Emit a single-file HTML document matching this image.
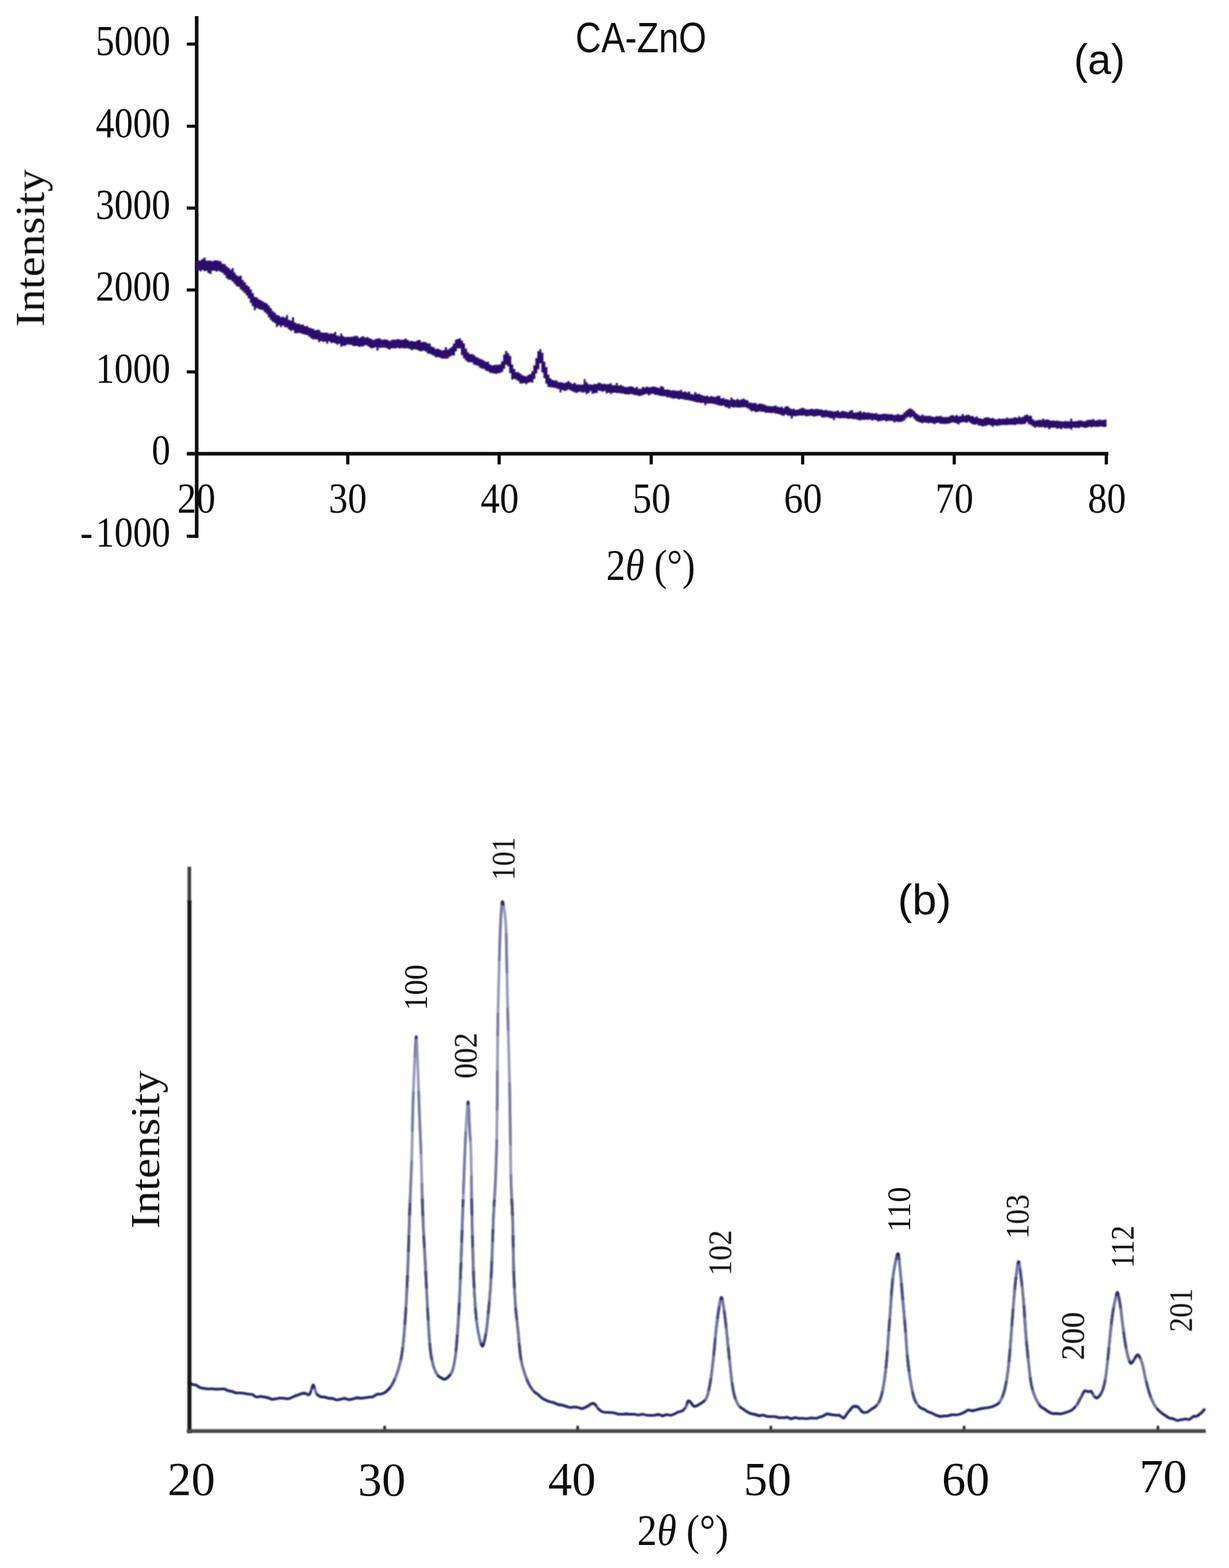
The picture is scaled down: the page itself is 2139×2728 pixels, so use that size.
<!DOCTYPE html>
<html lang="en"><head><meta charset="utf-8"><title>XRD patterns: CA-ZnO</title>
<style>
html,body{margin:0;padding:0;background:#fff;}
body{width:2139px;height:2728px;}
svg{display:block;}
.se{font-family:"Liberation Serif","DejaVu Serif",serif;fill:#0f0f0f;}
.tx{filter:url(#bl5);}
.sa{font-family:"Liberation Sans","DejaVu Sans",sans-serif;fill:#111;}
</style></head><body>
<svg width="2139" height="2728" viewBox="0 0 2139 2728" role="img" aria-label="XRD patterns of CA-ZnO (a) and ZnO (b)">
<rect x="0" y="0" width="2139" height="2728" fill="#ffffff"/>
<defs><filter id="bl2" x="-2%" y="-10%" width="104%" height="120%"><feGaussianBlur stdDeviation="0.8"/></filter><filter id="bl3" filterUnits="userSpaceOnUse" x="300" y="1480" width="1839" height="1040"><feGaussianBlur stdDeviation="0.9"/></filter><filter id="bl4" filterUnits="userSpaceOnUse" x="300" y="0" width="1700" height="960"><feGaussianBlur stdDeviation="0.7"/></filter><filter id="bl5" filterUnits="userSpaceOnUse" x="0" y="0" width="2139" height="2728"><feGaussianBlur stdDeviation="0.65"/></filter><filter id="bl" filterUnits="userSpaceOnUse" x="300" y="1480" width="1839" height="1040"><feGaussianBlur stdDeviation="1.15"/></filter></defs>
<g id="chart-a">
<g stroke="#0a0a0a" stroke-width="6.2" fill="none" stroke-linecap="butt" filter="url(#bl4)">
<line x1="342.3" y1="28" x2="342.3" y2="936"/>
<line x1="325" y1="789.3" x2="1929" y2="789.3"/>
<line x1="325" y1="76.7" x2="343" y2="76.7" stroke-width="5.4"/>
<line x1="325" y1="219.6" x2="343" y2="219.6" stroke-width="5.4"/>
<line x1="325" y1="362" x2="343" y2="362" stroke-width="5.4"/>
<line x1="325" y1="504.5" x2="343" y2="504.5" stroke-width="5.4"/>
<line x1="325" y1="647" x2="343" y2="647" stroke-width="5.4"/>
<line x1="325" y1="933" x2="343" y2="933" stroke-width="5.4"/>
<line x1="605.3" y1="789" x2="605.3" y2="808" stroke-width="5.6"/>
<line x1="868.7" y1="789" x2="868.7" y2="808" stroke-width="5.6"/>
<line x1="1133.4" y1="789" x2="1133.4" y2="808" stroke-width="5.6"/>
<line x1="1397" y1="789" x2="1397" y2="808" stroke-width="5.6"/>
<line x1="1660.8" y1="789" x2="1660.8" y2="808" stroke-width="5.6"/>
<line x1="1925.5" y1="789" x2="1925.5" y2="808" stroke-width="5.6"/>
</g>
<path d="M340.2,454.1V454.1H343.8V453.3H347.2V452.9H350.8V450.4H354.2V448.0H357.8V453.5H361.2V453.2H364.8V453.6H368.2V454.4H371.8V453.1H375.2V453.0H378.8V453.8H382.2V454.8H385.8V459.1H389.2V459.5H392.8V463.2H396.2V466.1H399.8V469.3H403.2V466.5H406.8V474.3H410.2V478.8H413.8V480.7H417.2V479.5H420.8V487.0H424.2V490.9H427.8V495.8H431.2V498.6H434.8V503.5H438.2V509.9H441.8V516.6H445.2V517.5H448.8V520.8H452.2V522.3H455.8V524.2H459.2V526.5H462.8V528.1H466.2V531.8H469.8V536.2H473.2V541.2H476.8V544.0H480.2V547.7H483.8V549.0H487.2V551.7H490.8V551.0H494.2V552.4H497.8V548.1H501.2V556.4H504.8V557.7H508.2V552.1H511.8V560.9H515.2V562.9H518.8V563.3H522.2V564.7H525.8V564.7H529.2V567.7H532.8V566.9H536.2V570.0H539.8V571.0H543.2V571.9H546.8V574.8H550.2V573.8H553.8V573.9H557.2V578.0H560.8V579.0H564.2V578.8H567.8V578.7H571.2V580.4H574.8V579.9H578.2V580.2H581.8V577.2H585.2V583.7H588.8V584.7H592.2V580.2H595.8V584.7H599.2V586.4H602.8V585.9H606.2V586.2H609.8V585.9H613.2V585.4H616.8V583.9H620.2V584.7H623.8V587.9H627.2V586.0H630.8V585.1H634.2V587.5H637.8V586.3H641.2V588.4H644.8V589.7H648.2V591.5H651.8V589.9H655.2V589.1H658.8V588.6H662.2V590.8H665.8V590.8H669.2V590.6H672.8V591.3H676.2V593.3H679.8V591.8H683.2V590.4H686.8V591.1H690.2V590.1H693.8V590.5H697.2V591.3H700.8V590.8H704.2V589.1H707.8V591.2H711.2V593.5H714.8V593.0H718.2V593.9H721.8V594.1H725.2V592.0H728.8V591.3H732.2V595.6H735.8V594.6H739.2V595.5H742.8V597.2H746.2V597.8H749.8V603.0H753.2V604.2H756.8V607.3H760.2V606.4H763.8V607.9H767.2V609.8H770.8V609.0H774.2V604.1H777.8V608.3H781.2V605.9H784.8V603.2H788.2V597.8H791.8V590.9H795.2V589.7H798.8V588.5H802.2V592.5H805.8V597.6H809.2V606.4H812.8V612.8H816.2V616.1H819.8V616.0H823.2V617.6H826.8V620.7H830.2V622.3H833.8V624.3H837.2V625.6H840.8V627.4H844.2V629.4H847.8V629.4H851.2V634.1H854.8V636.1H858.2V635.0H861.8V634.4H865.2V634.8H868.8V633.8H872.2V628.6H875.8V616.8H879.2V610.4H882.8V614.6H886.2V619.3H889.8V633.9H893.2V642.1H896.8V647.5H900.2V647.5H903.8V649.7H907.2V652.6H910.8V654.1H914.2V654.7H917.8V652.3H921.2V650.7H924.8V645.7H928.2V635.4H931.8V623.1H935.2V610.9H938.8V607.5H942.2V613.7H945.8V629.6H949.2V638.7H952.8V651.7H956.2V658.2H959.8V661.1H963.2V661.9H966.8V661.8H970.2V664.7H973.8V665.1H977.2V665.4H980.8V666.8H984.2V665.0H987.8V663.0H991.2V665.4H994.8V667.9H998.2V665.8H1001.8V668.8H1005.2V669.0H1008.8V669.2H1012.2V669.1H1015.8V659.4H1019.2V665.1H1022.8V668.6H1026.2V668.8H1029.8V669.3H1033.2V668.1H1036.8V668.0H1040.2V665.7H1043.8V666.6H1047.2V668.3H1050.8V667.5H1054.2V668.8H1057.8V668.3H1061.2V666.8H1064.8V670.2H1068.2V670.1H1071.8V666.1H1075.2V671.0H1078.8V669.5H1082.2V671.4H1085.8V673.0H1089.2V673.6H1092.8V672.8H1096.2V671.9H1099.8V673.1H1103.2V674.9H1106.8V672.9H1110.2V676.5H1113.8V676.4H1117.2V673.1H1120.8V674.2H1124.2V672.4H1127.8V673.9H1131.2V673.2H1134.8V672.5H1138.2V672.8H1141.8V673.9H1145.2V675.0H1148.8V671.7H1152.2V673.1H1155.8V677.7H1159.2V677.7H1162.8V678.1H1166.2V679.2H1169.8V678.9H1173.2V679.5H1176.8V679.9H1180.2V679.8H1183.8V678.4H1187.2V682.0H1190.8V680.9H1194.2V682.8H1197.8V681.0H1201.2V685.5H1204.8V686.4H1208.2V682.3H1211.8V685.2H1215.2V685.3H1218.8V687.0H1222.2V688.2H1225.8V689.3H1229.2V688.6H1232.8V690.6H1236.2V689.0H1239.8V689.9H1243.2V690.7H1246.8V688.9H1250.2V688.6H1253.8V693.3H1257.2V692.6H1260.8V694.3H1264.2V694.7H1267.8V696.2H1271.2V691.6H1274.8V694.7H1278.2V696.0H1281.8V694.0H1285.2V696.1H1288.8V694.9H1292.2V693.6H1295.8V695.6H1299.2V696.6H1302.8V700.5H1306.2V700.7H1309.8V701.6H1313.2V701.1H1316.8V703.6H1320.2V702.0H1323.8V702.6H1327.2V703.3H1330.8V704.9H1334.2V706.3H1337.8V706.4H1341.2V707.1H1344.8V706.6H1348.2V705.5H1351.8V707.7H1355.2V708.6H1358.8V707.5H1362.2V709.9H1365.8V707.0H1369.2V706.7H1372.8V709.7H1376.2V711.8H1379.8V711.0H1383.2V713.1H1386.8V712.4H1390.2V711.2H1393.8V709.4H1397.2V710.0H1400.8V712.1H1404.2V712.4H1407.8V712.1H1411.2V711.0H1414.8V712.2H1418.2V711.5H1421.8V711.6H1425.2V712.2H1428.8V712.4H1432.2V713.9H1435.8V713.1H1439.2V714.4H1442.8V714.4H1446.2V715.3H1449.8V716.1H1453.2V715.4H1456.8V713.9H1460.2V717.0H1463.8V715.1H1467.2V715.3H1470.8V716.2H1474.2V717.1H1477.8V714.7H1481.2V713.3H1484.8V718.0H1488.2V717.7H1491.8V716.9H1495.2V715.0H1498.8V717.7H1502.2V716.4H1505.8V718.3H1509.2V717.6H1512.8V718.5H1516.2V718.8H1519.8V719.4H1523.2V718.8H1526.8V720.6H1530.2V721.0H1533.8V720.3H1537.2V719.7H1540.8V719.9H1544.2V720.8H1547.8V720.6H1551.2V720.7H1554.8V722.2H1558.2V721.6H1561.8V720.1H1565.2V722.1H1568.8V721.0H1572.2V717.6H1575.8V714.4H1579.2V711.8H1582.8V710.6H1586.2V712.3H1589.8V715.4H1593.2V719.1H1596.8V721.8H1600.2V723.4H1603.8V720.9H1607.2V723.4H1610.8V723.4H1614.2V723.4H1617.8V723.6H1621.2V725.1H1624.8V725.6H1628.2V724.0H1631.8V724.3H1635.2V723.5H1638.8V725.2H1642.2V725.7H1645.8V725.5H1649.2V725.2H1652.8V722.9H1656.2V722.3H1659.8V723.7H1663.2V722.0H1666.8V724.2H1670.2V723.7H1673.8V720.3H1677.2V723.2H1680.8V721.9H1684.2V721.6H1687.8V723.8H1691.2V723.7H1694.8V726.2H1698.2V724.6H1701.8V727.4H1705.2V728.1H1708.8V729.0H1712.2V726.8H1715.8V726.0H1719.2V726.3H1722.8V728.1H1726.2V727.1H1729.8V728.9H1733.2V729.7H1736.8V728.1H1740.2V728.7H1743.8V728.4H1747.2V728.4H1750.8V726.6H1754.2V728.0H1757.8V727.8H1761.2V727.2H1764.8V725.7H1768.2V726.9H1771.8V724.2H1775.2V726.3H1778.8V725.1H1782.2V722.4H1785.8V721.0H1789.2V723.4H1792.8V723.3H1796.2V729.4H1799.8V731.9H1803.2V731.3H1806.8V730.5H1810.2V730.8H1813.8V728.2H1817.2V730.4H1820.8V729.6H1824.2V730.8H1827.8V732.1H1831.2V731.6H1834.8V732.2H1838.2V731.8H1841.8V732.6H1845.2V733.1H1848.8V733.2H1852.2V732.4H1855.8V732.8H1859.2V733.0H1862.8V728.3H1866.2V732.9H1869.8V733.0H1873.2V732.3H1876.8V731.6H1880.2V731.6H1883.8V732.9H1887.2V732.5H1890.8V730.8H1894.2V730.6H1897.8V730.3H1901.2V729.0H1904.8V731.8H1908.2V731.0H1911.8V729.8H1915.2V730.7H1918.8V730.7H1922.2V729.7H1925.8V742.8H1922.2V742.8H1918.8V742.0H1915.2V742.1H1911.8V742.9H1908.2V742.5H1904.8V742.4H1901.2V743.6H1897.8V742.6H1894.2V743.7H1890.8V744.6H1887.2V743.8H1883.8V742.7H1880.2V744.4H1876.8V744.4H1873.2V744.3H1869.8V744.1H1866.2V747.5H1862.8V745.3H1859.2V745.6H1855.8V745.4H1852.2V744.6H1848.8V746.8H1845.2V745.1H1841.8V745.9H1838.2V743.9H1834.8V744.1H1831.2V744.3H1827.8V746.8H1824.2V743.5H1820.8V744.6H1817.2V742.9H1813.8V743.3H1810.2V743.5H1806.8V742.5H1803.2V744.3H1799.8V741.9H1796.2V739.6H1792.8V737.9H1789.2V734.2H1785.8V737.5H1782.2V738.1H1778.8V738.6H1775.2V737.8H1771.8V738.2H1768.2V739.5H1764.8V738.9H1761.2V739.0H1757.8V739.1H1754.2V739.4H1750.8V739.6H1747.2V739.3H1743.8V739.8H1740.2V740.5H1736.8V741.1H1733.2V740.0H1729.8V742.4H1726.2V740.5H1722.8V739.0H1719.2V740.7H1715.8V740.9H1712.2V742.1H1708.8V740.6H1705.2V740.4H1701.8V738.1H1698.2V738.9H1694.8V738.0H1691.2V736.2H1687.8V733.7H1684.2V735.4H1680.8V734.8H1677.2V734.2H1673.8V735.5H1670.2V738.5H1666.8V736.8H1663.2V735.5H1659.8V734.7H1656.2V735.9H1652.8V737.3H1649.2V737.3H1645.8V737.7H1642.2V737.4H1638.8V737.3H1635.2V735.6H1631.8V736.1H1628.2V738.1H1624.8V736.4H1621.2V735.4H1617.8V736.6H1614.2V735.5H1610.8V735.1H1607.2V736.4H1603.8V735.2H1600.2V733.9H1596.8V732.4H1593.2V729.3H1589.8V725.2H1586.2V726.7H1582.8V725.2H1579.2V727.5H1575.8V731.4H1572.2V733.2H1568.8V734.1H1565.2V734.2H1561.8V733.5H1558.2V735.1H1554.8V732.2H1551.2V732.0H1547.8V732.2H1544.2V733.2H1540.8V731.2H1537.2V731.8H1533.8V732.4H1530.2V733.2H1526.8V731.3H1523.2V730.2H1519.8V731.8H1516.2V729.7H1512.8V730.6H1509.2V729.9H1505.8V730.4H1502.2V730.3H1498.8V731.4H1495.2V730.8H1491.8V729.3H1488.2V729.3H1484.8V728.8H1481.2V728.2H1477.8V728.8H1474.2V727.7H1470.8V727.6H1467.2V727.5H1463.8V728.1H1460.2V727.3H1456.8V726.8H1453.2V731.1H1449.8V727.8H1446.2V727.4H1442.8V725.9H1439.2V725.5H1435.8V726.5H1432.2V726.0H1428.8V723.3H1425.2V723.4H1421.8V724.1H1418.2V725.0H1414.8V723.5H1411.2V723.3H1407.8V724.3H1404.2V724.3H1400.8V722.8H1397.2V723.3H1393.8V723.1H1390.2V723.4H1386.8V724.0H1383.2V724.1H1379.8V728.2H1376.2V723.4H1372.8V723.1H1369.2V721.1H1365.8V723.5H1362.2V722.6H1358.8V721.0H1355.2V719.9H1351.8V719.5H1348.2V718.3H1344.8V718.7H1341.2V718.3H1337.8V717.9H1334.2V718.2H1330.8V716.2H1327.2V716.5H1323.8V715.6H1320.2V716.8H1316.8V717.0H1313.2V715.0H1309.8V715.8H1306.2V712.6H1302.8V710.2H1299.2V708.4H1295.8V708.6H1292.2V708.8H1288.8V709.3H1285.2V709.0H1281.8V708.4H1278.2V709.2H1274.8V708.1H1271.2V711.1H1267.8V708.9H1264.2V708.0H1260.8V705.6H1257.2V705.9H1253.8V705.6H1250.2V704.6H1246.8V703.2H1243.2V702.6H1239.8V701.9H1236.2V701.9H1232.8V702.1H1229.2V705.0H1225.8V700.8H1222.2V701.2H1218.8V700.2H1215.2V700.2H1211.8V699.2H1208.2V697.9H1204.8V697.6H1201.2V696.5H1197.8V696.1H1194.2V695.8H1190.8V694.8H1187.2V694.1H1183.8V695.0H1180.2V693.5H1176.8V693.1H1173.2V693.7H1169.8V692.4H1166.2V691.0H1162.8V691.4H1159.2V689.3H1155.8V689.2H1152.2V688.9H1148.8V688.2H1145.2V687.1H1141.8V687.1H1138.2V685.0H1134.8V685.7H1131.2V688.0H1127.8V685.3H1124.2V686.1H1120.8V687.2H1117.2V688.4H1113.8V688.9H1110.2V687.5H1106.8V687.6H1103.2V686.3H1099.8V685.3H1096.2V686.5H1092.8V686.1H1089.2V685.7H1085.8V684.6H1082.2V684.5H1078.8V683.7H1075.2V684.0H1071.8V682.9H1068.2V683.6H1064.8V685.2H1061.2V683.0H1057.8V684.5H1054.2V680.3H1050.8V681.4H1047.2V680.2H1043.8V679.6H1040.2V683.8H1036.8V684.0H1033.2V684.9H1029.8V680.6H1026.2V683.8H1022.8V685.4H1019.2V682.3H1015.8V683.2H1012.2V681.5H1008.8V681.9H1005.2V683.7H1001.8V682.5H998.2V681.0H994.8V679.2H991.2V677.6H987.8V679.6H984.2V680.2H980.8V678.5H977.2V682.7H973.8V677.0H970.2V675.4H966.8V674.5H963.2V674.2H959.8V673.8H956.2V672.9H952.8V667.6H949.2V658.1H945.8V648.0H942.2V632.1H938.8V642.4H935.2V649.8H931.8V659.2H928.2V665.7H924.8V664.7H921.2V666.1H917.8V668.6H914.2V666.5H910.8V667.3H907.2V667.2H903.8V663.0H900.2V660.4H896.8V659.1H893.2V660.4H889.8V649.3H886.2V637.6H882.8V634.6H879.2V641.7H875.8V646.9H872.2V648.8H868.8V649.4H865.2V650.6H861.8V649.8H858.2V649.3H854.8V648.4H851.2V646.1H847.8V644.9H844.2V641.9H840.8V641.2H837.2V639.9H833.8V636.4H830.2V635.6H826.8V634.3H823.2V630.5H819.8V630.3H816.2V629.9H812.8V627.2H809.2V623.3H805.8V617.7H802.2V606.1H798.8V606.1H795.2V611.3H791.8V618.5H788.2V618.5H784.8V620.4H781.2V623.5H777.8V624.2H774.2V623.8H770.8V624.0H767.2V622.0H763.8V621.3H760.2V621.6H756.8V618.8H753.2V617.2H749.8V615.5H746.2V615.0H742.8V611.5H739.2V609.9H735.8V611.0H732.2V611.1H728.8V609.0H725.2V607.8H721.8V608.1H718.2V609.3H714.8V606.9H711.2V605.8H707.8V605.9H704.2V605.9H700.8V605.5H697.2V606.2H693.8V605.1H690.2V606.2H686.8V605.8H683.2V606.0H679.8V608.2H676.2V606.5H672.8V605.0H669.2V604.7H665.8V604.9H662.2V604.9H658.8V610.1H655.2V604.1H651.8V605.4H648.2V606.3H644.8V604.0H641.2V601.4H637.8V600.5H634.2V602.5H630.8V602.7H627.2V603.6H623.8V602.1H620.2V602.1H616.8V601.9H613.2V600.1H609.8V599.6H606.2V599.3H602.8V601.5H599.2V601.5H595.8V603.2H592.2V598.0H588.8V599.4H585.2V597.2H581.8V596.2H578.2V596.8H574.8V593.9H571.2V597.9H567.8V594.3H564.2V595.1H560.8V593.3H557.2V595.2H553.8V590.7H550.2V590.3H546.8V590.5H543.2V588.4H539.8V585.4H536.2V582.9H532.8V582.2H529.2V581.2H525.8V580.1H522.2V578.9H518.8V579.7H515.2V579.8H511.8V574.3H508.2V575.9H504.8V573.2H501.2V569.8H497.8V569.2H494.2V566.3H490.8V569.2H487.2V565.7H483.8V568.7H480.2V561.9H476.8V559.9H473.2V556.8H469.8V552.2H466.2V546.6H462.8V543.3H459.2V539.4H455.8V538.8H452.2V537.8H448.8V535.8H445.2V539.8H441.8V532.8H438.2V526.9H434.8V519.2H431.2V514.0H427.8V509.9H424.2V506.6H420.8V503.4H417.2V499.1H413.8V498.1H410.2V493.9H406.8V490.2H403.2V487.1H399.8V486.5H396.2V484.0H392.8V478.4H389.2V475.1H385.8V473.1H382.2V471.2H378.8V472.4H375.2V471.0H371.8V471.1H368.2V476.8H364.8V475.1H361.2V471.2H357.8V471.8H354.2V469.8H350.8V472.2H347.2V470.1H343.8V471.6H340.2Z" fill="#2c0d6c" filter="url(#bl2)"/>
<g class="tx">
<text class="se" x="296.5" y="95.5" font-size="74" text-anchor="end" textLength="130.0" lengthAdjust="spacingAndGlyphs">5000</text>
<text class="se" x="296.5" y="239.0" font-size="74" text-anchor="end" textLength="130.0" lengthAdjust="spacingAndGlyphs">4000</text>
<text class="se" x="296.5" y="380.5" font-size="74" text-anchor="end" textLength="130.0" lengthAdjust="spacingAndGlyphs">3000</text>
<text class="se" x="296.5" y="523.0" font-size="74" text-anchor="end" textLength="130.0" lengthAdjust="spacingAndGlyphs">2000</text>
<text class="se" x="296.5" y="665.5" font-size="74" text-anchor="end" textLength="130.0" lengthAdjust="spacingAndGlyphs">1000</text>
<text class="se" x="296.5" y="808.0" font-size="74" text-anchor="end" textLength="32.5" lengthAdjust="spacingAndGlyphs">0</text>
<text class="se" y="950.5" font-size="74"><tspan x="139.5" textLength="22" lengthAdjust="spacingAndGlyphs">-</tspan><tspan x="166.5" textLength="130" lengthAdjust="spacingAndGlyphs">1000</tspan></text>
<text class="se" x="341.7" y="892" font-size="74" text-anchor="middle" textLength="66.5" lengthAdjust="spacingAndGlyphs">20</text>
<text class="se" x="605.3" y="892" font-size="74" text-anchor="middle" textLength="66.5" lengthAdjust="spacingAndGlyphs">30</text>
<text class="se" x="869.7" y="892" font-size="74" text-anchor="middle" textLength="66.5" lengthAdjust="spacingAndGlyphs">40</text>
<text class="se" x="1134" y="892" font-size="74" text-anchor="middle" textLength="66.5" lengthAdjust="spacingAndGlyphs">50</text>
<text class="se" x="1397.5" y="892" font-size="74" text-anchor="middle" textLength="66.5" lengthAdjust="spacingAndGlyphs">60</text>
<text class="se" x="1661" y="892" font-size="74" text-anchor="middle" textLength="66.5" lengthAdjust="spacingAndGlyphs">70</text>
<text class="se" x="1926.5" y="892" font-size="74" text-anchor="middle" textLength="66.5" lengthAdjust="spacingAndGlyphs">80</text>
<text class="se" transform="translate(76.5,568.5) rotate(-90)" font-size="71.5" textLength="274" lengthAdjust="spacingAndGlyphs">Intensity</text>
<text class="se" x="1055" y="1008.5" font-size="76" textLength="155" lengthAdjust="spacingAndGlyphs">2<tspan font-style="italic">θ</tspan> (°)</text>
<text class="sa" x="1001.5" y="91" font-size="75" textLength="228" lengthAdjust="spacingAndGlyphs">CA-ZnO</text>
<text class="sa" x="1869" y="129" font-size="75" textLength="89" lengthAdjust="spacingAndGlyphs">(a)</text>
</g>
</g>
<g id="chart-b">
<g filter="url(#bl)" fill="none" stroke-linejoin="round">
<polyline points="329.0,2405.9 330.8,2406.8 332.6,2407.7 334.4,2408.5 336.3,2408.9 338.1,2409.2 339.9,2409.4 341.8,2410.1 343.6,2411.4 345.5,2412.6 347.4,2413.8 349.3,2414.5 351.2,2414.9 353.1,2415.3 355.0,2415.5 356.9,2415.8 358.9,2416.0 360.8,2416.3 362.8,2416.4 364.8,2416.3 366.8,2416.2 368.8,2416.1 370.8,2416.3 372.8,2416.6 374.9,2416.9 376.9,2417.0 378.9,2416.9 380.9,2416.8 382.9,2416.8 385.0,2416.6 387.0,2416.4 389.0,2416.3 390.9,2416.6 392.9,2417.6 394.9,2418.5 396.9,2419.6 398.8,2419.9 400.8,2420.3 402.7,2420.7 404.7,2421.2 406.7,2421.9 408.6,2422.6 410.6,2423.4 412.5,2423.4 414.5,2423.4 416.4,2423.3 418.4,2423.3 420.4,2423.6 422.3,2423.8 424.3,2424.1 426.2,2424.4 428.2,2424.8 430.2,2425.2 432.1,2425.5 434.1,2425.7 436.0,2425.8 438.0,2425.9 439.9,2426.6 441.9,2427.9 443.8,2429.2 445.8,2430.5 447.8,2430.4 449.7,2430.1 451.7,2429.7 453.7,2429.6 455.6,2429.9 457.6,2430.1 459.6,2430.3 461.6,2430.7 463.5,2431.2 465.5,2431.7 467.5,2432.2 469.5,2433.0 471.5,2433.7 473.5,2434.4 475.6,2434.3 477.6,2434.0 479.6,2433.7 481.6,2433.4 483.6,2433.0 485.6,2432.7 487.6,2432.3 489.6,2432.4 491.6,2432.5 493.5,2432.7 495.5,2432.9 497.5,2433.3 499.4,2433.5 501.4,2433.7 503.4,2433.2 505.3,2432.4 507.3,2431.6 509.2,2430.7 511.1,2429.8 513.0,2429.0 515.0,2428.1 516.9,2427.5 518.8,2427.0 520.6,2426.3 522.5,2425.5 524.3,2424.9 526.2,2424.4 528.1,2424.0 529.9,2423.9 531.9,2424.4 534.0,2425.4 536.1,2426.5 537.8,2426.7 539.0,2425.3 540.1,2422.9 541.0,2420.6 541.8,2418.0 542.6,2415.4 543.4,2413.1 544.2,2410.9 545.0,2409.3 545.8,2410.3 546.5,2412.4 547.2,2414.2 547.9,2416.4 548.7,2418.9 549.5,2421.3 550.3,2423.6 551.3,2425.3 552.4,2426.4 553.7,2427.5 555.3,2428.6 557.1,2429.6 559.0,2430.3 561.0,2430.6 563.0,2430.7 565.0,2430.6 566.9,2431.2 568.8,2431.8 570.7,2432.4 572.7,2432.9 574.6,2432.9 576.6,2433.0 578.6,2433.0 580.6,2433.7 582.6,2434.5 584.7,2435.3 586.7,2435.6 588.8,2435.2 590.8,2434.8 592.8,2434.4 594.9,2433.9 596.9,2433.4 598.9,2432.9 600.9,2433.0 602.9,2433.8 604.9,2434.5 606.9,2435.3 608.9,2434.9 610.9,2434.5 612.9,2434.1 615.0,2433.6 617.0,2433.0 619.0,2432.4 621.0,2431.8 623.0,2432.0 625.0,2432.2 627.0,2432.5 628.9,2432.5 630.9,2432.3 632.9,2432.1 634.9,2431.9 636.9,2431.7 638.8,2431.3 640.8,2430.9 642.8,2430.7 644.8,2430.6 646.8,2430.5 648.8,2430.3 650.8,2429.1 652.7,2427.8 654.7,2426.5 656.6,2425.6 658.4,2425.6 660.2,2425.5 662.0,2425.4 663.8,2425.1 665.6,2424.6 667.4,2423.9 669.2,2423.1 670.9,2422.0 672.5,2420.6 674.1,2419.2 675.6,2417.8 677.0,2416.3 678.3,2414.9 679.4,2413.4 680.6,2411.8 681.6,2410.1 682.7,2408.3 683.7,2406.4 684.6,2404.5 685.6,2402.6 686.4,2400.7 687.3,2398.8 688.1,2396.9 688.9,2395.0 689.6,2393.1 690.3,2391.2 690.9,2389.3 691.6,2387.5 692.2,2385.6 692.8,2383.7 693.4,2381.8 694.0,2379.9 694.5,2377.9 695.1,2376.0 695.6,2374.0 696.1,2372.1 696.6,2370.1 697.0,2368.2 697.5,2366.2 697.9,2364.2 698.3,2362.3 698.7,2360.3 699.0,2358.3 699.3,2356.3 699.6,2354.4 699.9,2352.4 700.2,2350.5 700.4,2348.5 700.7,2346.5 700.9,2344.5 701.2,2342.5 701.4,2340.6 701.6,2338.6 701.8,2336.6 702.0,2334.6 702.2,2332.6 702.4,2330.6 702.6,2328.6 702.8,2326.6 703.0,2324.6 703.2,2322.6 703.3,2320.6 703.5,2318.6 703.7,2316.6 703.8,2314.6 704.0,2312.6 704.1,2310.6 704.3,2308.6 704.4,2306.6 704.6,2304.6 704.7,2302.6 704.9,2300.6 705.0,2298.6 705.1,2296.6 705.3,2294.6 705.4,2292.7 705.5,2290.7 705.7,2288.7 705.8,2286.7 705.9,2284.7 706.0,2282.7 706.2,2280.7 706.3,2278.7 706.4,2276.7 706.5,2274.7 706.6,2272.7 706.7,2270.7 706.9,2268.7 707.0,2266.7 707.1,2264.7 707.2,2262.7 707.3,2260.7 707.4,2258.7 707.5,2256.7 707.6,2254.7 707.7,2252.7 707.8,2250.7 707.9,2248.7 708.0,2246.7 708.1,2244.7 708.2,2242.7 708.3,2240.7 708.4,2238.7 708.5,2236.7 708.6,2234.7 708.6,2232.7 708.7,2230.7 708.8,2228.7 708.9,2226.7 709.0,2224.7 709.1,2222.8 709.2,2220.8 709.2,2218.8 709.3,2216.8 709.4,2214.8 709.5,2212.8 709.6,2210.8 709.6,2208.8 709.7,2206.8 709.8,2204.8 709.9,2202.8 710.0,2200.8 710.0,2198.8 710.1,2196.8 710.2,2194.8 710.3,2192.8 710.3,2190.8 710.4,2188.8 710.5,2186.8 710.5,2184.8 710.6,2182.8 710.7,2180.8 710.7,2178.8 710.8,2176.8 710.9,2174.8 710.9,2172.8 711.0,2170.8 711.1,2168.8 711.1,2166.8 711.2,2164.8 711.3,2162.8 711.3,2160.8 711.4,2158.8 711.4,2156.8 711.5,2154.8 711.6,2152.8 711.6,2150.8 711.7,2148.8 711.7,2146.8 711.8,2144.8 711.9,2142.8 711.9,2140.8 712.0,2138.8 712.1,2136.8 712.1,2134.8 712.2,2132.8 712.2,2130.8 712.3,2128.8 712.4,2126.8 712.4,2124.8 712.5,2122.8 712.6,2120.8 712.6,2118.8 712.7,2116.8 712.8,2114.8 712.8,2112.8 712.9,2110.8 713.0,2108.8 713.1,2106.8 713.1,2104.8 713.2,2102.8 713.3,2100.8 713.4,2098.8 713.4,2096.8 713.5,2094.8 713.6,2092.8 713.7,2090.8 713.8,2088.8 713.8,2086.8 713.9,2084.8 714.0,2082.8 714.1,2080.8 714.2,2078.8 714.2,2076.8 714.3,2074.8 714.4,2072.8 714.5,2070.8 714.6,2068.8 714.6,2066.8 714.7,2064.8 714.8,2062.9 714.9,2060.9 715.0,2058.9 715.0,2056.9 715.1,2054.9 715.2,2052.9 715.3,2050.9 715.3,2048.9 715.4,2046.9 715.5,2044.9 715.6,2042.9 715.7,2040.9 715.7,2038.9 715.8,2036.9 715.9,2034.9 716.0,2032.9 716.0,2030.9 716.1,2028.9 716.2,2026.9 716.2,2024.9 716.3,2022.9 716.4,2020.9 716.4,2018.9 716.5,2016.9 716.6,2014.9 716.6,2012.9 716.7,2010.9 716.7,2008.9 716.8,2006.9 716.9,2004.9 716.9,2002.9 717.0,2000.9 717.0,1998.9 717.1,1996.9 717.1,1994.9 717.2,1992.9 717.2,1990.9 717.3,1988.9 717.3,1986.9 717.4,1984.9 717.4,1982.9 717.4,1980.9 717.5,1978.9 717.5,1976.9 717.6,1974.9 717.6,1972.9 717.6,1970.9 717.7,1968.9 717.7,1966.9 717.7,1964.9 717.8,1962.9 717.8,1960.9 717.9,1958.9 717.9,1956.9 717.9,1954.9 718.0,1952.9 718.0,1950.9 718.1,1948.9 718.1,1946.9 718.1,1944.9 718.2,1942.9 718.2,1940.9 718.3,1938.9 718.3,1936.9 718.4,1934.9 718.4,1932.9 718.5,1930.9 718.5,1928.9 718.6,1926.9 718.6,1924.9 718.7,1922.9 718.8,1920.9 718.8,1918.9 718.9,1916.9 718.9,1914.9 719.0,1912.9 719.1,1910.9 719.1,1908.9 719.2,1906.9 719.3,1904.9 719.3,1902.9 719.4,1900.9 719.5,1898.9 719.6,1896.9 719.6,1894.9 719.7,1892.9 719.8,1890.9 719.9,1888.9 719.9,1886.9 720.0,1884.9 720.1,1882.9 720.2,1880.9 720.3,1878.9 720.3,1876.9 720.4,1874.9 720.5,1872.9 720.6,1870.9 720.7,1868.9 720.8,1866.9 720.9,1864.9 720.9,1862.9 721.0,1861.0 721.1,1859.0 721.2,1857.0 721.3,1855.0 721.4,1853.0 721.5,1851.0 721.6,1848.9 721.7,1846.7 721.8,1844.3 721.9,1841.8 722.0,1839.3 722.2,1836.7 722.3,1834.0 722.4,1831.4 722.5,1828.7 722.7,1826.1 722.8,1823.5 722.9,1821.0 723.1,1818.6 723.2,1816.3 723.3,1814.1 723.5,1812.1 723.6,1810.3 723.7,1808.7 723.9,1807.3 724.0,1806.2 724.1,1805.3 724.2,1804.7 724.4,1803.6 724.5,1804.4 724.6,1804.9 724.7,1805.6 724.8,1806.5 725.0,1807.8 725.1,1809.2 725.2,1810.9 725.3,1812.8 725.4,1814.9 725.6,1817.1 725.7,1819.4 725.8,1821.9 725.9,1824.4 726.0,1827.0 726.1,1829.7 726.2,1832.3 726.3,1835.0 726.5,1837.6 726.6,1840.2 726.7,1842.7 726.8,1845.1 726.9,1847.5 726.9,1849.6 727.0,1851.7 727.1,1853.7 727.2,1855.7 727.3,1857.7 727.4,1859.7 727.4,1861.7 727.5,1863.7 727.6,1865.7 727.7,1867.7 727.7,1869.7 727.8,1871.7 727.9,1873.7 727.9,1875.7 728.0,1877.7 728.1,1879.7 728.1,1881.7 728.2,1883.6 728.3,1885.6 728.3,1887.6 728.4,1889.6 728.5,1891.6 728.5,1893.6 728.6,1895.6 728.6,1897.6 728.7,1899.6 728.8,1901.6 728.8,1903.6 728.9,1905.6 729.0,1907.6 729.0,1909.6 729.1,1911.6 729.1,1913.6 729.2,1915.6 729.3,1917.6 729.3,1919.6 729.4,1921.6 729.5,1923.6 729.5,1925.6 729.6,1927.6 729.7,1929.6 729.7,1931.6 729.8,1933.6 729.9,1935.6 729.9,1937.6 730.0,1939.6 730.1,1941.6 730.2,1943.6 730.3,1945.6 730.3,1947.6 730.4,1949.6 730.5,1951.6 730.6,1953.6 730.7,1955.6 730.8,1957.6 730.8,1959.6 730.9,1961.6 731.0,1963.6 731.1,1965.6 731.2,1967.6 731.3,1969.6 731.4,1971.6 731.4,1973.6 731.5,1975.6 731.6,1977.6 731.7,1979.6 731.8,1981.6 731.9,1983.6 731.9,1985.6 732.0,1987.6 732.1,1989.6 732.2,1991.6 732.3,1993.6 732.3,1995.6 732.4,1997.6 732.5,1999.6 732.6,2001.6 732.6,2003.6 732.7,2005.6 732.8,2007.6 732.8,2009.6 732.9,2011.6 732.9,2013.6 733.0,2015.6 733.1,2017.6 733.1,2019.6 733.2,2021.6 733.3,2023.6 733.3,2025.6 733.4,2027.6 733.4,2029.6 733.5,2031.6 733.5,2033.6 733.6,2035.6 733.6,2037.6 733.7,2039.6 733.8,2041.6 733.8,2043.6 733.9,2045.6 733.9,2047.6 734.0,2049.6 734.0,2051.6 734.1,2053.6 734.1,2055.5 734.2,2057.5 734.2,2059.5 734.3,2061.5 734.3,2063.5 734.4,2065.5 734.4,2067.5 734.5,2069.5 734.6,2071.5 734.6,2073.5 734.7,2075.5 734.7,2077.5 734.8,2079.5 734.8,2081.5 734.9,2083.5 735.0,2085.5 735.0,2087.5 735.1,2089.5 735.1,2091.5 735.2,2093.5 735.3,2095.5 735.3,2097.5 735.4,2099.5 735.4,2101.5 735.5,2103.5 735.6,2105.5 735.7,2107.5 735.7,2109.5 735.8,2111.5 735.9,2113.5 735.9,2115.5 736.0,2117.5 736.1,2119.5 736.2,2121.5 736.3,2123.5 736.3,2125.5 736.4,2127.5 736.5,2129.5 736.6,2131.5 736.7,2133.5 736.8,2135.5 736.9,2137.5 737.0,2139.5 737.1,2141.5 737.2,2143.5 737.3,2145.5 737.4,2147.5 737.5,2149.5 737.6,2151.5 737.7,2153.5 737.8,2155.5 737.9,2157.5 738.0,2159.5 738.1,2161.5 738.2,2163.5 738.4,2165.5 738.5,2167.5 738.6,2169.5 738.7,2171.5 738.8,2173.4 738.9,2175.4 739.0,2177.4 739.1,2179.4 739.2,2181.4 739.3,2183.4 739.5,2185.4 739.6,2187.4 739.7,2189.4 739.8,2191.4 739.9,2193.4 740.0,2195.4 740.1,2197.4 740.2,2199.4 740.3,2201.4 740.4,2203.4 740.5,2205.4 740.6,2207.4 740.7,2209.4 740.8,2211.4 740.9,2213.4 741.0,2215.4 741.1,2217.4 741.2,2219.4 741.3,2221.4 741.4,2223.4 741.5,2225.4 741.6,2227.4 741.7,2229.4 741.8,2231.4 741.9,2233.4 742.0,2235.4 742.1,2237.4 742.2,2239.4 742.3,2241.4 742.4,2243.4 742.5,2245.4 742.6,2247.4 742.7,2249.4 742.8,2251.4 742.9,2253.3 743.0,2255.3 743.1,2257.3 743.2,2259.3 743.3,2261.3 743.4,2263.3 743.5,2265.3 743.6,2267.3 743.7,2269.3 743.8,2271.3 743.9,2273.3 744.0,2275.3 744.1,2277.3 744.2,2279.3 744.3,2281.3 744.4,2283.3 744.6,2285.3 744.7,2287.3 744.8,2289.3 744.9,2291.3 745.0,2293.3 745.2,2295.3 745.3,2297.3 745.4,2299.3 745.5,2301.3 745.6,2303.3 745.7,2305.3 745.9,2307.3 746.0,2309.3 746.1,2311.3 746.2,2313.3 746.3,2315.3 746.4,2317.3 746.6,2319.3 746.7,2321.3 746.8,2323.3 747.0,2325.3 747.1,2327.3 747.2,2329.3 747.4,2331.3 747.6,2333.3 747.7,2335.3 747.9,2337.3 748.1,2339.3 748.3,2341.3 748.4,2343.2 748.7,2345.2 748.9,2347.2 749.1,2349.2 749.3,2351.1 749.6,2353.1 749.8,2355.1 750.1,2357.2 750.5,2359.2 750.8,2361.3 751.2,2363.3 751.6,2365.4 752.0,2367.5 752.5,2369.5 753.0,2371.5 753.5,2373.5 754.0,2375.4 754.6,2377.3 755.2,2379.2 755.9,2381.0 756.6,2382.8 757.3,2384.4 758.0,2386.1 758.9,2388.0 760.1,2390.1 761.4,2392.2 762.9,2393.9 764.5,2395.2 766.2,2396.3 767.9,2397.0 769.6,2398.1 771.2,2399.0 772.7,2399.5 774.3,2399.4 775.9,2398.8 777.7,2397.7 779.4,2396.3 781.1,2394.7 782.7,2392.9 784.2,2390.9 785.4,2389.1 786.4,2387.4 787.1,2385.8 787.6,2384.2 788.1,2382.5 788.6,2380.8 789.0,2379.1 789.4,2377.3 789.8,2375.5 790.2,2373.6 790.6,2371.7 791.0,2369.8 791.3,2367.8 791.6,2365.9 791.9,2363.9 792.2,2361.8 792.5,2359.8 792.8,2357.8 793.0,2355.7 793.3,2353.6 793.5,2351.5 793.7,2349.4 793.9,2347.3 794.1,2345.2 794.3,2343.1 794.5,2340.9 794.7,2338.8 794.8,2336.7 795.0,2334.6 795.2,2332.5 795.3,2330.5 795.5,2328.4 795.7,2326.4 795.8,2324.3 796.0,2322.3 796.1,2320.3 796.3,2318.3 796.4,2316.4 796.6,2314.4 796.7,2312.4 796.9,2310.4 797.0,2308.4 797.1,2306.4 797.3,2304.4 797.4,2302.4 797.5,2300.4 797.7,2298.4 797.8,2296.4 797.9,2294.4 798.0,2292.4 798.1,2290.4 798.3,2288.5 798.4,2286.5 798.5,2284.5 798.6,2282.5 798.7,2280.5 798.8,2278.5 798.9,2276.5 799.0,2274.5 799.1,2272.5 799.2,2270.5 799.3,2268.5 799.4,2266.5 799.5,2264.5 799.6,2262.5 799.7,2260.5 799.8,2258.5 799.9,2256.5 800.0,2254.5 800.1,2252.5 800.1,2250.5 800.2,2248.5 800.3,2246.5 800.4,2244.5 800.5,2242.5 800.6,2240.5 800.7,2238.5 800.7,2236.5 800.8,2234.5 800.9,2232.5 801.0,2230.5 801.1,2228.5 801.1,2226.5 801.2,2224.5 801.3,2222.5 801.4,2220.5 801.5,2218.5 801.5,2216.5 801.6,2214.5 801.7,2212.5 801.8,2210.5 801.9,2208.5 801.9,2206.5 802.0,2204.5 802.1,2202.5 802.2,2200.5 802.3,2198.5 802.3,2196.5 802.4,2194.5 802.5,2192.5 802.6,2190.5 802.6,2188.5 802.7,2186.5 802.8,2184.5 802.8,2182.5 802.9,2180.5 803.0,2178.5 803.0,2176.5 803.1,2174.5 803.2,2172.5 803.2,2170.5 803.3,2168.5 803.4,2166.5 803.4,2164.5 803.5,2162.5 803.6,2160.5 803.6,2158.5 803.7,2156.5 803.8,2154.5 803.8,2152.5 803.9,2150.5 804.0,2148.5 804.0,2146.5 804.1,2144.5 804.1,2142.5 804.2,2140.5 804.3,2138.5 804.3,2136.5 804.4,2134.5 804.5,2132.5 804.5,2130.5 804.6,2128.5 804.7,2126.5 804.7,2124.5 804.8,2122.5 804.9,2120.5 804.9,2118.5 805.0,2116.5 805.1,2114.5 805.2,2112.5 805.2,2110.5 805.3,2108.5 805.4,2106.5 805.4,2104.5 805.5,2102.5 805.6,2100.5 805.6,2098.5 805.7,2096.5 805.8,2094.5 805.9,2092.5 805.9,2090.5 806.0,2088.5 806.1,2086.5 806.1,2084.5 806.2,2082.6 806.3,2080.6 806.3,2078.6 806.4,2076.6 806.5,2074.6 806.5,2072.6 806.6,2070.6 806.7,2068.6 806.8,2066.6 806.8,2064.6 806.9,2062.6 807.0,2060.6 807.0,2058.6 807.1,2056.6 807.2,2054.6 807.3,2052.6 807.3,2050.6 807.4,2048.6 807.5,2046.6 807.5,2044.6 807.6,2042.6 807.7,2040.6 807.8,2038.6 807.8,2036.6 807.9,2034.6 808.0,2032.6 808.1,2030.6 808.1,2028.6 808.2,2026.6 808.3,2024.6 808.4,2022.6 808.5,2020.6 808.5,2018.6 808.6,2016.6 808.7,2014.6 808.8,2012.6 808.9,2010.6 808.9,2008.6 809.0,2006.6 809.1,2004.6 809.2,2002.6 809.3,2000.6 809.4,1998.6 809.4,1996.6 809.5,1994.6 809.6,1992.6 809.7,1990.6 809.8,1988.6 809.9,1986.6 810.0,1984.6 810.0,1982.6 810.1,1980.6 810.2,1978.6 810.3,1976.6 810.4,1974.6 810.5,1972.6 810.6,1970.6 810.7,1968.6 810.8,1966.6 810.9,1964.6 811.0,1962.6 811.1,1960.6 811.2,1958.6 811.3,1956.6 811.4,1954.7 811.5,1952.7 811.6,1950.7 811.8,1948.7 811.9,1946.7 812.0,1944.7 812.2,1942.5 812.3,1940.1 812.5,1937.6 812.7,1935.0 812.9,1932.3 813.1,1929.7 813.3,1927.2 813.5,1924.8 813.7,1922.6 813.9,1920.7 814.1,1919.1 814.3,1918.0 814.5,1917.2 814.6,1917.3 814.8,1917.2 814.9,1917.7 815.0,1918.4 815.2,1919.4 815.3,1920.7 815.4,1922.1 815.5,1923.8 815.6,1925.6 815.7,1927.6 815.8,1929.8 816.0,1932.1 816.1,1934.5 816.2,1937.0 816.3,1939.5 816.4,1942.1 816.5,1944.8 816.6,1947.4 816.7,1950.1 816.8,1952.7 816.9,1955.3 817.0,1957.9 817.1,1960.3 817.2,1962.7 817.3,1965.0 817.4,1967.1 817.6,1969.1 817.7,1971.1 817.8,1973.1 818.0,1975.1 818.1,1977.1 818.3,1979.1 818.4,1981.1 818.6,1983.1 818.7,1985.1 818.8,1987.1 819.0,1989.1 819.1,1991.1 819.2,1993.1 819.3,1995.1 819.4,1997.1 819.5,1999.1 819.5,2001.1 819.6,2003.1 819.6,2005.1 819.7,2007.1 819.7,2009.1 819.8,2011.0 819.8,2013.0 819.9,2015.0 819.9,2017.0 820.0,2019.0 820.0,2021.0 820.0,2023.0 820.1,2025.0 820.1,2027.0 820.2,2029.0 820.2,2031.0 820.2,2033.0 820.3,2035.0 820.3,2037.0 820.3,2039.0 820.3,2041.0 820.4,2043.0 820.4,2045.0 820.4,2047.0 820.4,2049.0 820.5,2051.0 820.5,2053.0 820.5,2055.0 820.5,2057.0 820.6,2059.0 820.6,2061.0 820.6,2063.0 820.6,2065.0 820.7,2067.0 820.7,2069.0 820.7,2071.0 820.7,2073.0 820.8,2075.0 820.8,2077.0 820.8,2079.0 820.8,2081.0 820.9,2083.0 820.9,2085.0 820.9,2087.0 820.9,2089.0 821.0,2091.0 821.0,2093.0 821.0,2095.0 821.1,2097.0 821.1,2099.0 821.1,2101.0 821.2,2103.0 821.2,2105.0 821.2,2107.0 821.3,2109.0 821.3,2111.0 821.4,2113.0 821.4,2115.0 821.4,2117.0 821.5,2119.0 821.5,2121.0 821.6,2123.0 821.6,2125.0 821.6,2127.0 821.7,2129.0 821.7,2131.0 821.8,2133.0 821.8,2135.0 821.9,2137.0 821.9,2139.0 822.0,2141.0 822.0,2143.0 822.0,2145.0 822.1,2147.0 822.1,2149.0 822.2,2151.0 822.2,2153.0 822.3,2155.0 822.3,2157.0 822.4,2159.0 822.4,2161.0 822.5,2163.0 822.5,2165.0 822.6,2167.0 822.6,2169.0 822.7,2171.0 822.7,2173.0 822.8,2175.0 822.9,2177.0 822.9,2179.0 823.0,2181.0 823.0,2183.0 823.1,2185.0 823.2,2187.0 823.2,2189.0 823.3,2191.0 823.3,2193.0 823.4,2195.0 823.5,2197.0 823.5,2199.0 823.6,2201.0 823.7,2203.0 823.7,2205.0 823.8,2207.0 823.9,2209.0 824.0,2211.0 824.0,2213.0 824.1,2215.0 824.2,2217.0 824.3,2219.0 824.3,2221.0 824.4,2223.0 824.5,2225.0 824.6,2227.0 824.7,2229.0 824.8,2231.0 824.9,2233.0 825.0,2235.0 825.1,2237.0 825.2,2239.0 825.3,2241.0 825.4,2243.0 825.5,2245.0 825.6,2247.0 825.7,2249.0 825.8,2251.0 825.9,2253.0 826.0,2255.0 826.2,2257.0 826.3,2259.0 826.4,2261.0 826.5,2263.0 826.7,2264.9 826.8,2266.9 826.9,2268.9 827.1,2270.9 827.2,2272.9 827.4,2274.9 827.5,2276.9 827.7,2278.9 827.8,2280.9 828.0,2282.9 828.2,2284.9 828.3,2286.9 828.5,2288.9 828.7,2290.9 828.9,2292.9 829.1,2294.9 829.4,2296.9 829.6,2298.9 829.8,2300.9 830.1,2302.9 830.3,2304.9 830.6,2306.8 830.9,2308.8 831.2,2310.8 831.5,2312.7 831.8,2314.7 832.1,2316.7 832.5,2318.8 833.0,2321.2 833.5,2323.6 834.0,2326.2 834.6,2328.7 835.3,2331.2 835.9,2333.6 836.6,2335.7 837.2,2337.6 837.9,2339.2 838.5,2340.6 839.1,2341.7 839.7,2342.1 840.3,2341.6 840.8,2340.4 841.4,2339.0 842.0,2337.3 842.6,2335.2 843.1,2332.9 843.7,2330.4 844.2,2327.9 844.7,2325.3 845.2,2322.8 845.6,2320.4 845.9,2318.3 846.3,2316.3 846.6,2314.4 846.8,2312.4 847.1,2310.4 847.4,2308.4 847.6,2306.4 847.8,2304.4 848.0,2302.5 848.3,2300.5 848.5,2298.5 848.7,2296.5 848.9,2294.5 849.1,2292.5 849.2,2290.5 849.4,2288.5 849.6,2286.5 849.8,2284.5 850.0,2282.5 850.2,2280.5 850.4,2278.6 850.6,2276.6 850.8,2274.6 851.0,2272.6 851.1,2270.6 851.3,2268.6 851.5,2266.6 851.7,2264.6 851.8,2262.6 852.0,2260.6 852.2,2258.6 852.3,2256.6 852.5,2254.6 852.7,2252.6 852.8,2250.7 853.0,2248.7 853.1,2246.7 853.3,2244.7 853.4,2242.7 853.6,2240.7 853.7,2238.7 853.8,2236.7 854.0,2234.7 854.1,2232.7 854.2,2230.7 854.3,2228.7 854.4,2226.7 854.6,2224.7 854.7,2222.7 854.8,2220.7 854.9,2218.7 855.0,2216.7 855.1,2214.7 855.2,2212.7 855.3,2210.7 855.4,2208.7 855.5,2206.7 855.6,2204.7 855.6,2202.7 855.7,2200.7 855.8,2198.8 855.9,2196.8 856.0,2194.8 856.1,2192.8 856.1,2190.8 856.2,2188.8 856.3,2186.8 856.4,2184.8 856.5,2182.8 856.5,2180.8 856.6,2178.8 856.7,2176.8 856.7,2174.8 856.8,2172.8 856.9,2170.8 857.0,2168.8 857.0,2166.8 857.1,2164.8 857.2,2162.8 857.2,2160.8 857.3,2158.8 857.4,2156.8 857.4,2154.8 857.5,2152.8 857.6,2150.8 857.6,2148.8 857.7,2146.8 857.8,2144.8 857.9,2142.8 857.9,2140.8 858.0,2138.8 858.1,2136.8 858.2,2134.8 858.2,2132.8 858.3,2130.8 858.4,2128.8 858.5,2126.8 858.6,2124.8 858.6,2122.8 858.7,2120.8 858.8,2118.8 858.9,2116.8 859.0,2114.8 859.1,2112.8 859.2,2110.8 859.3,2108.8 859.4,2106.8 859.5,2104.8 859.6,2102.8 859.7,2100.8 859.8,2098.8 859.9,2096.8 860.0,2094.8 860.1,2092.8 860.2,2090.8 860.4,2088.8 860.5,2086.8 860.6,2084.8 860.7,2082.8 860.9,2080.9 861.0,2078.9 861.1,2076.9 861.2,2074.9 861.3,2072.9 861.5,2070.9 861.6,2068.9 861.7,2066.9 861.8,2064.9 861.9,2062.9 862.0,2060.9 862.1,2058.9 862.2,2056.9 862.3,2054.9 862.4,2052.9 862.5,2050.9 862.5,2048.9 862.6,2046.9 862.7,2044.9 862.8,2042.9 862.9,2040.9 862.9,2038.9 863.0,2036.9 863.1,2034.9 863.2,2032.9 863.2,2030.9 863.3,2028.9 863.4,2026.9 863.4,2024.9 863.5,2022.9 863.6,2020.9 863.6,2018.9 863.7,2016.9 863.8,2014.9 863.8,2012.9 863.9,2010.9 863.9,2008.9 864.0,2006.9 864.1,2004.9 864.1,2002.9 864.2,2000.9 864.2,1998.9 864.3,1996.9 864.3,1994.9 864.3,1992.9 864.4,1990.9 864.4,1988.9 864.5,1986.9 864.5,1984.9 864.5,1982.9 864.6,1980.9 864.6,1978.9 864.6,1976.9 864.7,1974.9 864.7,1972.9 864.7,1970.9 864.8,1968.9 864.8,1966.9 864.8,1964.9 864.8,1962.9 864.9,1960.9 864.9,1958.9 864.9,1956.9 864.9,1954.9 865.0,1952.9 865.0,1950.9 865.0,1948.9 865.0,1946.9 865.1,1944.9 865.1,1942.9 865.1,1940.9 865.1,1938.9 865.1,1936.9 865.2,1934.9 865.2,1932.9 865.2,1930.9 865.2,1928.9 865.2,1926.9 865.3,1924.9 865.3,1922.9 865.3,1920.9 865.3,1918.9 865.3,1916.9 865.4,1914.9 865.4,1912.9 865.4,1910.9 865.4,1908.9 865.4,1906.9 865.5,1904.9 865.5,1902.9 865.5,1900.9 865.5,1898.9 865.5,1896.9 865.5,1894.9 865.6,1892.9 865.6,1890.9 865.6,1888.9 865.6,1886.9 865.6,1884.9 865.6,1882.9 865.7,1880.9 865.7,1878.9 865.7,1876.9 865.7,1874.9 865.7,1872.9 865.7,1870.9 865.7,1868.9 865.7,1866.9 865.8,1864.9 865.8,1862.9 865.8,1860.9 865.8,1858.9 865.8,1856.9 865.8,1854.9 865.8,1852.9 865.8,1850.9 865.9,1848.9 865.9,1846.9 865.9,1844.9 865.9,1842.9 865.9,1840.9 865.9,1838.9 865.9,1836.9 865.9,1834.9 865.9,1832.9 866.0,1830.9 866.0,1828.9 866.0,1826.9 866.0,1824.9 866.0,1822.9 866.0,1820.9 866.0,1818.9 866.1,1816.9 866.1,1814.9 866.1,1812.9 866.1,1810.9 866.1,1808.9 866.1,1806.9 866.2,1804.9 866.2,1802.9 866.2,1800.9 866.2,1798.9 866.2,1796.9 866.2,1794.9 866.3,1792.9 866.3,1790.9 866.3,1788.9 866.3,1786.9 866.4,1784.9 866.4,1782.9 866.4,1780.9 866.4,1778.9 866.5,1776.9 866.5,1774.9 866.5,1772.9 866.6,1770.9 866.6,1768.9 866.6,1766.9 866.7,1764.9 866.7,1762.9 866.8,1760.9 866.8,1758.9 866.8,1756.9 866.9,1754.9 866.9,1752.9 867.0,1750.9 867.0,1748.9 867.0,1746.9 867.1,1744.9 867.1,1742.9 867.2,1740.9 867.2,1738.9 867.3,1736.9 867.3,1734.9 867.4,1732.9 867.4,1730.9 867.5,1728.9 867.5,1726.9 867.6,1724.9 867.6,1722.9 867.7,1720.9 867.7,1718.9 867.8,1716.9 867.8,1715.0 867.9,1713.0 867.9,1711.0 868.0,1709.0 868.0,1707.0 868.1,1705.0 868.2,1703.0 868.2,1701.0 868.3,1699.0 868.3,1697.0 868.4,1695.0 868.4,1693.0 868.5,1691.0 868.5,1689.0 868.6,1687.0 868.6,1685.0 868.7,1683.0 868.7,1681.0 868.8,1679.0 868.8,1677.0 868.9,1675.0 868.9,1673.0 869.0,1671.0 869.0,1669.0 869.1,1667.0 869.2,1665.0 869.2,1663.0 869.3,1661.0 869.3,1659.0 869.4,1657.0 869.4,1655.0 869.5,1653.0 869.5,1651.0 869.6,1649.0 869.7,1647.0 869.7,1645.0 869.8,1643.0 869.8,1641.0 869.9,1639.0 870.0,1637.0 870.0,1635.0 870.1,1633.0 870.2,1631.0 870.3,1629.0 870.3,1627.0 870.4,1625.0 870.5,1623.0 870.6,1621.0 870.7,1619.0 870.7,1617.0 870.8,1615.0 870.9,1613.0 871.0,1611.0 871.1,1609.0 871.2,1607.0 871.3,1605.0 871.4,1602.9 871.5,1600.6 871.6,1598.2 871.8,1595.7 871.9,1593.1 872.0,1590.4 872.2,1587.8 872.3,1585.1 872.5,1582.6 872.7,1580.1 872.9,1577.8 873.0,1575.7 873.2,1573.8 873.5,1572.1 873.7,1570.7 873.9,1569.6 874.2,1568.9 874.4,1569.5 874.7,1568.9 875.1,1569.9 875.6,1571.8 876.1,1574.1 876.6,1576.7 877.1,1579.2 877.4,1581.5 877.7,1583.5 878.0,1585.5 878.3,1587.5 878.5,1589.4 878.8,1591.4 879.0,1593.4 879.2,1595.4 879.4,1597.4 879.6,1599.4 879.8,1601.4 880.0,1603.4 880.1,1605.4 880.3,1607.4 880.4,1609.4 880.5,1611.4 880.6,1613.4 880.6,1615.4 880.7,1617.4 880.8,1619.4 880.8,1621.4 880.9,1623.4 881.0,1625.4 881.0,1627.4 881.1,1629.4 881.1,1631.4 881.2,1633.4 881.2,1635.4 881.2,1637.4 881.3,1639.4 881.3,1641.4 881.4,1643.4 881.4,1645.4 881.4,1647.4 881.5,1649.4 881.5,1651.4 881.6,1653.4 881.6,1655.4 881.7,1657.4 881.7,1659.4 881.7,1661.4 881.8,1663.4 881.8,1665.4 881.9,1667.4 881.9,1669.4 881.9,1671.4 882.0,1673.4 882.0,1675.4 882.0,1677.4 882.1,1679.4 882.1,1681.4 882.1,1683.4 882.2,1685.4 882.2,1687.4 882.2,1689.4 882.3,1691.4 882.3,1693.4 882.3,1695.4 882.4,1697.4 882.4,1699.4 882.4,1701.4 882.5,1703.4 882.5,1705.4 882.6,1707.4 882.6,1709.4 882.6,1711.4 882.7,1713.4 882.7,1715.4 882.7,1717.4 882.8,1719.4 882.8,1721.4 882.9,1723.3 882.9,1725.3 883.0,1727.3 883.0,1729.3 883.0,1731.3 883.1,1733.3 883.1,1735.3 883.2,1737.3 883.2,1739.3 883.3,1741.3 883.3,1743.3 883.4,1745.3 883.4,1747.3 883.5,1749.3 883.5,1751.3 883.6,1753.3 883.6,1755.3 883.6,1757.3 883.7,1759.3 883.7,1761.3 883.8,1763.3 883.8,1765.3 883.9,1767.3 883.9,1769.3 884.0,1771.3 884.0,1773.3 884.1,1775.3 884.1,1777.3 884.2,1779.3 884.2,1781.3 884.3,1783.3 884.3,1785.3 884.4,1787.3 884.4,1789.3 884.5,1791.3 884.5,1793.3 884.6,1795.3 884.6,1797.3 884.7,1799.3 884.7,1801.3 884.8,1803.3 884.8,1805.3 884.9,1807.3 884.9,1809.3 885.0,1811.3 885.0,1813.3 885.1,1815.3 885.1,1817.3 885.2,1819.3 885.2,1821.3 885.3,1823.3 885.4,1825.3 885.4,1827.3 885.5,1829.3 885.5,1831.3 885.6,1833.3 885.6,1835.3 885.7,1837.3 885.7,1839.3 885.8,1841.3 885.8,1843.3 885.9,1845.3 885.9,1847.3 886.0,1849.3 886.0,1851.3 886.1,1853.3 886.1,1855.3 886.2,1857.3 886.2,1859.3 886.3,1861.3 886.3,1863.3 886.4,1865.3 886.4,1867.3 886.5,1869.3 886.5,1871.3 886.6,1873.3 886.6,1875.3 886.6,1877.3 886.7,1879.3 886.7,1881.3 886.8,1883.3 886.8,1885.3 886.8,1887.3 886.9,1889.3 886.9,1891.3 887.0,1893.3 887.0,1895.3 887.0,1897.3 887.1,1899.3 887.1,1901.3 887.1,1903.3 887.2,1905.3 887.2,1907.3 887.2,1909.3 887.3,1911.3 887.3,1913.3 887.3,1915.3 887.4,1917.3 887.4,1919.3 887.4,1921.3 887.5,1923.3 887.5,1925.3 887.5,1927.3 887.6,1929.3 887.6,1931.3 887.6,1933.3 887.6,1935.3 887.7,1937.3 887.7,1939.3 887.7,1941.3 887.8,1943.3 887.8,1945.3 887.8,1947.3 887.8,1949.3 887.9,1951.3 887.9,1953.3 887.9,1955.3 888.0,1957.3 888.0,1959.3 888.0,1961.3 888.0,1963.3 888.1,1965.3 888.1,1967.3 888.1,1969.3 888.1,1971.3 888.2,1973.3 888.2,1975.3 888.2,1977.3 888.2,1979.3 888.3,1981.3 888.3,1983.3 888.3,1985.3 888.3,1987.3 888.3,1989.3 888.4,1991.3 888.4,1993.3 888.4,1995.3 888.4,1997.3 888.4,1999.3 888.5,2001.3 888.5,2003.3 888.5,2005.3 888.5,2007.3 888.6,2009.3 888.6,2011.3 888.6,2013.3 888.6,2015.3 888.7,2017.3 888.7,2019.3 888.7,2021.3 888.7,2023.3 888.8,2025.3 888.8,2027.3 888.8,2029.3 888.9,2031.3 888.9,2033.3 888.9,2035.3 889.0,2037.3 889.0,2039.3 889.0,2041.3 889.1,2043.3 889.1,2045.3 889.2,2047.3 889.2,2049.3 889.3,2051.3 889.3,2053.3 889.4,2055.3 889.5,2057.3 889.5,2059.3 889.6,2061.3 889.7,2063.3 889.8,2065.3 889.9,2067.3 889.9,2069.3 890.0,2071.3 890.1,2073.3 890.2,2075.3 890.3,2077.3 890.4,2079.3 890.5,2081.3 890.6,2083.3 890.6,2085.3 890.7,2087.3 890.8,2089.3 890.9,2091.2 891.0,2093.2 891.1,2095.2 891.2,2097.2 891.3,2099.2 891.4,2101.2 891.5,2103.2 891.6,2105.2 891.6,2107.2 891.7,2109.2 891.8,2111.2 891.9,2113.2 892.0,2115.2 892.0,2117.2 892.1,2119.2 892.2,2121.2 892.2,2123.2 892.3,2125.2 892.4,2127.2 892.4,2129.2 892.5,2131.2 892.5,2133.2 892.6,2135.2 892.6,2137.2 892.7,2139.2 892.7,2141.2 892.7,2143.2 892.8,2145.2 892.8,2147.2 892.9,2149.2 892.9,2151.2 892.9,2153.2 893.0,2155.2 893.0,2157.2 893.0,2159.2 893.1,2161.2 893.1,2163.2 893.1,2165.2 893.1,2167.2 893.2,2169.2 893.2,2171.2 893.2,2173.2 893.3,2175.2 893.3,2177.2 893.3,2179.2 893.4,2181.2 893.4,2183.2 893.4,2185.2 893.5,2187.2 893.5,2189.2 893.6,2191.2 893.6,2193.2 893.7,2195.2 893.7,2197.2 893.8,2199.2 893.8,2201.2 893.9,2203.2 893.9,2205.2 894.0,2207.2 894.0,2209.2 894.1,2211.2 894.2,2213.2 894.2,2215.2 894.3,2217.2 894.4,2219.2 894.5,2221.2 894.5,2223.2 894.6,2225.2 894.7,2227.2 894.8,2229.2 894.9,2231.2 895.0,2233.2 895.1,2235.2 895.1,2237.2 895.2,2239.2 895.3,2241.2 895.4,2243.2 895.5,2245.2 895.6,2247.2 895.8,2249.2 895.9,2251.2 896.0,2253.2 896.1,2255.2 896.2,2257.2 896.3,2259.2 896.4,2261.2 896.6,2263.2 896.7,2265.1 896.8,2267.1 896.9,2269.1 897.1,2271.1 897.2,2273.1 897.4,2275.1 897.5,2277.1 897.7,2279.1 897.9,2281.1 898.1,2283.1 898.3,2285.1 898.5,2287.1 898.7,2289.0 898.9,2291.0 899.1,2293.0 899.4,2295.0 899.6,2297.0 899.8,2299.0 900.1,2301.0 900.3,2303.0 900.5,2305.0 900.7,2306.9 900.9,2308.9 901.2,2310.9 901.4,2312.9 901.6,2314.9 901.8,2316.9 902.0,2318.9 902.2,2320.9 902.4,2322.9 902.5,2324.9 902.7,2326.9 902.9,2328.9 903.0,2330.9 903.2,2332.9 903.4,2334.9 903.5,2336.9 903.7,2338.9 903.9,2340.9 904.1,2342.8 904.3,2344.8 904.5,2346.8 904.7,2348.8 904.9,2350.8 905.1,2352.8 905.3,2354.8 905.6,2356.7 905.8,2358.7 906.1,2360.7 906.4,2362.7 906.7,2364.6 907.1,2366.6 907.5,2368.5 907.9,2370.5 908.3,2372.5 908.8,2374.4 909.3,2376.4 909.8,2378.3 910.3,2380.3 910.9,2382.2 911.5,2384.1 912.1,2386.0 912.7,2387.9 913.3,2389.8 913.9,2391.7 914.5,2393.6 915.2,2395.5 916.0,2397.4 916.7,2399.3 917.5,2401.2 918.3,2403.1 919.1,2404.9 920.0,2406.8 920.9,2408.6 921.8,2410.3 922.8,2412.0 923.8,2413.7 924.8,2415.2 925.9,2416.7 927.0,2418.2 928.2,2419.7 929.6,2421.0 930.9,2422.2 932.3,2423.3 933.8,2424.4 935.3,2425.3 936.9,2426.5 938.5,2428.1 940.1,2429.6 941.7,2431.0 943.3,2432.4 945.0,2433.3 946.7,2434.3 948.5,2435.3 950.4,2436.2 952.2,2437.0 954.1,2437.7 956.1,2438.4 958.0,2439.0 960.0,2439.5 961.9,2439.9 963.9,2440.3 965.8,2441.2 967.7,2442.1 969.7,2443.1 971.6,2443.8 973.5,2444.0 975.5,2444.2 977.4,2444.4 979.4,2444.9 981.4,2445.5 983.4,2446.1 985.3,2446.7 987.3,2447.4 989.3,2448.0 991.3,2448.6 993.3,2448.7 995.2,2448.4 997.2,2448.1 999.2,2447.8 1001.2,2448.1 1003.2,2448.4 1005.1,2448.5 1007.1,2449.0 1009.1,2449.7 1011.2,2450.4 1013.2,2450.8 1015.2,2450.1 1017.2,2449.3 1019.1,2448.5 1021.1,2447.4 1023.0,2446.3 1024.9,2445.1 1026.8,2443.6 1028.7,2442.8 1030.5,2442.0 1032.2,2441.6 1033.8,2442.0 1035.3,2443.0 1036.6,2444.6 1038.0,2446.4 1039.3,2448.4 1040.7,2450.3 1042.3,2451.9 1043.9,2453.2 1045.6,2454.5 1047.4,2455.8 1049.3,2456.5 1051.2,2456.9 1053.0,2457.1 1054.9,2457.1 1056.8,2457.2 1058.7,2457.3 1060.7,2457.4 1062.6,2457.5 1064.6,2457.7 1066.6,2457.8 1068.6,2458.0 1070.6,2458.6 1072.6,2459.2 1074.6,2459.9 1076.6,2460.4 1078.6,2460.4 1080.7,2460.4 1082.7,2460.5 1084.7,2460.3 1086.7,2460.1 1088.8,2460.0 1090.8,2459.9 1092.8,2460.1 1094.8,2460.3 1096.8,2460.5 1098.8,2460.5 1100.8,2460.4 1102.8,2460.4 1104.8,2460.6 1106.8,2461.0 1108.8,2461.5 1110.8,2461.9 1112.8,2461.5 1114.9,2461.1 1116.9,2460.7 1118.9,2460.6 1120.9,2461.0 1122.9,2461.5 1124.9,2461.9 1126.9,2462.1 1128.9,2462.3 1131.0,2462.4 1133.0,2462.5 1135.0,2462.4 1137.0,2462.3 1139.0,2462.2 1141.0,2461.8 1143.0,2461.3 1145.0,2460.9 1147.0,2461.1 1149.0,2461.8 1151.0,2462.6 1153.0,2463.4 1155.0,2462.7 1156.9,2462.0 1158.9,2461.3 1160.9,2461.1 1162.9,2461.5 1164.9,2461.9 1166.8,2462.3 1168.8,2461.9 1170.8,2461.2 1172.8,2460.4 1174.8,2459.5 1176.7,2458.5 1178.6,2457.5 1180.5,2456.5 1182.2,2456.1 1184.0,2455.8 1185.7,2455.3 1187.4,2454.5 1189.0,2453.4 1190.5,2451.9 1191.9,2450.4 1193.1,2448.9 1194.0,2446.9 1194.9,2444.6 1195.7,2442.2 1196.4,2440.0 1197.2,2438.2 1198.2,2437.3 1199.2,2437.2 1200.5,2438.1 1201.9,2439.7 1203.4,2441.7 1204.9,2443.8 1206.5,2445.5 1208.1,2446.7 1209.7,2446.8 1211.4,2446.2 1213.3,2445.4 1215.3,2444.3 1217.2,2443.2 1219.2,2442.1 1221.1,2440.8 1223.0,2439.5 1224.6,2438.3 1226.1,2437.0 1227.3,2435.7 1228.3,2434.5 1229.1,2433.1 1229.8,2431.5 1230.5,2429.7 1231.2,2427.8 1231.8,2425.8 1232.3,2423.8 1232.8,2421.7 1233.3,2419.6 1233.8,2417.5 1234.2,2415.4 1234.6,2413.4 1235.0,2411.4 1235.4,2409.5 1235.8,2407.5 1236.1,2405.6 1236.4,2403.6 1236.7,2401.6 1237.1,2399.6 1237.3,2397.7 1237.6,2395.7 1237.9,2393.7 1238.2,2391.7 1238.4,2389.7 1238.7,2387.7 1238.9,2385.7 1239.2,2383.8 1239.4,2381.8 1239.7,2379.8 1239.9,2377.8 1240.1,2375.8 1240.3,2373.8 1240.6,2371.8 1240.8,2369.8 1241.0,2367.8 1241.3,2365.8 1241.5,2363.9 1241.7,2361.9 1241.9,2359.9 1242.1,2357.9 1242.3,2355.9 1242.5,2353.9 1242.7,2351.9 1242.9,2349.9 1243.1,2347.9 1243.3,2345.9 1243.4,2343.9 1243.6,2342.0 1243.8,2340.0 1244.0,2338.0 1244.2,2336.0 1244.4,2334.0 1244.5,2332.0 1244.7,2330.0 1244.9,2328.0 1245.1,2326.0 1245.3,2324.0 1245.5,2322.0 1245.7,2320.1 1245.9,2318.1 1246.1,2316.1 1246.3,2314.1 1246.6,2312.1 1246.8,2310.1 1247.0,2308.1 1247.2,2306.1 1247.5,2304.1 1247.7,2302.2 1247.9,2300.2 1248.2,2298.2 1248.4,2296.2 1248.7,2294.2 1248.9,2292.2 1249.2,2290.2 1249.5,2288.3 1249.7,2286.3 1250.0,2284.3 1250.3,2282.3 1250.6,2280.3 1250.9,2278.4 1251.3,2276.4 1251.6,2274.4 1252.0,2272.1 1252.4,2269.5 1252.8,2266.9 1253.3,2264.4 1253.8,2262.0 1254.3,2260.0 1254.7,2258.4 1255.2,2257.4 1255.6,2257.2 1256.1,2257.5 1256.5,2258.5 1257.0,2260.2 1257.4,2262.3 1257.9,2264.7 1258.3,2267.3 1258.7,2269.9 1259.1,2272.4 1259.4,2274.7 1259.8,2276.7 1260.1,2278.6 1260.4,2280.6 1260.7,2282.6 1260.9,2284.6 1261.2,2286.6 1261.4,2288.5 1261.7,2290.5 1261.9,2292.5 1262.2,2294.5 1262.4,2296.5 1262.6,2298.5 1262.8,2300.5 1263.1,2302.5 1263.3,2304.4 1263.5,2306.4 1263.7,2308.4 1264.0,2310.4 1264.2,2312.4 1264.4,2314.4 1264.6,2316.4 1264.8,2318.4 1265.0,2320.4 1265.2,2322.3 1265.5,2324.3 1265.7,2326.3 1265.9,2328.3 1266.1,2330.3 1266.2,2332.3 1266.4,2334.3 1266.6,2336.3 1266.8,2338.3 1267.0,2340.3 1267.2,2342.2 1267.4,2344.2 1267.6,2346.2 1267.8,2348.2 1268.0,2350.2 1268.2,2352.2 1268.4,2354.2 1268.6,2356.2 1268.8,2358.2 1269.0,2360.2 1269.2,2362.1 1269.5,2364.1 1269.7,2366.1 1269.9,2368.1 1270.1,2370.1 1270.3,2372.1 1270.6,2374.1 1270.8,2376.1 1271.0,2378.1 1271.2,2380.1 1271.4,2382.1 1271.6,2384.1 1271.8,2386.1 1272.0,2388.1 1272.2,2390.1 1272.4,2392.1 1272.7,2394.1 1272.9,2396.1 1273.1,2398.1 1273.3,2400.1 1273.6,2402.1 1273.8,2404.1 1274.1,2406.1 1274.4,2408.1 1274.7,2410.0 1275.0,2412.0 1275.3,2414.0 1275.6,2415.9 1276.0,2417.9 1276.3,2419.8 1276.7,2421.7 1277.1,2423.6 1277.6,2425.6 1278.1,2427.6 1278.7,2429.6 1279.3,2431.6 1280.0,2433.6 1280.7,2435.5 1281.5,2437.5 1282.3,2439.3 1283.2,2441.1 1284.1,2442.9 1285.1,2444.4 1286.1,2445.8 1287.2,2447.0 1288.4,2448.2 1289.8,2449.3 1291.4,2450.3 1293.0,2451.3 1294.8,2452.6 1296.6,2453.9 1298.4,2455.1 1300.3,2456.2 1302.1,2457.3 1303.9,2458.1 1305.7,2459.0 1307.6,2459.6 1309.6,2460.0 1311.6,2460.4 1313.6,2460.8 1315.6,2461.4 1317.7,2462.1 1319.7,2462.8 1321.7,2463.1 1323.6,2462.7 1325.6,2462.3 1327.6,2461.9 1329.6,2462.4 1331.6,2463.1 1333.6,2463.8 1335.5,2464.4 1337.5,2464.5 1339.5,2464.6 1341.5,2464.7 1343.5,2464.7 1345.5,2464.7 1347.5,2464.7 1349.5,2464.8 1351.5,2465.3 1353.5,2465.8 1355.5,2466.3 1357.5,2466.5 1359.5,2466.5 1361.4,2466.6 1363.4,2466.6 1365.4,2466.3 1367.4,2466.0 1369.4,2465.7 1371.4,2466.3 1373.4,2467.1 1375.4,2467.9 1377.4,2468.4 1379.4,2467.7 1381.4,2467.0 1383.4,2466.3 1385.4,2466.5 1387.4,2467.0 1389.4,2467.4 1391.4,2467.8 1393.4,2467.7 1395.4,2467.7 1397.4,2467.7 1399.4,2467.8 1401.5,2468.0 1403.5,2468.1 1405.5,2468.1 1407.5,2467.7 1409.5,2467.3 1411.5,2466.9 1413.5,2467.0 1415.5,2467.2 1417.4,2467.5 1419.4,2467.6 1421.3,2467.3 1423.2,2466.8 1425.1,2466.0 1427.0,2465.3 1428.9,2464.8 1430.7,2464.2 1432.6,2463.7 1434.5,2462.5 1436.4,2461.3 1438.3,2460.4 1440.2,2459.8 1442.2,2460.2 1444.2,2460.6 1446.3,2461.1 1448.4,2461.5 1450.5,2461.7 1452.5,2461.9 1454.6,2462.1 1456.7,2462.1 1458.7,2462.1 1460.7,2462.0 1462.6,2463.4 1464.5,2464.9 1466.3,2466.2 1468.0,2467.4 1469.7,2466.2 1471.2,2464.1 1472.7,2461.9 1474.1,2459.7 1475.6,2457.7 1477.0,2455.9 1478.5,2454.2 1480.0,2452.4 1481.5,2450.5 1482.9,2448.8 1484.4,2447.6 1485.9,2446.8 1487.4,2446.7 1488.9,2447.0 1490.4,2446.8 1491.9,2447.1 1493.4,2448.1 1494.9,2449.6 1496.4,2451.3 1497.9,2453.3 1499.5,2455.0 1501.1,2456.5 1502.7,2457.4 1504.5,2457.5 1506.3,2457.3 1508.2,2457.0 1510.2,2456.4 1512.2,2455.1 1514.1,2453.6 1516.1,2452.1 1517.9,2450.9 1519.6,2449.9 1521.2,2448.9 1522.7,2447.9 1524.1,2446.6 1525.5,2445.2 1526.9,2443.6 1528.1,2442.0 1529.3,2440.3 1530.2,2438.6 1531.0,2436.9 1531.7,2435.1 1532.4,2433.3 1533.0,2431.5 1533.6,2429.6 1534.1,2427.7 1534.7,2425.7 1535.1,2423.7 1535.6,2421.7 1536.0,2419.7 1536.4,2417.7 1536.8,2415.7 1537.2,2413.7 1537.5,2411.7 1537.9,2409.7 1538.2,2407.8 1538.5,2405.8 1538.8,2403.8 1539.1,2401.9 1539.4,2399.9 1539.7,2397.9 1540.0,2395.9 1540.2,2393.9 1540.5,2391.9 1540.7,2390.0 1541.0,2388.0 1541.2,2386.0 1541.4,2384.0 1541.6,2382.0 1541.8,2380.0 1542.0,2378.0 1542.3,2376.0 1542.4,2374.0 1542.6,2372.0 1542.8,2370.0 1543.0,2368.0 1543.2,2366.1 1543.4,2364.1 1543.5,2362.1 1543.7,2360.1 1543.9,2358.1 1544.0,2356.1 1544.2,2354.1 1544.3,2352.1 1544.5,2350.1 1544.6,2348.1 1544.7,2346.1 1544.9,2344.1 1545.0,2342.1 1545.2,2340.1 1545.3,2338.1 1545.4,2336.1 1545.6,2334.1 1545.7,2332.1 1545.8,2330.2 1546.0,2328.2 1546.1,2326.2 1546.3,2324.2 1546.4,2322.2 1546.6,2320.2 1546.7,2318.2 1546.9,2316.2 1547.0,2314.2 1547.2,2312.2 1547.3,2310.2 1547.5,2308.2 1547.6,2306.2 1547.8,2304.2 1547.9,2302.2 1548.1,2300.2 1548.2,2298.2 1548.4,2296.2 1548.5,2294.2 1548.7,2292.3 1548.8,2290.3 1549.0,2288.3 1549.1,2286.3 1549.3,2284.3 1549.4,2282.3 1549.5,2280.3 1549.7,2278.3 1549.8,2276.3 1550.0,2274.3 1550.1,2272.3 1550.3,2270.3 1550.4,2268.3 1550.6,2266.3 1550.7,2264.3 1550.8,2262.3 1550.9,2260.3 1551.1,2258.3 1551.2,2256.3 1551.3,2254.3 1551.5,2252.3 1551.6,2250.3 1551.8,2248.3 1551.9,2246.3 1552.0,2244.4 1552.2,2242.4 1552.4,2240.4 1552.5,2238.4 1552.7,2236.4 1552.9,2234.4 1553.0,2232.4 1553.2,2230.4 1553.4,2228.4 1553.7,2226.4 1553.9,2224.5 1554.1,2222.5 1554.4,2220.5 1554.6,2218.5 1554.9,2216.5 1555.2,2214.5 1555.5,2212.5 1555.8,2210.6 1556.1,2208.6 1556.5,2206.6 1556.8,2204.6 1557.2,2202.7 1557.5,2200.7 1557.9,2198.8 1558.3,2196.7 1558.8,2194.3 1559.4,2191.8 1560.0,2189.2 1560.6,2186.8 1561.2,2184.6 1561.7,2182.8 1562.2,2181.5 1562.7,2181.4 1563.0,2181.3 1563.4,2181.5 1563.7,2182.6 1564.0,2184.0 1564.3,2185.8 1564.6,2187.8 1564.8,2190.1 1565.1,2192.6 1565.3,2195.1 1565.6,2197.8 1565.8,2200.4 1566.0,2203.0 1566.3,2205.5 1566.5,2207.8 1566.7,2209.9 1566.9,2211.9 1567.1,2213.9 1567.3,2215.9 1567.5,2217.9 1567.7,2219.9 1567.9,2221.9 1568.1,2223.8 1568.2,2225.8 1568.4,2227.8 1568.6,2229.8 1568.7,2231.8 1568.9,2233.8 1569.1,2235.8 1569.2,2237.8 1569.4,2239.8 1569.6,2241.8 1569.7,2243.8 1569.9,2245.8 1570.1,2247.8 1570.2,2249.8 1570.4,2251.8 1570.5,2253.8 1570.7,2255.7 1570.9,2257.7 1571.1,2259.7 1571.2,2261.7 1571.4,2263.7 1571.6,2265.7 1571.8,2267.7 1572.0,2269.7 1572.1,2271.7 1572.3,2273.7 1572.5,2275.7 1572.7,2277.7 1572.9,2279.6 1573.1,2281.6 1573.2,2283.6 1573.4,2285.6 1573.6,2287.6 1573.8,2289.6 1574.0,2291.6 1574.1,2293.6 1574.3,2295.6 1574.5,2297.6 1574.7,2299.6 1574.8,2301.6 1575.0,2303.6 1575.2,2305.5 1575.3,2307.5 1575.5,2309.5 1575.7,2311.5 1575.8,2313.5 1576.0,2315.5 1576.1,2317.5 1576.2,2319.5 1576.4,2321.5 1576.5,2323.5 1576.7,2325.5 1576.8,2327.5 1576.9,2329.5 1577.0,2331.5 1577.2,2333.5 1577.3,2335.5 1577.4,2337.5 1577.6,2339.5 1577.7,2341.5 1577.9,2343.5 1578.0,2345.5 1578.1,2347.4 1578.3,2349.4 1578.5,2351.4 1578.6,2353.4 1578.8,2355.4 1579.0,2357.4 1579.2,2359.4 1579.4,2361.4 1579.6,2363.4 1579.8,2365.4 1580.0,2367.4 1580.2,2369.3 1580.4,2371.3 1580.6,2373.3 1580.9,2375.3 1581.1,2377.3 1581.3,2379.3 1581.6,2381.3 1581.9,2383.3 1582.1,2385.3 1582.4,2387.2 1582.7,2389.2 1582.9,2391.2 1583.2,2393.2 1583.5,2395.2 1583.8,2397.1 1584.1,2399.1 1584.5,2401.1 1584.8,2403.0 1585.1,2405.0 1585.4,2407.0 1585.8,2409.0 1586.1,2411.0 1586.5,2413.0 1586.8,2415.0 1587.2,2417.0 1587.6,2419.0 1588.0,2421.0 1588.5,2423.0 1588.9,2424.9 1589.4,2426.9 1590.0,2428.8 1590.5,2430.6 1591.1,2432.5 1591.7,2434.3 1592.4,2436.1 1593.3,2437.9 1594.2,2439.6 1595.3,2441.4 1596.4,2443.1 1597.7,2444.7 1599.0,2446.3 1600.3,2447.8 1601.7,2449.0 1603.1,2449.8 1604.7,2450.5 1606.3,2451.1 1608.1,2451.6 1609.9,2452.8 1611.7,2454.0 1613.6,2455.3 1615.5,2456.3 1617.4,2457.0 1619.2,2457.6 1621.1,2458.2 1623.0,2459.0 1624.9,2460.1 1626.8,2461.1 1628.8,2462.1 1630.8,2462.8 1632.7,2463.4 1634.7,2464.0 1636.7,2464.2 1638.7,2464.1 1640.7,2463.9 1642.7,2463.6 1644.6,2463.5 1646.6,2463.4 1648.6,2463.3 1650.6,2463.0 1652.6,2462.5 1654.6,2461.9 1656.6,2461.3 1658.6,2461.3 1660.6,2461.5 1662.6,2461.6 1664.5,2461.7 1666.4,2461.4 1668.3,2461.0 1670.2,2460.5 1672.1,2459.8 1674.0,2459.1 1675.8,2458.3 1677.7,2457.5 1679.5,2456.4 1681.4,2455.1 1683.3,2454.0 1685.1,2453.0 1687.0,2453.3 1688.9,2453.7 1690.9,2454.3 1692.8,2454.4 1694.8,2453.9 1696.8,2453.5 1698.8,2453.0 1700.8,2452.5 1702.8,2451.9 1704.9,2451.3 1706.9,2450.8 1708.9,2450.5 1710.9,2450.2 1712.9,2449.8 1714.8,2449.6 1716.7,2449.4 1718.7,2449.1 1720.8,2448.7 1722.8,2448.3 1724.9,2447.9 1726.9,2447.4 1728.9,2446.6 1730.8,2445.7 1732.6,2444.8 1734.3,2443.8 1735.8,2443.0 1737.2,2442.0 1738.5,2440.8 1739.7,2439.4 1740.8,2437.6 1741.9,2435.8 1742.9,2433.8 1743.8,2431.8 1744.6,2429.9 1745.4,2428.0 1746.0,2426.2 1746.6,2424.3 1747.2,2422.4 1747.8,2420.5 1748.3,2418.6 1748.8,2416.6 1749.3,2414.6 1749.7,2412.6 1750.1,2410.7 1750.5,2408.7 1750.9,2406.7 1751.2,2404.7 1751.6,2402.8 1751.9,2400.8 1752.2,2398.8 1752.6,2396.9 1752.9,2394.9 1753.1,2392.9 1753.4,2390.9 1753.7,2389.0 1754.0,2387.0 1754.2,2385.0 1754.5,2383.0 1754.7,2381.0 1754.9,2379.0 1755.2,2377.0 1755.4,2375.0 1755.6,2373.0 1755.8,2371.0 1756.0,2369.1 1756.2,2367.1 1756.4,2365.1 1756.6,2363.1 1756.8,2361.1 1757.0,2359.1 1757.2,2357.1 1757.3,2355.1 1757.5,2353.1 1757.7,2351.1 1757.8,2349.2 1758.0,2347.2 1758.1,2345.2 1758.3,2343.2 1758.4,2341.2 1758.6,2339.2 1758.7,2337.2 1758.9,2335.2 1759.0,2333.2 1759.2,2331.2 1759.3,2329.2 1759.5,2327.2 1759.6,2325.2 1759.8,2323.2 1759.9,2321.2 1760.1,2319.2 1760.2,2317.2 1760.4,2315.2 1760.5,2313.2 1760.7,2311.2 1760.8,2309.3 1761.0,2307.3 1761.1,2305.3 1761.3,2303.3 1761.4,2301.3 1761.6,2299.3 1761.7,2297.3 1761.9,2295.3 1762.0,2293.3 1762.2,2291.3 1762.3,2289.3 1762.5,2287.3 1762.6,2285.3 1762.8,2283.3 1762.9,2281.3 1763.1,2279.3 1763.2,2277.3 1763.4,2275.3 1763.5,2273.4 1763.7,2271.4 1763.8,2269.4 1764.0,2267.4 1764.2,2265.4 1764.3,2263.4 1764.5,2261.4 1764.7,2259.4 1764.8,2257.4 1765.0,2255.4 1765.2,2253.4 1765.4,2251.4 1765.5,2249.4 1765.7,2247.4 1765.9,2245.5 1766.1,2243.5 1766.3,2241.5 1766.4,2239.5 1766.6,2237.5 1766.8,2235.5 1767.0,2233.5 1767.2,2231.5 1767.4,2229.5 1767.6,2227.5 1767.9,2225.5 1768.1,2223.6 1768.3,2221.6 1768.6,2219.6 1768.8,2217.6 1769.1,2215.5 1769.4,2213.2 1769.7,2210.7 1770.1,2208.1 1770.4,2205.5 1770.8,2203.0 1771.2,2200.6 1771.5,2198.6 1771.9,2196.9 1772.3,2195.6 1772.6,2195.0 1772.9,2195.0 1773.3,2195.4 1773.6,2196.3 1773.9,2197.8 1774.3,2199.5 1774.6,2201.6 1774.9,2203.9 1775.2,2206.4 1775.5,2209.0 1775.8,2211.6 1776.1,2214.2 1776.4,2216.8 1776.7,2219.1 1776.9,2221.3 1777.2,2223.3 1777.4,2225.3 1777.7,2227.3 1777.9,2229.3 1778.1,2231.2 1778.4,2233.2 1778.6,2235.2 1778.8,2237.2 1779.0,2239.2 1779.2,2241.2 1779.5,2243.2 1779.7,2245.2 1779.9,2247.2 1780.0,2249.2 1780.2,2251.1 1780.4,2253.1 1780.6,2255.1 1780.8,2257.1 1781.0,2259.1 1781.2,2261.1 1781.3,2263.1 1781.5,2265.1 1781.7,2267.1 1781.8,2269.1 1782.0,2271.1 1782.1,2273.1 1782.3,2275.1 1782.4,2277.1 1782.5,2279.0 1782.7,2281.0 1782.8,2283.0 1782.9,2285.0 1783.1,2287.0 1783.2,2289.0 1783.3,2291.0 1783.5,2293.0 1783.6,2295.0 1783.7,2297.0 1783.8,2299.0 1784.0,2301.0 1784.1,2303.0 1784.2,2305.0 1784.4,2307.0 1784.5,2309.0 1784.6,2311.0 1784.8,2313.0 1784.9,2315.0 1785.1,2317.0 1785.2,2319.0 1785.4,2321.0 1785.5,2322.9 1785.7,2324.9 1785.9,2326.9 1786.0,2328.9 1786.2,2330.9 1786.4,2332.9 1786.6,2334.9 1786.7,2336.9 1786.9,2338.9 1787.1,2340.9 1787.3,2342.9 1787.5,2344.9 1787.7,2346.9 1787.9,2348.8 1788.1,2350.8 1788.3,2352.8 1788.5,2354.8 1788.7,2356.8 1788.9,2358.8 1789.1,2360.8 1789.3,2362.8 1789.5,2364.8 1789.7,2366.7 1789.9,2368.7 1790.2,2370.7 1790.4,2372.7 1790.6,2374.7 1790.8,2376.7 1791.0,2378.7 1791.2,2380.7 1791.4,2382.7 1791.6,2384.7 1791.8,2386.7 1792.1,2388.7 1792.3,2390.7 1792.5,2392.7 1792.8,2394.7 1793.0,2396.7 1793.3,2398.6 1793.6,2400.6 1793.9,2402.6 1794.2,2404.5 1794.5,2406.5 1794.9,2408.4 1795.3,2410.4 1795.7,2412.3 1796.2,2414.3 1796.7,2416.3 1797.2,2418.2 1797.8,2420.2 1798.4,2422.2 1799.0,2424.1 1799.7,2426.0 1800.4,2427.9 1801.2,2429.8 1802.0,2431.6 1802.8,2433.4 1803.6,2435.2 1804.5,2436.8 1805.5,2438.5 1806.6,2440.4 1807.8,2442.3 1809.1,2444.2 1810.5,2446.2 1811.9,2447.7 1813.4,2448.8 1814.9,2449.7 1816.4,2450.5 1818.0,2451.2 1819.6,2452.5 1821.3,2453.8 1823.1,2455.1 1824.9,2456.2 1826.7,2457.2 1828.6,2458.0 1830.5,2458.7 1832.4,2459.3 1834.4,2459.3 1836.4,2459.3 1838.4,2459.2 1840.5,2459.4 1842.5,2459.7 1844.4,2459.9 1846.4,2459.8 1848.5,2459.4 1850.5,2458.9 1852.5,2458.3 1854.5,2457.6 1856.5,2457.0 1858.4,2456.3 1860.2,2455.7 1861.9,2455.1 1863.6,2454.3 1865.3,2453.3 1867.0,2452.1 1868.5,2450.6 1870.0,2449.1 1871.4,2447.5 1872.7,2446.1 1873.8,2444.6 1874.9,2443.1 1875.9,2441.5 1876.8,2439.8 1877.7,2437.9 1878.6,2436.1 1879.5,2434.3 1880.5,2432.6 1881.5,2431.0 1882.5,2429.0 1883.5,2426.8 1884.5,2424.6 1885.6,2422.7 1886.7,2421.0 1888.0,2419.7 1889.5,2420.0 1891.5,2420.6 1893.7,2421.3 1895.7,2421.2 1897.3,2420.4 1898.8,2420.7 1900.2,2422.2 1901.5,2424.4 1902.7,2426.7 1903.9,2428.6 1905.2,2430.1 1906.5,2431.2 1907.8,2432.1 1909.3,2432.2 1910.8,2431.2 1912.4,2429.7 1913.9,2428.0 1915.3,2426.0 1916.5,2424.1 1917.4,2422.3 1918.2,2420.6 1918.9,2418.8 1919.6,2416.9 1920.2,2415.0 1920.8,2413.0 1921.3,2411.0 1921.8,2409.0 1922.3,2407.0 1922.7,2405.0 1923.1,2403.1 1923.4,2401.1 1923.7,2399.2 1924.1,2397.2 1924.4,2395.2 1924.7,2393.2 1924.9,2391.3 1925.2,2389.3 1925.4,2387.3 1925.7,2385.3 1925.9,2383.3 1926.2,2381.3 1926.4,2379.3 1926.6,2377.3 1926.8,2375.3 1927.0,2373.3 1927.3,2371.3 1927.5,2369.3 1927.7,2367.4 1927.9,2365.4 1928.2,2363.4 1928.4,2361.4 1928.6,2359.4 1928.8,2357.4 1929.0,2355.4 1929.2,2353.4 1929.4,2351.4 1929.6,2349.4 1929.7,2347.5 1929.9,2345.5 1930.1,2343.5 1930.3,2341.5 1930.5,2339.5 1930.7,2337.5 1930.9,2335.5 1931.1,2333.5 1931.3,2331.5 1931.5,2329.5 1931.7,2327.5 1931.9,2325.6 1932.1,2323.6 1932.3,2321.6 1932.5,2319.6 1932.7,2317.6 1932.9,2315.6 1933.1,2313.6 1933.4,2311.6 1933.6,2309.6 1933.8,2307.7 1934.0,2305.7 1934.2,2303.7 1934.4,2301.7 1934.7,2299.7 1934.9,2297.7 1935.1,2295.7 1935.4,2293.7 1935.6,2291.8 1935.9,2289.8 1936.2,2287.8 1936.4,2285.8 1936.7,2283.8 1937.0,2281.9 1937.3,2279.9 1937.7,2277.9 1938.0,2275.9 1938.4,2274.0 1938.8,2272.0 1939.1,2270.0 1939.5,2268.1 1940.0,2266.1 1940.4,2264.2 1940.8,2262.2 1941.3,2260.3 1941.8,2258.3 1942.3,2255.9 1942.9,2253.4 1943.4,2251.1 1944.0,2249.4 1944.6,2248.4 1945.1,2249.1 1945.7,2250.4 1946.2,2252.2 1946.8,2254.5 1947.3,2257.0 1947.8,2259.6 1948.2,2262.0 1948.6,2264.1 1949.0,2266.1 1949.3,2268.1 1949.6,2270.0 1949.9,2272.0 1950.2,2274.0 1950.5,2276.0 1950.7,2277.9 1951.0,2279.9 1951.2,2281.9 1951.5,2283.9 1951.7,2285.9 1951.9,2287.9 1952.2,2289.9 1952.4,2291.9 1952.6,2293.9 1952.9,2295.9 1953.1,2297.8 1953.4,2299.8 1953.7,2301.8 1953.9,2303.8 1954.2,2305.8 1954.4,2307.8 1954.7,2309.7 1954.9,2311.7 1955.2,2313.7 1955.4,2315.7 1955.7,2317.7 1955.9,2319.7 1956.2,2321.7 1956.5,2323.6 1956.7,2325.6 1957.0,2327.6 1957.3,2329.6 1957.6,2331.5 1957.9,2333.5 1958.2,2335.5 1958.6,2337.5 1958.9,2339.5 1959.2,2341.4 1959.5,2343.4 1959.9,2345.4 1960.3,2347.4 1960.7,2349.4 1961.1,2351.3 1961.5,2353.3 1962.0,2355.2 1962.5,2357.1 1963.0,2359.1 1963.6,2361.4 1964.3,2363.9 1965.1,2366.3 1965.9,2368.4 1966.7,2370.3 1967.6,2371.6 1968.6,2372.0 1969.6,2371.4 1970.8,2370.0 1972.1,2368.1 1973.5,2365.8 1974.9,2363.5 1976.3,2361.2 1977.6,2359.2 1978.9,2357.7 1980.1,2357.2 1981.3,2357.7 1982.4,2359.1 1983.5,2361.0 1984.6,2363.1 1985.5,2365.4 1986.4,2367.6 1987.1,2369.6 1987.7,2371.4 1988.3,2373.3 1988.8,2375.2 1989.3,2377.1 1989.7,2379.1 1990.1,2381.0 1990.5,2383.0 1990.9,2385.0 1991.3,2387.0 1991.7,2389.0 1992.1,2391.0 1992.5,2393.0 1992.9,2394.9 1993.3,2396.9 1993.8,2398.9 1994.3,2400.8 1994.8,2402.7 1995.2,2404.7 1995.7,2406.6 1996.2,2408.6 1996.7,2410.6 1997.2,2412.5 1997.7,2414.5 1998.3,2416.4 1998.8,2418.3 1999.4,2420.3 1999.9,2422.2 2000.5,2424.1 2001.2,2426.0 2001.8,2427.9 2002.5,2429.7 2003.2,2431.6 2003.9,2433.4 2004.7,2435.2 2005.6,2437.0 2006.5,2439.0 2007.5,2441.0 2008.5,2443.0 2009.5,2444.8 2010.6,2446.6 2011.8,2448.2 2013.0,2449.7 2014.2,2451.2 2015.6,2452.7 2017.0,2454.2 2018.5,2455.6 2020.0,2456.9 2021.6,2458.2 2023.3,2459.5 2024.9,2460.6 2026.6,2461.7 2028.3,2462.8 2030.1,2464.0 2031.9,2465.3 2033.8,2466.4 2035.7,2467.3 2037.6,2467.7 2039.5,2468.0 2041.5,2468.2 2043.4,2469.0 2045.4,2470.0 2047.4,2470.8 2049.3,2471.3 2051.3,2471.0 2053.2,2470.6 2055.2,2470.2 2057.3,2469.8 2059.3,2469.4 2061.4,2469.0 2063.5,2468.7 2065.5,2469.1 2067.6,2469.4 2069.6,2469.8 2071.6,2468.5 2073.6,2466.9 2075.5,2465.3 2077.3,2464.0 2079.1,2464.2 2080.9,2464.1 2082.6,2463.8 2084.2,2463.1 2085.9,2462.0 2087.4,2460.7 2089.0,2459.5 2090.5,2458.3 2092.0,2456.9 2093.4,2455.3 2094.9,2453.7 2096.2,2452.1" fill="none" stroke="#9a9ac2" stroke-width="4.8"/>
<polyline points="329.0,2405.9 330.8,2406.8 332.6,2407.7 334.4,2408.5 336.3,2408.9 338.1,2409.2 339.9,2409.4 341.8,2410.1 343.6,2411.4 345.5,2412.6 347.4,2413.8 349.3,2414.5 351.2,2414.9 353.1,2415.3 355.0,2415.5 356.9,2415.8 358.9,2416.0 360.8,2416.3 362.8,2416.4 364.8,2416.3 366.8,2416.2 368.8,2416.1 370.8,2416.3 372.8,2416.6 374.9,2416.9 376.9,2417.0 378.9,2416.9 380.9,2416.8 382.9,2416.8 385.0,2416.6 387.0,2416.4 389.0,2416.3 390.9,2416.6 392.9,2417.6 394.9,2418.5 396.9,2419.6 398.8,2419.9 400.8,2420.3 402.7,2420.7 404.7,2421.2 406.7,2421.9 408.6,2422.6 410.6,2423.4 412.5,2423.4 414.5,2423.4 416.4,2423.3 418.4,2423.3 420.4,2423.6 422.3,2423.8 424.3,2424.1 426.2,2424.4 428.2,2424.8 430.2,2425.2 432.1,2425.5 434.1,2425.7 436.0,2425.8 438.0,2425.9 439.9,2426.6 441.9,2427.9 443.8,2429.2 445.8,2430.5 447.8,2430.4 449.7,2430.1 451.7,2429.7 453.7,2429.6 455.6,2429.9 457.6,2430.1 459.6,2430.3 461.6,2430.7 463.5,2431.2 465.5,2431.7 467.5,2432.2 469.5,2433.0 471.5,2433.7 473.5,2434.4 475.6,2434.3 477.6,2434.0 479.6,2433.7 481.6,2433.4 483.6,2433.0 485.6,2432.7 487.6,2432.3 489.6,2432.4 491.6,2432.5 493.5,2432.7 495.5,2432.9 497.5,2433.3 499.4,2433.5 501.4,2433.7 503.4,2433.2 505.3,2432.4 507.3,2431.6 509.2,2430.7 511.1,2429.8 513.0,2429.0 515.0,2428.1 516.9,2427.5 518.8,2427.0 520.6,2426.3 522.5,2425.5 524.3,2424.9 526.2,2424.4 528.1,2424.0 529.9,2423.9 531.9,2424.4 534.0,2425.4 536.1,2426.5 537.8,2426.7 539.0,2425.3 540.1,2422.9 541.0,2420.6 541.8,2418.0 542.6,2415.4 543.4,2413.1 544.2,2410.9 545.0,2409.3 545.8,2410.3 546.5,2412.4 547.2,2414.2 547.9,2416.4 548.7,2418.9 549.5,2421.3 550.3,2423.6 551.3,2425.3 552.4,2426.4 553.7,2427.5 555.3,2428.6 557.1,2429.6 559.0,2430.3 561.0,2430.6 563.0,2430.7 565.0,2430.6 566.9,2431.2 568.8,2431.8 570.7,2432.4 572.7,2432.9 574.6,2432.9 576.6,2433.0 578.6,2433.0 580.6,2433.7 582.6,2434.5 584.7,2435.3 586.7,2435.6 588.8,2435.2 590.8,2434.8 592.8,2434.4 594.9,2433.9 596.9,2433.4 598.9,2432.9 600.9,2433.0 602.9,2433.8 604.9,2434.5 606.9,2435.3 608.9,2434.9 610.9,2434.5 612.9,2434.1 615.0,2433.6 617.0,2433.0 619.0,2432.4 621.0,2431.8 623.0,2432.0 625.0,2432.2 627.0,2432.5 628.9,2432.5 630.9,2432.3 632.9,2432.1 634.9,2431.9 636.9,2431.7 638.8,2431.3 640.8,2430.9 642.8,2430.7 644.8,2430.6 646.8,2430.5 648.8,2430.3 650.8,2429.1 652.7,2427.8 654.7,2426.5 656.6,2425.6 658.4,2425.6 660.2,2425.5 662.0,2425.4 663.8,2425.1 665.6,2424.6 667.4,2423.9 669.2,2423.1 670.9,2422.0 672.5,2420.6 674.1,2419.2 675.6,2417.8 677.0,2416.3 678.3,2414.9 679.4,2413.4 680.6,2411.8 681.6,2410.1 682.7,2408.3 683.7,2406.4 684.6,2404.5 685.6,2402.6 686.4,2400.7 687.3,2398.8 688.1,2396.9 688.9,2395.0 689.6,2393.1 690.3,2391.2 690.9,2389.3 691.6,2387.5 692.2,2385.6 692.8,2383.7 693.4,2381.8 694.0,2379.9 694.5,2377.9 695.1,2376.0 695.6,2374.0 696.1,2372.1 696.6,2370.1 697.0,2368.2 697.5,2366.2 697.9,2364.2 698.3,2362.3 698.7,2360.3 699.0,2358.3 699.3,2356.3 699.6,2354.4 699.9,2352.4 700.2,2350.5 700.4,2348.5 700.7,2346.5 700.9,2344.5 701.2,2342.5 701.4,2340.6 701.6,2338.6 701.8,2336.6 702.0,2334.6 702.2,2332.6 702.4,2330.6 702.6,2328.6 702.8,2326.6 703.0,2324.6 703.2,2322.6 703.3,2320.6 703.5,2318.6 703.7,2316.6 703.8,2314.6 704.0,2312.6 704.1,2310.6 704.3,2308.6 704.4,2306.6 704.6,2304.6 704.7,2302.6 704.9,2300.6 705.0,2298.6 705.1,2296.6 705.3,2294.6 705.4,2292.7 705.5,2290.7 705.7,2288.7 705.8,2286.7 705.9,2284.7 706.0,2282.7 706.2,2280.7 706.3,2278.7 706.4,2276.7 706.5,2274.7 706.6,2272.7 706.7,2270.7 706.9,2268.7 707.0,2266.7 707.1,2264.7 707.2,2262.7 707.3,2260.7 707.4,2258.7 707.5,2256.7 707.6,2254.7 707.7,2252.7 707.8,2250.7 707.9,2248.7 708.0,2246.7 708.1,2244.7 708.2,2242.7 708.3,2240.7 708.4,2238.7 708.5,2236.7 708.6,2234.7 708.6,2232.7 708.7,2230.7 708.8,2228.7 708.9,2226.7 709.0,2224.7 709.1,2222.8 709.2,2220.8 709.2,2218.8 709.3,2216.8 709.4,2214.8 709.5,2212.8 709.6,2210.8 709.6,2208.8 709.7,2206.8 709.8,2204.8 709.9,2202.8 710.0,2200.8 710.0,2198.8 710.1,2196.8 710.2,2194.8 710.3,2192.8 710.3,2190.8 710.4,2188.8 710.5,2186.8 710.5,2184.8 710.6,2182.8 710.7,2180.8 710.7,2178.8 710.8,2176.8 710.9,2174.8 710.9,2172.8 711.0,2170.8 711.1,2168.8 711.1,2166.8 711.2,2164.8 711.3,2162.8 711.3,2160.8 711.4,2158.8 711.4,2156.8 711.5,2154.8 711.6,2152.8 711.6,2150.8 711.7,2148.8 711.7,2146.8 711.8,2144.8 711.9,2142.8 711.9,2140.8 712.0,2138.8 712.1,2136.8 712.1,2134.8 712.2,2132.8 712.2,2130.8 712.3,2128.8 712.4,2126.8 712.4,2124.8 712.5,2122.8 712.6,2120.8 712.6,2118.8 712.7,2116.8 712.8,2114.8 712.8,2112.8 712.9,2110.8 713.0,2108.8 713.1,2106.8 713.1,2104.8 713.2,2102.8 713.3,2100.8 713.4,2098.8 713.4,2096.8 713.5,2094.8 713.6,2092.8 713.7,2090.8 713.8,2088.8 713.8,2086.8 713.9,2084.8 714.0,2082.8 714.1,2080.8 714.2,2078.8 714.2,2076.8 714.3,2074.8 714.4,2072.8 714.5,2070.8 714.6,2068.8 714.6,2066.8 714.7,2064.8 714.8,2062.9 714.9,2060.9 715.0,2058.9 715.0,2056.9 715.1,2054.9 715.2,2052.9 715.3,2050.9 715.3,2048.9 715.4,2046.9 715.5,2044.9 715.6,2042.9 715.7,2040.9 715.7,2038.9 715.8,2036.9 715.9,2034.9 716.0,2032.9 716.0,2030.9 716.1,2028.9 716.2,2026.9 716.2,2024.9 716.3,2022.9 716.4,2020.9 716.4,2018.9 716.5,2016.9 716.6,2014.9 716.6,2012.9 716.7,2010.9 716.7,2008.9 716.8,2006.9 716.9,2004.9 716.9,2002.9 717.0,2000.9 717.0,1998.9 717.1,1996.9 717.1,1994.9 717.2,1992.9 717.2,1990.9 717.3,1988.9 717.3,1986.9 717.4,1984.9 717.4,1982.9 717.4,1980.9 717.5,1978.9 717.5,1976.9 717.6,1974.9 717.6,1972.9 717.6,1970.9 717.7,1968.9 717.7,1966.9 717.7,1964.9 717.8,1962.9 717.8,1960.9 717.9,1958.9 717.9,1956.9 717.9,1954.9 718.0,1952.9 718.0,1950.9 718.1,1948.9 718.1,1946.9 718.1,1944.9 718.2,1942.9 718.2,1940.9 718.3,1938.9 718.3,1936.9 718.4,1934.9 718.4,1932.9 718.5,1930.9 718.5,1928.9 718.6,1926.9 718.6,1924.9 718.7,1922.9 718.8,1920.9 718.8,1918.9 718.9,1916.9 718.9,1914.9 719.0,1912.9 719.1,1910.9 719.1,1908.9 719.2,1906.9 719.3,1904.9 719.3,1902.9 719.4,1900.9 719.5,1898.9 719.6,1896.9 719.6,1894.9 719.7,1892.9 719.8,1890.9 719.9,1888.9 719.9,1886.9 720.0,1884.9 720.1,1882.9 720.2,1880.9 720.3,1878.9 720.3,1876.9 720.4,1874.9 720.5,1872.9 720.6,1870.9 720.7,1868.9 720.8,1866.9 720.9,1864.9 720.9,1862.9 721.0,1861.0 721.1,1859.0 721.2,1857.0 721.3,1855.0 721.4,1853.0 721.5,1851.0 721.6,1848.9 721.7,1846.7 721.8,1844.3 721.9,1841.8 722.0,1839.3 722.2,1836.7 722.3,1834.0 722.4,1831.4 722.5,1828.7 722.7,1826.1 722.8,1823.5 722.9,1821.0 723.1,1818.6 723.2,1816.3 723.3,1814.1 723.5,1812.1 723.6,1810.3 723.7,1808.7 723.9,1807.3 724.0,1806.2 724.1,1805.3 724.2,1804.7 724.4,1803.6 724.5,1804.4 724.6,1804.9 724.7,1805.6 724.8,1806.5 725.0,1807.8 725.1,1809.2 725.2,1810.9 725.3,1812.8 725.4,1814.9 725.6,1817.1 725.7,1819.4 725.8,1821.9 725.9,1824.4 726.0,1827.0 726.1,1829.7 726.2,1832.3 726.3,1835.0 726.5,1837.6 726.6,1840.2 726.7,1842.7 726.8,1845.1 726.9,1847.5 726.9,1849.6 727.0,1851.7 727.1,1853.7 727.2,1855.7 727.3,1857.7 727.4,1859.7 727.4,1861.7 727.5,1863.7 727.6,1865.7 727.7,1867.7 727.7,1869.7 727.8,1871.7 727.9,1873.7 727.9,1875.7 728.0,1877.7 728.1,1879.7 728.1,1881.7 728.2,1883.6 728.3,1885.6 728.3,1887.6 728.4,1889.6 728.5,1891.6 728.5,1893.6 728.6,1895.6 728.6,1897.6 728.7,1899.6 728.8,1901.6 728.8,1903.6 728.9,1905.6 729.0,1907.6 729.0,1909.6 729.1,1911.6 729.1,1913.6 729.2,1915.6 729.3,1917.6 729.3,1919.6 729.4,1921.6 729.5,1923.6 729.5,1925.6 729.6,1927.6 729.7,1929.6 729.7,1931.6 729.8,1933.6 729.9,1935.6 729.9,1937.6 730.0,1939.6 730.1,1941.6 730.2,1943.6 730.3,1945.6 730.3,1947.6 730.4,1949.6 730.5,1951.6 730.6,1953.6 730.7,1955.6 730.8,1957.6 730.8,1959.6 730.9,1961.6 731.0,1963.6 731.1,1965.6 731.2,1967.6 731.3,1969.6 731.4,1971.6 731.4,1973.6 731.5,1975.6 731.6,1977.6 731.7,1979.6 731.8,1981.6 731.9,1983.6 731.9,1985.6 732.0,1987.6 732.1,1989.6 732.2,1991.6 732.3,1993.6 732.3,1995.6 732.4,1997.6 732.5,1999.6 732.6,2001.6 732.6,2003.6 732.7,2005.6 732.8,2007.6 732.8,2009.6 732.9,2011.6 732.9,2013.6 733.0,2015.6 733.1,2017.6 733.1,2019.6 733.2,2021.6 733.3,2023.6 733.3,2025.6 733.4,2027.6 733.4,2029.6 733.5,2031.6 733.5,2033.6 733.6,2035.6 733.6,2037.6 733.7,2039.6 733.8,2041.6 733.8,2043.6 733.9,2045.6 733.9,2047.6 734.0,2049.6 734.0,2051.6 734.1,2053.6 734.1,2055.5 734.2,2057.5 734.2,2059.5 734.3,2061.5 734.3,2063.5 734.4,2065.5 734.4,2067.5 734.5,2069.5 734.6,2071.5 734.6,2073.5 734.7,2075.5 734.7,2077.5 734.8,2079.5 734.8,2081.5 734.9,2083.5 735.0,2085.5 735.0,2087.5 735.1,2089.5 735.1,2091.5 735.2,2093.5 735.3,2095.5 735.3,2097.5 735.4,2099.5 735.4,2101.5 735.5,2103.5 735.6,2105.5 735.7,2107.5 735.7,2109.5 735.8,2111.5 735.9,2113.5 735.9,2115.5 736.0,2117.5 736.1,2119.5 736.2,2121.5 736.3,2123.5 736.3,2125.5 736.4,2127.5 736.5,2129.5 736.6,2131.5 736.7,2133.5 736.8,2135.5 736.9,2137.5 737.0,2139.5 737.1,2141.5 737.2,2143.5 737.3,2145.5 737.4,2147.5 737.5,2149.5 737.6,2151.5 737.7,2153.5 737.8,2155.5 737.9,2157.5 738.0,2159.5 738.1,2161.5 738.2,2163.5 738.4,2165.5 738.5,2167.5 738.6,2169.5 738.7,2171.5 738.8,2173.4 738.9,2175.4 739.0,2177.4 739.1,2179.4 739.2,2181.4 739.3,2183.4 739.5,2185.4 739.6,2187.4 739.7,2189.4 739.8,2191.4 739.9,2193.4 740.0,2195.4 740.1,2197.4 740.2,2199.4 740.3,2201.4 740.4,2203.4 740.5,2205.4 740.6,2207.4 740.7,2209.4 740.8,2211.4 740.9,2213.4 741.0,2215.4 741.1,2217.4 741.2,2219.4 741.3,2221.4 741.4,2223.4 741.5,2225.4 741.6,2227.4 741.7,2229.4 741.8,2231.4 741.9,2233.4 742.0,2235.4 742.1,2237.4 742.2,2239.4 742.3,2241.4 742.4,2243.4 742.5,2245.4 742.6,2247.4 742.7,2249.4 742.8,2251.4 742.9,2253.3 743.0,2255.3 743.1,2257.3 743.2,2259.3 743.3,2261.3 743.4,2263.3 743.5,2265.3 743.6,2267.3 743.7,2269.3 743.8,2271.3 743.9,2273.3 744.0,2275.3 744.1,2277.3 744.2,2279.3 744.3,2281.3 744.4,2283.3 744.6,2285.3 744.7,2287.3 744.8,2289.3 744.9,2291.3 745.0,2293.3 745.2,2295.3 745.3,2297.3 745.4,2299.3 745.5,2301.3 745.6,2303.3 745.7,2305.3 745.9,2307.3 746.0,2309.3 746.1,2311.3 746.2,2313.3 746.3,2315.3 746.4,2317.3 746.6,2319.3 746.7,2321.3 746.8,2323.3 747.0,2325.3 747.1,2327.3 747.2,2329.3 747.4,2331.3 747.6,2333.3 747.7,2335.3 747.9,2337.3 748.1,2339.3 748.3,2341.3 748.4,2343.2 748.7,2345.2 748.9,2347.2 749.1,2349.2 749.3,2351.1 749.6,2353.1 749.8,2355.1 750.1,2357.2 750.5,2359.2 750.8,2361.3 751.2,2363.3 751.6,2365.4 752.0,2367.5 752.5,2369.5 753.0,2371.5 753.5,2373.5 754.0,2375.4 754.6,2377.3 755.2,2379.2 755.9,2381.0 756.6,2382.8 757.3,2384.4 758.0,2386.1 758.9,2388.0 760.1,2390.1 761.4,2392.2 762.9,2393.9 764.5,2395.2 766.2,2396.3 767.9,2397.0 769.6,2398.1 771.2,2399.0 772.7,2399.5 774.3,2399.4 775.9,2398.8 777.7,2397.7 779.4,2396.3 781.1,2394.7 782.7,2392.9 784.2,2390.9 785.4,2389.1 786.4,2387.4 787.1,2385.8 787.6,2384.2 788.1,2382.5 788.6,2380.8 789.0,2379.1 789.4,2377.3 789.8,2375.5 790.2,2373.6 790.6,2371.7 791.0,2369.8 791.3,2367.8 791.6,2365.9 791.9,2363.9 792.2,2361.8 792.5,2359.8 792.8,2357.8 793.0,2355.7 793.3,2353.6 793.5,2351.5 793.7,2349.4 793.9,2347.3 794.1,2345.2 794.3,2343.1 794.5,2340.9 794.7,2338.8 794.8,2336.7 795.0,2334.6 795.2,2332.5 795.3,2330.5 795.5,2328.4 795.7,2326.4 795.8,2324.3 796.0,2322.3 796.1,2320.3 796.3,2318.3 796.4,2316.4 796.6,2314.4 796.7,2312.4 796.9,2310.4 797.0,2308.4 797.1,2306.4 797.3,2304.4 797.4,2302.4 797.5,2300.4 797.7,2298.4 797.8,2296.4 797.9,2294.4 798.0,2292.4 798.1,2290.4 798.3,2288.5 798.4,2286.5 798.5,2284.5 798.6,2282.5 798.7,2280.5 798.8,2278.5 798.9,2276.5 799.0,2274.5 799.1,2272.5 799.2,2270.5 799.3,2268.5 799.4,2266.5 799.5,2264.5 799.6,2262.5 799.7,2260.5 799.8,2258.5 799.9,2256.5 800.0,2254.5 800.1,2252.5 800.1,2250.5 800.2,2248.5 800.3,2246.5 800.4,2244.5 800.5,2242.5 800.6,2240.5 800.7,2238.5 800.7,2236.5 800.8,2234.5 800.9,2232.5 801.0,2230.5 801.1,2228.5 801.1,2226.5 801.2,2224.5 801.3,2222.5 801.4,2220.5 801.5,2218.5 801.5,2216.5 801.6,2214.5 801.7,2212.5 801.8,2210.5 801.9,2208.5 801.9,2206.5 802.0,2204.5 802.1,2202.5 802.2,2200.5 802.3,2198.5 802.3,2196.5 802.4,2194.5 802.5,2192.5 802.6,2190.5 802.6,2188.5 802.7,2186.5 802.8,2184.5 802.8,2182.5 802.9,2180.5 803.0,2178.5 803.0,2176.5 803.1,2174.5 803.2,2172.5 803.2,2170.5 803.3,2168.5 803.4,2166.5 803.4,2164.5 803.5,2162.5 803.6,2160.5 803.6,2158.5 803.7,2156.5 803.8,2154.5 803.8,2152.5 803.9,2150.5 804.0,2148.5 804.0,2146.5 804.1,2144.5 804.1,2142.5 804.2,2140.5 804.3,2138.5 804.3,2136.5 804.4,2134.5 804.5,2132.5 804.5,2130.5 804.6,2128.5 804.7,2126.5 804.7,2124.5 804.8,2122.5 804.9,2120.5 804.9,2118.5 805.0,2116.5 805.1,2114.5 805.2,2112.5 805.2,2110.5 805.3,2108.5 805.4,2106.5 805.4,2104.5 805.5,2102.5 805.6,2100.5 805.6,2098.5 805.7,2096.5 805.8,2094.5 805.9,2092.5 805.9,2090.5 806.0,2088.5 806.1,2086.5 806.1,2084.5 806.2,2082.6 806.3,2080.6 806.3,2078.6 806.4,2076.6 806.5,2074.6 806.5,2072.6 806.6,2070.6 806.7,2068.6 806.8,2066.6 806.8,2064.6 806.9,2062.6 807.0,2060.6 807.0,2058.6 807.1,2056.6 807.2,2054.6 807.3,2052.6 807.3,2050.6 807.4,2048.6 807.5,2046.6 807.5,2044.6 807.6,2042.6 807.7,2040.6 807.8,2038.6 807.8,2036.6 807.9,2034.6 808.0,2032.6 808.1,2030.6 808.1,2028.6 808.2,2026.6 808.3,2024.6 808.4,2022.6 808.5,2020.6 808.5,2018.6 808.6,2016.6 808.7,2014.6 808.8,2012.6 808.9,2010.6 808.9,2008.6 809.0,2006.6 809.1,2004.6 809.2,2002.6 809.3,2000.6 809.4,1998.6 809.4,1996.6 809.5,1994.6 809.6,1992.6 809.7,1990.6 809.8,1988.6 809.9,1986.6 810.0,1984.6 810.0,1982.6 810.1,1980.6 810.2,1978.6 810.3,1976.6 810.4,1974.6 810.5,1972.6 810.6,1970.6 810.7,1968.6 810.8,1966.6 810.9,1964.6 811.0,1962.6 811.1,1960.6 811.2,1958.6 811.3,1956.6 811.4,1954.7 811.5,1952.7 811.6,1950.7 811.8,1948.7 811.9,1946.7 812.0,1944.7 812.2,1942.5 812.3,1940.1 812.5,1937.6 812.7,1935.0 812.9,1932.3 813.1,1929.7 813.3,1927.2 813.5,1924.8 813.7,1922.6 813.9,1920.7 814.1,1919.1 814.3,1918.0 814.5,1917.2 814.6,1917.3 814.8,1917.2 814.9,1917.7 815.0,1918.4 815.2,1919.4 815.3,1920.7 815.4,1922.1 815.5,1923.8 815.6,1925.6 815.7,1927.6 815.8,1929.8 816.0,1932.1 816.1,1934.5 816.2,1937.0 816.3,1939.5 816.4,1942.1 816.5,1944.8 816.6,1947.4 816.7,1950.1 816.8,1952.7 816.9,1955.3 817.0,1957.9 817.1,1960.3 817.2,1962.7 817.3,1965.0 817.4,1967.1 817.6,1969.1 817.7,1971.1 817.8,1973.1 818.0,1975.1 818.1,1977.1 818.3,1979.1 818.4,1981.1 818.6,1983.1 818.7,1985.1 818.8,1987.1 819.0,1989.1 819.1,1991.1 819.2,1993.1 819.3,1995.1 819.4,1997.1 819.5,1999.1 819.5,2001.1 819.6,2003.1 819.6,2005.1 819.7,2007.1 819.7,2009.1 819.8,2011.0 819.8,2013.0 819.9,2015.0 819.9,2017.0 820.0,2019.0 820.0,2021.0 820.0,2023.0 820.1,2025.0 820.1,2027.0 820.2,2029.0 820.2,2031.0 820.2,2033.0 820.3,2035.0 820.3,2037.0 820.3,2039.0 820.3,2041.0 820.4,2043.0 820.4,2045.0 820.4,2047.0 820.4,2049.0 820.5,2051.0 820.5,2053.0 820.5,2055.0 820.5,2057.0 820.6,2059.0 820.6,2061.0 820.6,2063.0 820.6,2065.0 820.7,2067.0 820.7,2069.0 820.7,2071.0 820.7,2073.0 820.8,2075.0 820.8,2077.0 820.8,2079.0 820.8,2081.0 820.9,2083.0 820.9,2085.0 820.9,2087.0 820.9,2089.0 821.0,2091.0 821.0,2093.0 821.0,2095.0 821.1,2097.0 821.1,2099.0 821.1,2101.0 821.2,2103.0 821.2,2105.0 821.2,2107.0 821.3,2109.0 821.3,2111.0 821.4,2113.0 821.4,2115.0 821.4,2117.0 821.5,2119.0 821.5,2121.0 821.6,2123.0 821.6,2125.0 821.6,2127.0 821.7,2129.0 821.7,2131.0 821.8,2133.0 821.8,2135.0 821.9,2137.0 821.9,2139.0 822.0,2141.0 822.0,2143.0 822.0,2145.0 822.1,2147.0 822.1,2149.0 822.2,2151.0 822.2,2153.0 822.3,2155.0 822.3,2157.0 822.4,2159.0 822.4,2161.0 822.5,2163.0 822.5,2165.0 822.6,2167.0 822.6,2169.0 822.7,2171.0 822.7,2173.0 822.8,2175.0 822.9,2177.0 822.9,2179.0 823.0,2181.0 823.0,2183.0 823.1,2185.0 823.2,2187.0 823.2,2189.0 823.3,2191.0 823.3,2193.0 823.4,2195.0 823.5,2197.0 823.5,2199.0 823.6,2201.0 823.7,2203.0 823.7,2205.0 823.8,2207.0 823.9,2209.0 824.0,2211.0 824.0,2213.0 824.1,2215.0 824.2,2217.0 824.3,2219.0 824.3,2221.0 824.4,2223.0 824.5,2225.0 824.6,2227.0 824.7,2229.0 824.8,2231.0 824.9,2233.0 825.0,2235.0 825.1,2237.0 825.2,2239.0 825.3,2241.0 825.4,2243.0 825.5,2245.0 825.6,2247.0 825.7,2249.0 825.8,2251.0 825.9,2253.0 826.0,2255.0 826.2,2257.0 826.3,2259.0 826.4,2261.0 826.5,2263.0 826.7,2264.9 826.8,2266.9 826.9,2268.9 827.1,2270.9 827.2,2272.9 827.4,2274.9 827.5,2276.9 827.7,2278.9 827.8,2280.9 828.0,2282.9 828.2,2284.9 828.3,2286.9 828.5,2288.9 828.7,2290.9 828.9,2292.9 829.1,2294.9 829.4,2296.9 829.6,2298.9 829.8,2300.9 830.1,2302.9 830.3,2304.9 830.6,2306.8 830.9,2308.8 831.2,2310.8 831.5,2312.7 831.8,2314.7 832.1,2316.7 832.5,2318.8 833.0,2321.2 833.5,2323.6 834.0,2326.2 834.6,2328.7 835.3,2331.2 835.9,2333.6 836.6,2335.7 837.2,2337.6 837.9,2339.2 838.5,2340.6 839.1,2341.7 839.7,2342.1 840.3,2341.6 840.8,2340.4 841.4,2339.0 842.0,2337.3 842.6,2335.2 843.1,2332.9 843.7,2330.4 844.2,2327.9 844.7,2325.3 845.2,2322.8 845.6,2320.4 845.9,2318.3 846.3,2316.3 846.6,2314.4 846.8,2312.4 847.1,2310.4 847.4,2308.4 847.6,2306.4 847.8,2304.4 848.0,2302.5 848.3,2300.5 848.5,2298.5 848.7,2296.5 848.9,2294.5 849.1,2292.5 849.2,2290.5 849.4,2288.5 849.6,2286.5 849.8,2284.5 850.0,2282.5 850.2,2280.5 850.4,2278.6 850.6,2276.6 850.8,2274.6 851.0,2272.6 851.1,2270.6 851.3,2268.6 851.5,2266.6 851.7,2264.6 851.8,2262.6 852.0,2260.6 852.2,2258.6 852.3,2256.6 852.5,2254.6 852.7,2252.6 852.8,2250.7 853.0,2248.7 853.1,2246.7 853.3,2244.7 853.4,2242.7 853.6,2240.7 853.7,2238.7 853.8,2236.7 854.0,2234.7 854.1,2232.7 854.2,2230.7 854.3,2228.7 854.4,2226.7 854.6,2224.7 854.7,2222.7 854.8,2220.7 854.9,2218.7 855.0,2216.7 855.1,2214.7 855.2,2212.7 855.3,2210.7 855.4,2208.7 855.5,2206.7 855.6,2204.7 855.6,2202.7 855.7,2200.7 855.8,2198.8 855.9,2196.8 856.0,2194.8 856.1,2192.8 856.1,2190.8 856.2,2188.8 856.3,2186.8 856.4,2184.8 856.5,2182.8 856.5,2180.8 856.6,2178.8 856.7,2176.8 856.7,2174.8 856.8,2172.8 856.9,2170.8 857.0,2168.8 857.0,2166.8 857.1,2164.8 857.2,2162.8 857.2,2160.8 857.3,2158.8 857.4,2156.8 857.4,2154.8 857.5,2152.8 857.6,2150.8 857.6,2148.8 857.7,2146.8 857.8,2144.8 857.9,2142.8 857.9,2140.8 858.0,2138.8 858.1,2136.8 858.2,2134.8 858.2,2132.8 858.3,2130.8 858.4,2128.8 858.5,2126.8 858.6,2124.8 858.6,2122.8 858.7,2120.8 858.8,2118.8 858.9,2116.8 859.0,2114.8 859.1,2112.8 859.2,2110.8 859.3,2108.8 859.4,2106.8 859.5,2104.8 859.6,2102.8 859.7,2100.8 859.8,2098.8 859.9,2096.8 860.0,2094.8 860.1,2092.8 860.2,2090.8 860.4,2088.8 860.5,2086.8 860.6,2084.8 860.7,2082.8 860.9,2080.9 861.0,2078.9 861.1,2076.9 861.2,2074.9 861.3,2072.9 861.5,2070.9 861.6,2068.9 861.7,2066.9 861.8,2064.9 861.9,2062.9 862.0,2060.9 862.1,2058.9 862.2,2056.9 862.3,2054.9 862.4,2052.9 862.5,2050.9 862.5,2048.9 862.6,2046.9 862.7,2044.9 862.8,2042.9 862.9,2040.9 862.9,2038.9 863.0,2036.9 863.1,2034.9 863.2,2032.9 863.2,2030.9 863.3,2028.9 863.4,2026.9 863.4,2024.9 863.5,2022.9 863.6,2020.9 863.6,2018.9 863.7,2016.9 863.8,2014.9 863.8,2012.9 863.9,2010.9 863.9,2008.9 864.0,2006.9 864.1,2004.9 864.1,2002.9 864.2,2000.9 864.2,1998.9 864.3,1996.9 864.3,1994.9 864.3,1992.9 864.4,1990.9 864.4,1988.9 864.5,1986.9 864.5,1984.9 864.5,1982.9 864.6,1980.9 864.6,1978.9 864.6,1976.9 864.7,1974.9 864.7,1972.9 864.7,1970.9 864.8,1968.9 864.8,1966.9 864.8,1964.9 864.8,1962.9 864.9,1960.9 864.9,1958.9 864.9,1956.9 864.9,1954.9 865.0,1952.9 865.0,1950.9 865.0,1948.9 865.0,1946.9 865.1,1944.9 865.1,1942.9 865.1,1940.9 865.1,1938.9 865.1,1936.9 865.2,1934.9 865.2,1932.9 865.2,1930.9 865.2,1928.9 865.2,1926.9 865.3,1924.9 865.3,1922.9 865.3,1920.9 865.3,1918.9 865.3,1916.9 865.4,1914.9 865.4,1912.9 865.4,1910.9 865.4,1908.9 865.4,1906.9 865.5,1904.9 865.5,1902.9 865.5,1900.9 865.5,1898.9 865.5,1896.9 865.5,1894.9 865.6,1892.9 865.6,1890.9 865.6,1888.9 865.6,1886.9 865.6,1884.9 865.6,1882.9 865.7,1880.9 865.7,1878.9 865.7,1876.9 865.7,1874.9 865.7,1872.9 865.7,1870.9 865.7,1868.9 865.7,1866.9 865.8,1864.9 865.8,1862.9 865.8,1860.9 865.8,1858.9 865.8,1856.9 865.8,1854.9 865.8,1852.9 865.8,1850.9 865.9,1848.9 865.9,1846.9 865.9,1844.9 865.9,1842.9 865.9,1840.9 865.9,1838.9 865.9,1836.9 865.9,1834.9 865.9,1832.9 866.0,1830.9 866.0,1828.9 866.0,1826.9 866.0,1824.9 866.0,1822.9 866.0,1820.9 866.0,1818.9 866.1,1816.9 866.1,1814.9 866.1,1812.9 866.1,1810.9 866.1,1808.9 866.1,1806.9 866.2,1804.9 866.2,1802.9 866.2,1800.9 866.2,1798.9 866.2,1796.9 866.2,1794.9 866.3,1792.9 866.3,1790.9 866.3,1788.9 866.3,1786.9 866.4,1784.9 866.4,1782.9 866.4,1780.9 866.4,1778.9 866.5,1776.9 866.5,1774.9 866.5,1772.9 866.6,1770.9 866.6,1768.9 866.6,1766.9 866.7,1764.9 866.7,1762.9 866.8,1760.9 866.8,1758.9 866.8,1756.9 866.9,1754.9 866.9,1752.9 867.0,1750.9 867.0,1748.9 867.0,1746.9 867.1,1744.9 867.1,1742.9 867.2,1740.9 867.2,1738.9 867.3,1736.9 867.3,1734.9 867.4,1732.9 867.4,1730.9 867.5,1728.9 867.5,1726.9 867.6,1724.9 867.6,1722.9 867.7,1720.9 867.7,1718.9 867.8,1716.9 867.8,1715.0 867.9,1713.0 867.9,1711.0 868.0,1709.0 868.0,1707.0 868.1,1705.0 868.2,1703.0 868.2,1701.0 868.3,1699.0 868.3,1697.0 868.4,1695.0 868.4,1693.0 868.5,1691.0 868.5,1689.0 868.6,1687.0 868.6,1685.0 868.7,1683.0 868.7,1681.0 868.8,1679.0 868.8,1677.0 868.9,1675.0 868.9,1673.0 869.0,1671.0 869.0,1669.0 869.1,1667.0 869.2,1665.0 869.2,1663.0 869.3,1661.0 869.3,1659.0 869.4,1657.0 869.4,1655.0 869.5,1653.0 869.5,1651.0 869.6,1649.0 869.7,1647.0 869.7,1645.0 869.8,1643.0 869.8,1641.0 869.9,1639.0 870.0,1637.0 870.0,1635.0 870.1,1633.0 870.2,1631.0 870.3,1629.0 870.3,1627.0 870.4,1625.0 870.5,1623.0 870.6,1621.0 870.7,1619.0 870.7,1617.0 870.8,1615.0 870.9,1613.0 871.0,1611.0 871.1,1609.0 871.2,1607.0 871.3,1605.0 871.4,1602.9 871.5,1600.6 871.6,1598.2 871.8,1595.7 871.9,1593.1 872.0,1590.4 872.2,1587.8 872.3,1585.1 872.5,1582.6 872.7,1580.1 872.9,1577.8 873.0,1575.7 873.2,1573.8 873.5,1572.1 873.7,1570.7 873.9,1569.6 874.2,1568.9 874.4,1569.5 874.7,1568.9 875.1,1569.9 875.6,1571.8 876.1,1574.1 876.6,1576.7 877.1,1579.2 877.4,1581.5 877.7,1583.5 878.0,1585.5 878.3,1587.5 878.5,1589.4 878.8,1591.4 879.0,1593.4 879.2,1595.4 879.4,1597.4 879.6,1599.4 879.8,1601.4 880.0,1603.4 880.1,1605.4 880.3,1607.4 880.4,1609.4 880.5,1611.4 880.6,1613.4 880.6,1615.4 880.7,1617.4 880.8,1619.4 880.8,1621.4 880.9,1623.4 881.0,1625.4 881.0,1627.4 881.1,1629.4 881.1,1631.4 881.2,1633.4 881.2,1635.4 881.2,1637.4 881.3,1639.4 881.3,1641.4 881.4,1643.4 881.4,1645.4 881.4,1647.4 881.5,1649.4 881.5,1651.4 881.6,1653.4 881.6,1655.4 881.7,1657.4 881.7,1659.4 881.7,1661.4 881.8,1663.4 881.8,1665.4 881.9,1667.4 881.9,1669.4 881.9,1671.4 882.0,1673.4 882.0,1675.4 882.0,1677.4 882.1,1679.4 882.1,1681.4 882.1,1683.4 882.2,1685.4 882.2,1687.4 882.2,1689.4 882.3,1691.4 882.3,1693.4 882.3,1695.4 882.4,1697.4 882.4,1699.4 882.4,1701.4 882.5,1703.4 882.5,1705.4 882.6,1707.4 882.6,1709.4 882.6,1711.4 882.7,1713.4 882.7,1715.4 882.7,1717.4 882.8,1719.4 882.8,1721.4 882.9,1723.3 882.9,1725.3 883.0,1727.3 883.0,1729.3 883.0,1731.3 883.1,1733.3 883.1,1735.3 883.2,1737.3 883.2,1739.3 883.3,1741.3 883.3,1743.3 883.4,1745.3 883.4,1747.3 883.5,1749.3 883.5,1751.3 883.6,1753.3 883.6,1755.3 883.6,1757.3 883.7,1759.3 883.7,1761.3 883.8,1763.3 883.8,1765.3 883.9,1767.3 883.9,1769.3 884.0,1771.3 884.0,1773.3 884.1,1775.3 884.1,1777.3 884.2,1779.3 884.2,1781.3 884.3,1783.3 884.3,1785.3 884.4,1787.3 884.4,1789.3 884.5,1791.3 884.5,1793.3 884.6,1795.3 884.6,1797.3 884.7,1799.3 884.7,1801.3 884.8,1803.3 884.8,1805.3 884.9,1807.3 884.9,1809.3 885.0,1811.3 885.0,1813.3 885.1,1815.3 885.1,1817.3 885.2,1819.3 885.2,1821.3 885.3,1823.3 885.4,1825.3 885.4,1827.3 885.5,1829.3 885.5,1831.3 885.6,1833.3 885.6,1835.3 885.7,1837.3 885.7,1839.3 885.8,1841.3 885.8,1843.3 885.9,1845.3 885.9,1847.3 886.0,1849.3 886.0,1851.3 886.1,1853.3 886.1,1855.3 886.2,1857.3 886.2,1859.3 886.3,1861.3 886.3,1863.3 886.4,1865.3 886.4,1867.3 886.5,1869.3 886.5,1871.3 886.6,1873.3 886.6,1875.3 886.6,1877.3 886.7,1879.3 886.7,1881.3 886.8,1883.3 886.8,1885.3 886.8,1887.3 886.9,1889.3 886.9,1891.3 887.0,1893.3 887.0,1895.3 887.0,1897.3 887.1,1899.3 887.1,1901.3 887.1,1903.3 887.2,1905.3 887.2,1907.3 887.2,1909.3 887.3,1911.3 887.3,1913.3 887.3,1915.3 887.4,1917.3 887.4,1919.3 887.4,1921.3 887.5,1923.3 887.5,1925.3 887.5,1927.3 887.6,1929.3 887.6,1931.3 887.6,1933.3 887.6,1935.3 887.7,1937.3 887.7,1939.3 887.7,1941.3 887.8,1943.3 887.8,1945.3 887.8,1947.3 887.8,1949.3 887.9,1951.3 887.9,1953.3 887.9,1955.3 888.0,1957.3 888.0,1959.3 888.0,1961.3 888.0,1963.3 888.1,1965.3 888.1,1967.3 888.1,1969.3 888.1,1971.3 888.2,1973.3 888.2,1975.3 888.2,1977.3 888.2,1979.3 888.3,1981.3 888.3,1983.3 888.3,1985.3 888.3,1987.3 888.3,1989.3 888.4,1991.3 888.4,1993.3 888.4,1995.3 888.4,1997.3 888.4,1999.3 888.5,2001.3 888.5,2003.3 888.5,2005.3 888.5,2007.3 888.6,2009.3 888.6,2011.3 888.6,2013.3 888.6,2015.3 888.7,2017.3 888.7,2019.3 888.7,2021.3 888.7,2023.3 888.8,2025.3 888.8,2027.3 888.8,2029.3 888.9,2031.3 888.9,2033.3 888.9,2035.3 889.0,2037.3 889.0,2039.3 889.0,2041.3 889.1,2043.3 889.1,2045.3 889.2,2047.3 889.2,2049.3 889.3,2051.3 889.3,2053.3 889.4,2055.3 889.5,2057.3 889.5,2059.3 889.6,2061.3 889.7,2063.3 889.8,2065.3 889.9,2067.3 889.9,2069.3 890.0,2071.3 890.1,2073.3 890.2,2075.3 890.3,2077.3 890.4,2079.3 890.5,2081.3 890.6,2083.3 890.6,2085.3 890.7,2087.3 890.8,2089.3 890.9,2091.2 891.0,2093.2 891.1,2095.2 891.2,2097.2 891.3,2099.2 891.4,2101.2 891.5,2103.2 891.6,2105.2 891.6,2107.2 891.7,2109.2 891.8,2111.2 891.9,2113.2 892.0,2115.2 892.0,2117.2 892.1,2119.2 892.2,2121.2 892.2,2123.2 892.3,2125.2 892.4,2127.2 892.4,2129.2 892.5,2131.2 892.5,2133.2 892.6,2135.2 892.6,2137.2 892.7,2139.2 892.7,2141.2 892.7,2143.2 892.8,2145.2 892.8,2147.2 892.9,2149.2 892.9,2151.2 892.9,2153.2 893.0,2155.2 893.0,2157.2 893.0,2159.2 893.1,2161.2 893.1,2163.2 893.1,2165.2 893.1,2167.2 893.2,2169.2 893.2,2171.2 893.2,2173.2 893.3,2175.2 893.3,2177.2 893.3,2179.2 893.4,2181.2 893.4,2183.2 893.4,2185.2 893.5,2187.2 893.5,2189.2 893.6,2191.2 893.6,2193.2 893.7,2195.2 893.7,2197.2 893.8,2199.2 893.8,2201.2 893.9,2203.2 893.9,2205.2 894.0,2207.2 894.0,2209.2 894.1,2211.2 894.2,2213.2 894.2,2215.2 894.3,2217.2 894.4,2219.2 894.5,2221.2 894.5,2223.2 894.6,2225.2 894.7,2227.2 894.8,2229.2 894.9,2231.2 895.0,2233.2 895.1,2235.2 895.1,2237.2 895.2,2239.2 895.3,2241.2 895.4,2243.2 895.5,2245.2 895.6,2247.2 895.8,2249.2 895.9,2251.2 896.0,2253.2 896.1,2255.2 896.2,2257.2 896.3,2259.2 896.4,2261.2 896.6,2263.2 896.7,2265.1 896.8,2267.1 896.9,2269.1 897.1,2271.1 897.2,2273.1 897.4,2275.1 897.5,2277.1 897.7,2279.1 897.9,2281.1 898.1,2283.1 898.3,2285.1 898.5,2287.1 898.7,2289.0 898.9,2291.0 899.1,2293.0 899.4,2295.0 899.6,2297.0 899.8,2299.0 900.1,2301.0 900.3,2303.0 900.5,2305.0 900.7,2306.9 900.9,2308.9 901.2,2310.9 901.4,2312.9 901.6,2314.9 901.8,2316.9 902.0,2318.9 902.2,2320.9 902.4,2322.9 902.5,2324.9 902.7,2326.9 902.9,2328.9 903.0,2330.9 903.2,2332.9 903.4,2334.9 903.5,2336.9 903.7,2338.9 903.9,2340.9 904.1,2342.8 904.3,2344.8 904.5,2346.8 904.7,2348.8 904.9,2350.8 905.1,2352.8 905.3,2354.8 905.6,2356.7 905.8,2358.7 906.1,2360.7 906.4,2362.7 906.7,2364.6 907.1,2366.6 907.5,2368.5 907.9,2370.5 908.3,2372.5 908.8,2374.4 909.3,2376.4 909.8,2378.3 910.3,2380.3 910.9,2382.2 911.5,2384.1 912.1,2386.0 912.7,2387.9 913.3,2389.8 913.9,2391.7 914.5,2393.6 915.2,2395.5 916.0,2397.4 916.7,2399.3 917.5,2401.2 918.3,2403.1 919.1,2404.9 920.0,2406.8 920.9,2408.6 921.8,2410.3 922.8,2412.0 923.8,2413.7 924.8,2415.2 925.9,2416.7 927.0,2418.2 928.2,2419.7 929.6,2421.0 930.9,2422.2 932.3,2423.3 933.8,2424.4 935.3,2425.3 936.9,2426.5 938.5,2428.1 940.1,2429.6 941.7,2431.0 943.3,2432.4 945.0,2433.3 946.7,2434.3 948.5,2435.3 950.4,2436.2 952.2,2437.0 954.1,2437.7 956.1,2438.4 958.0,2439.0 960.0,2439.5 961.9,2439.9 963.9,2440.3 965.8,2441.2 967.7,2442.1 969.7,2443.1 971.6,2443.8 973.5,2444.0 975.5,2444.2 977.4,2444.4 979.4,2444.9 981.4,2445.5 983.4,2446.1 985.3,2446.7 987.3,2447.4 989.3,2448.0 991.3,2448.6 993.3,2448.7 995.2,2448.4 997.2,2448.1 999.2,2447.8 1001.2,2448.1 1003.2,2448.4 1005.1,2448.5 1007.1,2449.0 1009.1,2449.7 1011.2,2450.4 1013.2,2450.8 1015.2,2450.1 1017.2,2449.3 1019.1,2448.5 1021.1,2447.4 1023.0,2446.3 1024.9,2445.1 1026.8,2443.6 1028.7,2442.8 1030.5,2442.0 1032.2,2441.6 1033.8,2442.0 1035.3,2443.0 1036.6,2444.6 1038.0,2446.4 1039.3,2448.4 1040.7,2450.3 1042.3,2451.9 1043.9,2453.2 1045.6,2454.5 1047.4,2455.8 1049.3,2456.5 1051.2,2456.9 1053.0,2457.1 1054.9,2457.1 1056.8,2457.2 1058.7,2457.3 1060.7,2457.4 1062.6,2457.5 1064.6,2457.7 1066.6,2457.8 1068.6,2458.0 1070.6,2458.6 1072.6,2459.2 1074.6,2459.9 1076.6,2460.4 1078.6,2460.4 1080.7,2460.4 1082.7,2460.5 1084.7,2460.3 1086.7,2460.1 1088.8,2460.0 1090.8,2459.9 1092.8,2460.1 1094.8,2460.3 1096.8,2460.5 1098.8,2460.5 1100.8,2460.4 1102.8,2460.4 1104.8,2460.6 1106.8,2461.0 1108.8,2461.5 1110.8,2461.9 1112.8,2461.5 1114.9,2461.1 1116.9,2460.7 1118.9,2460.6 1120.9,2461.0 1122.9,2461.5 1124.9,2461.9 1126.9,2462.1 1128.9,2462.3 1131.0,2462.4 1133.0,2462.5 1135.0,2462.4 1137.0,2462.3 1139.0,2462.2 1141.0,2461.8 1143.0,2461.3 1145.0,2460.9 1147.0,2461.1 1149.0,2461.8 1151.0,2462.6 1153.0,2463.4 1155.0,2462.7 1156.9,2462.0 1158.9,2461.3 1160.9,2461.1 1162.9,2461.5 1164.9,2461.9 1166.8,2462.3 1168.8,2461.9 1170.8,2461.2 1172.8,2460.4 1174.8,2459.5 1176.7,2458.5 1178.6,2457.5 1180.5,2456.5 1182.2,2456.1 1184.0,2455.8 1185.7,2455.3 1187.4,2454.5 1189.0,2453.4 1190.5,2451.9 1191.9,2450.4 1193.1,2448.9 1194.0,2446.9 1194.9,2444.6 1195.7,2442.2 1196.4,2440.0 1197.2,2438.2 1198.2,2437.3 1199.2,2437.2 1200.5,2438.1 1201.9,2439.7 1203.4,2441.7 1204.9,2443.8 1206.5,2445.5 1208.1,2446.7 1209.7,2446.8 1211.4,2446.2 1213.3,2445.4 1215.3,2444.3 1217.2,2443.2 1219.2,2442.1 1221.1,2440.8 1223.0,2439.5 1224.6,2438.3 1226.1,2437.0 1227.3,2435.7 1228.3,2434.5 1229.1,2433.1 1229.8,2431.5 1230.5,2429.7 1231.2,2427.8 1231.8,2425.8 1232.3,2423.8 1232.8,2421.7 1233.3,2419.6 1233.8,2417.5 1234.2,2415.4 1234.6,2413.4 1235.0,2411.4 1235.4,2409.5 1235.8,2407.5 1236.1,2405.6 1236.4,2403.6 1236.7,2401.6 1237.1,2399.6 1237.3,2397.7 1237.6,2395.7 1237.9,2393.7 1238.2,2391.7 1238.4,2389.7 1238.7,2387.7 1238.9,2385.7 1239.2,2383.8 1239.4,2381.8 1239.7,2379.8 1239.9,2377.8 1240.1,2375.8 1240.3,2373.8 1240.6,2371.8 1240.8,2369.8 1241.0,2367.8 1241.3,2365.8 1241.5,2363.9 1241.7,2361.9 1241.9,2359.9 1242.1,2357.9 1242.3,2355.9 1242.5,2353.9 1242.7,2351.9 1242.9,2349.9 1243.1,2347.9 1243.3,2345.9 1243.4,2343.9 1243.6,2342.0 1243.8,2340.0 1244.0,2338.0 1244.2,2336.0 1244.4,2334.0 1244.5,2332.0 1244.7,2330.0 1244.9,2328.0 1245.1,2326.0 1245.3,2324.0 1245.5,2322.0 1245.7,2320.1 1245.9,2318.1 1246.1,2316.1 1246.3,2314.1 1246.6,2312.1 1246.8,2310.1 1247.0,2308.1 1247.2,2306.1 1247.5,2304.1 1247.7,2302.2 1247.9,2300.2 1248.2,2298.2 1248.4,2296.2 1248.7,2294.2 1248.9,2292.2 1249.2,2290.2 1249.5,2288.3 1249.7,2286.3 1250.0,2284.3 1250.3,2282.3 1250.6,2280.3 1250.9,2278.4 1251.3,2276.4 1251.6,2274.4 1252.0,2272.1 1252.4,2269.5 1252.8,2266.9 1253.3,2264.4 1253.8,2262.0 1254.3,2260.0 1254.7,2258.4 1255.2,2257.4 1255.6,2257.2 1256.1,2257.5 1256.5,2258.5 1257.0,2260.2 1257.4,2262.3 1257.9,2264.7 1258.3,2267.3 1258.7,2269.9 1259.1,2272.4 1259.4,2274.7 1259.8,2276.7 1260.1,2278.6 1260.4,2280.6 1260.7,2282.6 1260.9,2284.6 1261.2,2286.6 1261.4,2288.5 1261.7,2290.5 1261.9,2292.5 1262.2,2294.5 1262.4,2296.5 1262.6,2298.5 1262.8,2300.5 1263.1,2302.5 1263.3,2304.4 1263.5,2306.4 1263.7,2308.4 1264.0,2310.4 1264.2,2312.4 1264.4,2314.4 1264.6,2316.4 1264.8,2318.4 1265.0,2320.4 1265.2,2322.3 1265.5,2324.3 1265.7,2326.3 1265.9,2328.3 1266.1,2330.3 1266.2,2332.3 1266.4,2334.3 1266.6,2336.3 1266.8,2338.3 1267.0,2340.3 1267.2,2342.2 1267.4,2344.2 1267.6,2346.2 1267.8,2348.2 1268.0,2350.2 1268.2,2352.2 1268.4,2354.2 1268.6,2356.2 1268.8,2358.2 1269.0,2360.2 1269.2,2362.1 1269.5,2364.1 1269.7,2366.1 1269.9,2368.1 1270.1,2370.1 1270.3,2372.1 1270.6,2374.1 1270.8,2376.1 1271.0,2378.1 1271.2,2380.1 1271.4,2382.1 1271.6,2384.1 1271.8,2386.1 1272.0,2388.1 1272.2,2390.1 1272.4,2392.1 1272.7,2394.1 1272.9,2396.1 1273.1,2398.1 1273.3,2400.1 1273.6,2402.1 1273.8,2404.1 1274.1,2406.1 1274.4,2408.1 1274.7,2410.0 1275.0,2412.0 1275.3,2414.0 1275.6,2415.9 1276.0,2417.9 1276.3,2419.8 1276.7,2421.7 1277.1,2423.6 1277.6,2425.6 1278.1,2427.6 1278.7,2429.6 1279.3,2431.6 1280.0,2433.6 1280.7,2435.5 1281.5,2437.5 1282.3,2439.3 1283.2,2441.1 1284.1,2442.9 1285.1,2444.4 1286.1,2445.8 1287.2,2447.0 1288.4,2448.2 1289.8,2449.3 1291.4,2450.3 1293.0,2451.3 1294.8,2452.6 1296.6,2453.9 1298.4,2455.1 1300.3,2456.2 1302.1,2457.3 1303.9,2458.1 1305.7,2459.0 1307.6,2459.6 1309.6,2460.0 1311.6,2460.4 1313.6,2460.8 1315.6,2461.4 1317.7,2462.1 1319.7,2462.8 1321.7,2463.1 1323.6,2462.7 1325.6,2462.3 1327.6,2461.9 1329.6,2462.4 1331.6,2463.1 1333.6,2463.8 1335.5,2464.4 1337.5,2464.5 1339.5,2464.6 1341.5,2464.7 1343.5,2464.7 1345.5,2464.7 1347.5,2464.7 1349.5,2464.8 1351.5,2465.3 1353.5,2465.8 1355.5,2466.3 1357.5,2466.5 1359.5,2466.5 1361.4,2466.6 1363.4,2466.6 1365.4,2466.3 1367.4,2466.0 1369.4,2465.7 1371.4,2466.3 1373.4,2467.1 1375.4,2467.9 1377.4,2468.4 1379.4,2467.7 1381.4,2467.0 1383.4,2466.3 1385.4,2466.5 1387.4,2467.0 1389.4,2467.4 1391.4,2467.8 1393.4,2467.7 1395.4,2467.7 1397.4,2467.7 1399.4,2467.8 1401.5,2468.0 1403.5,2468.1 1405.5,2468.1 1407.5,2467.7 1409.5,2467.3 1411.5,2466.9 1413.5,2467.0 1415.5,2467.2 1417.4,2467.5 1419.4,2467.6 1421.3,2467.3 1423.2,2466.8 1425.1,2466.0 1427.0,2465.3 1428.9,2464.8 1430.7,2464.2 1432.6,2463.7 1434.5,2462.5 1436.4,2461.3 1438.3,2460.4 1440.2,2459.8 1442.2,2460.2 1444.2,2460.6 1446.3,2461.1 1448.4,2461.5 1450.5,2461.7 1452.5,2461.9 1454.6,2462.1 1456.7,2462.1 1458.7,2462.1 1460.7,2462.0 1462.6,2463.4 1464.5,2464.9 1466.3,2466.2 1468.0,2467.4 1469.7,2466.2 1471.2,2464.1 1472.7,2461.9 1474.1,2459.7 1475.6,2457.7 1477.0,2455.9 1478.5,2454.2 1480.0,2452.4 1481.5,2450.5 1482.9,2448.8 1484.4,2447.6 1485.9,2446.8 1487.4,2446.7 1488.9,2447.0 1490.4,2446.8 1491.9,2447.1 1493.4,2448.1 1494.9,2449.6 1496.4,2451.3 1497.9,2453.3 1499.5,2455.0 1501.1,2456.5 1502.7,2457.4 1504.5,2457.5 1506.3,2457.3 1508.2,2457.0 1510.2,2456.4 1512.2,2455.1 1514.1,2453.6 1516.1,2452.1 1517.9,2450.9 1519.6,2449.9 1521.2,2448.9 1522.7,2447.9 1524.1,2446.6 1525.5,2445.2 1526.9,2443.6 1528.1,2442.0 1529.3,2440.3 1530.2,2438.6 1531.0,2436.9 1531.7,2435.1 1532.4,2433.3 1533.0,2431.5 1533.6,2429.6 1534.1,2427.7 1534.7,2425.7 1535.1,2423.7 1535.6,2421.7 1536.0,2419.7 1536.4,2417.7 1536.8,2415.7 1537.2,2413.7 1537.5,2411.7 1537.9,2409.7 1538.2,2407.8 1538.5,2405.8 1538.8,2403.8 1539.1,2401.9 1539.4,2399.9 1539.7,2397.9 1540.0,2395.9 1540.2,2393.9 1540.5,2391.9 1540.7,2390.0 1541.0,2388.0 1541.2,2386.0 1541.4,2384.0 1541.6,2382.0 1541.8,2380.0 1542.0,2378.0 1542.3,2376.0 1542.4,2374.0 1542.6,2372.0 1542.8,2370.0 1543.0,2368.0 1543.2,2366.1 1543.4,2364.1 1543.5,2362.1 1543.7,2360.1 1543.9,2358.1 1544.0,2356.1 1544.2,2354.1 1544.3,2352.1 1544.5,2350.1 1544.6,2348.1 1544.7,2346.1 1544.9,2344.1 1545.0,2342.1 1545.2,2340.1 1545.3,2338.1 1545.4,2336.1 1545.6,2334.1 1545.7,2332.1 1545.8,2330.2 1546.0,2328.2 1546.1,2326.2 1546.3,2324.2 1546.4,2322.2 1546.6,2320.2 1546.7,2318.2 1546.9,2316.2 1547.0,2314.2 1547.2,2312.2 1547.3,2310.2 1547.5,2308.2 1547.6,2306.2 1547.8,2304.2 1547.9,2302.2 1548.1,2300.2 1548.2,2298.2 1548.4,2296.2 1548.5,2294.2 1548.7,2292.3 1548.8,2290.3 1549.0,2288.3 1549.1,2286.3 1549.3,2284.3 1549.4,2282.3 1549.5,2280.3 1549.7,2278.3 1549.8,2276.3 1550.0,2274.3 1550.1,2272.3 1550.3,2270.3 1550.4,2268.3 1550.6,2266.3 1550.7,2264.3 1550.8,2262.3 1550.9,2260.3 1551.1,2258.3 1551.2,2256.3 1551.3,2254.3 1551.5,2252.3 1551.6,2250.3 1551.8,2248.3 1551.9,2246.3 1552.0,2244.4 1552.2,2242.4 1552.4,2240.4 1552.5,2238.4 1552.7,2236.4 1552.9,2234.4 1553.0,2232.4 1553.2,2230.4 1553.4,2228.4 1553.7,2226.4 1553.9,2224.5 1554.1,2222.5 1554.4,2220.5 1554.6,2218.5 1554.9,2216.5 1555.2,2214.5 1555.5,2212.5 1555.8,2210.6 1556.1,2208.6 1556.5,2206.6 1556.8,2204.6 1557.2,2202.7 1557.5,2200.7 1557.9,2198.8 1558.3,2196.7 1558.8,2194.3 1559.4,2191.8 1560.0,2189.2 1560.6,2186.8 1561.2,2184.6 1561.7,2182.8 1562.2,2181.5 1562.7,2181.4 1563.0,2181.3 1563.4,2181.5 1563.7,2182.6 1564.0,2184.0 1564.3,2185.8 1564.6,2187.8 1564.8,2190.1 1565.1,2192.6 1565.3,2195.1 1565.6,2197.8 1565.8,2200.4 1566.0,2203.0 1566.3,2205.5 1566.5,2207.8 1566.7,2209.9 1566.9,2211.9 1567.1,2213.9 1567.3,2215.9 1567.5,2217.9 1567.7,2219.9 1567.9,2221.9 1568.1,2223.8 1568.2,2225.8 1568.4,2227.8 1568.6,2229.8 1568.7,2231.8 1568.9,2233.8 1569.1,2235.8 1569.2,2237.8 1569.4,2239.8 1569.6,2241.8 1569.7,2243.8 1569.9,2245.8 1570.1,2247.8 1570.2,2249.8 1570.4,2251.8 1570.5,2253.8 1570.7,2255.7 1570.9,2257.7 1571.1,2259.7 1571.2,2261.7 1571.4,2263.7 1571.6,2265.7 1571.8,2267.7 1572.0,2269.7 1572.1,2271.7 1572.3,2273.7 1572.5,2275.7 1572.7,2277.7 1572.9,2279.6 1573.1,2281.6 1573.2,2283.6 1573.4,2285.6 1573.6,2287.6 1573.8,2289.6 1574.0,2291.6 1574.1,2293.6 1574.3,2295.6 1574.5,2297.6 1574.7,2299.6 1574.8,2301.6 1575.0,2303.6 1575.2,2305.5 1575.3,2307.5 1575.5,2309.5 1575.7,2311.5 1575.8,2313.5 1576.0,2315.5 1576.1,2317.5 1576.2,2319.5 1576.4,2321.5 1576.5,2323.5 1576.7,2325.5 1576.8,2327.5 1576.9,2329.5 1577.0,2331.5 1577.2,2333.5 1577.3,2335.5 1577.4,2337.5 1577.6,2339.5 1577.7,2341.5 1577.9,2343.5 1578.0,2345.5 1578.1,2347.4 1578.3,2349.4 1578.5,2351.4 1578.6,2353.4 1578.8,2355.4 1579.0,2357.4 1579.2,2359.4 1579.4,2361.4 1579.6,2363.4 1579.8,2365.4 1580.0,2367.4 1580.2,2369.3 1580.4,2371.3 1580.6,2373.3 1580.9,2375.3 1581.1,2377.3 1581.3,2379.3 1581.6,2381.3 1581.9,2383.3 1582.1,2385.3 1582.4,2387.2 1582.7,2389.2 1582.9,2391.2 1583.2,2393.2 1583.5,2395.2 1583.8,2397.1 1584.1,2399.1 1584.5,2401.1 1584.8,2403.0 1585.1,2405.0 1585.4,2407.0 1585.8,2409.0 1586.1,2411.0 1586.5,2413.0 1586.8,2415.0 1587.2,2417.0 1587.6,2419.0 1588.0,2421.0 1588.5,2423.0 1588.9,2424.9 1589.4,2426.9 1590.0,2428.8 1590.5,2430.6 1591.1,2432.5 1591.7,2434.3 1592.4,2436.1 1593.3,2437.9 1594.2,2439.6 1595.3,2441.4 1596.4,2443.1 1597.7,2444.7 1599.0,2446.3 1600.3,2447.8 1601.7,2449.0 1603.1,2449.8 1604.7,2450.5 1606.3,2451.1 1608.1,2451.6 1609.9,2452.8 1611.7,2454.0 1613.6,2455.3 1615.5,2456.3 1617.4,2457.0 1619.2,2457.6 1621.1,2458.2 1623.0,2459.0 1624.9,2460.1 1626.8,2461.1 1628.8,2462.1 1630.8,2462.8 1632.7,2463.4 1634.7,2464.0 1636.7,2464.2 1638.7,2464.1 1640.7,2463.9 1642.7,2463.6 1644.6,2463.5 1646.6,2463.4 1648.6,2463.3 1650.6,2463.0 1652.6,2462.5 1654.6,2461.9 1656.6,2461.3 1658.6,2461.3 1660.6,2461.5 1662.6,2461.6 1664.5,2461.7 1666.4,2461.4 1668.3,2461.0 1670.2,2460.5 1672.1,2459.8 1674.0,2459.1 1675.8,2458.3 1677.7,2457.5 1679.5,2456.4 1681.4,2455.1 1683.3,2454.0 1685.1,2453.0 1687.0,2453.3 1688.9,2453.7 1690.9,2454.3 1692.8,2454.4 1694.8,2453.9 1696.8,2453.5 1698.8,2453.0 1700.8,2452.5 1702.8,2451.9 1704.9,2451.3 1706.9,2450.8 1708.9,2450.5 1710.9,2450.2 1712.9,2449.8 1714.8,2449.6 1716.7,2449.4 1718.7,2449.1 1720.8,2448.7 1722.8,2448.3 1724.9,2447.9 1726.9,2447.4 1728.9,2446.6 1730.8,2445.7 1732.6,2444.8 1734.3,2443.8 1735.8,2443.0 1737.2,2442.0 1738.5,2440.8 1739.7,2439.4 1740.8,2437.6 1741.9,2435.8 1742.9,2433.8 1743.8,2431.8 1744.6,2429.9 1745.4,2428.0 1746.0,2426.2 1746.6,2424.3 1747.2,2422.4 1747.8,2420.5 1748.3,2418.6 1748.8,2416.6 1749.3,2414.6 1749.7,2412.6 1750.1,2410.7 1750.5,2408.7 1750.9,2406.7 1751.2,2404.7 1751.6,2402.8 1751.9,2400.8 1752.2,2398.8 1752.6,2396.9 1752.9,2394.9 1753.1,2392.9 1753.4,2390.9 1753.7,2389.0 1754.0,2387.0 1754.2,2385.0 1754.5,2383.0 1754.7,2381.0 1754.9,2379.0 1755.2,2377.0 1755.4,2375.0 1755.6,2373.0 1755.8,2371.0 1756.0,2369.1 1756.2,2367.1 1756.4,2365.1 1756.6,2363.1 1756.8,2361.1 1757.0,2359.1 1757.2,2357.1 1757.3,2355.1 1757.5,2353.1 1757.7,2351.1 1757.8,2349.2 1758.0,2347.2 1758.1,2345.2 1758.3,2343.2 1758.4,2341.2 1758.6,2339.2 1758.7,2337.2 1758.9,2335.2 1759.0,2333.2 1759.2,2331.2 1759.3,2329.2 1759.5,2327.2 1759.6,2325.2 1759.8,2323.2 1759.9,2321.2 1760.1,2319.2 1760.2,2317.2 1760.4,2315.2 1760.5,2313.2 1760.7,2311.2 1760.8,2309.3 1761.0,2307.3 1761.1,2305.3 1761.3,2303.3 1761.4,2301.3 1761.6,2299.3 1761.7,2297.3 1761.9,2295.3 1762.0,2293.3 1762.2,2291.3 1762.3,2289.3 1762.5,2287.3 1762.6,2285.3 1762.8,2283.3 1762.9,2281.3 1763.1,2279.3 1763.2,2277.3 1763.4,2275.3 1763.5,2273.4 1763.7,2271.4 1763.8,2269.4 1764.0,2267.4 1764.2,2265.4 1764.3,2263.4 1764.5,2261.4 1764.7,2259.4 1764.8,2257.4 1765.0,2255.4 1765.2,2253.4 1765.4,2251.4 1765.5,2249.4 1765.7,2247.4 1765.9,2245.5 1766.1,2243.5 1766.3,2241.5 1766.4,2239.5 1766.6,2237.5 1766.8,2235.5 1767.0,2233.5 1767.2,2231.5 1767.4,2229.5 1767.6,2227.5 1767.9,2225.5 1768.1,2223.6 1768.3,2221.6 1768.6,2219.6 1768.8,2217.6 1769.1,2215.5 1769.4,2213.2 1769.7,2210.7 1770.1,2208.1 1770.4,2205.5 1770.8,2203.0 1771.2,2200.6 1771.5,2198.6 1771.9,2196.9 1772.3,2195.6 1772.6,2195.0 1772.9,2195.0 1773.3,2195.4 1773.6,2196.3 1773.9,2197.8 1774.3,2199.5 1774.6,2201.6 1774.9,2203.9 1775.2,2206.4 1775.5,2209.0 1775.8,2211.6 1776.1,2214.2 1776.4,2216.8 1776.7,2219.1 1776.9,2221.3 1777.2,2223.3 1777.4,2225.3 1777.7,2227.3 1777.9,2229.3 1778.1,2231.2 1778.4,2233.2 1778.6,2235.2 1778.8,2237.2 1779.0,2239.2 1779.2,2241.2 1779.5,2243.2 1779.7,2245.2 1779.9,2247.2 1780.0,2249.2 1780.2,2251.1 1780.4,2253.1 1780.6,2255.1 1780.8,2257.1 1781.0,2259.1 1781.2,2261.1 1781.3,2263.1 1781.5,2265.1 1781.7,2267.1 1781.8,2269.1 1782.0,2271.1 1782.1,2273.1 1782.3,2275.1 1782.4,2277.1 1782.5,2279.0 1782.7,2281.0 1782.8,2283.0 1782.9,2285.0 1783.1,2287.0 1783.2,2289.0 1783.3,2291.0 1783.5,2293.0 1783.6,2295.0 1783.7,2297.0 1783.8,2299.0 1784.0,2301.0 1784.1,2303.0 1784.2,2305.0 1784.4,2307.0 1784.5,2309.0 1784.6,2311.0 1784.8,2313.0 1784.9,2315.0 1785.1,2317.0 1785.2,2319.0 1785.4,2321.0 1785.5,2322.9 1785.7,2324.9 1785.9,2326.9 1786.0,2328.9 1786.2,2330.9 1786.4,2332.9 1786.6,2334.9 1786.7,2336.9 1786.9,2338.9 1787.1,2340.9 1787.3,2342.9 1787.5,2344.9 1787.7,2346.9 1787.9,2348.8 1788.1,2350.8 1788.3,2352.8 1788.5,2354.8 1788.7,2356.8 1788.9,2358.8 1789.1,2360.8 1789.3,2362.8 1789.5,2364.8 1789.7,2366.7 1789.9,2368.7 1790.2,2370.7 1790.4,2372.7 1790.6,2374.7 1790.8,2376.7 1791.0,2378.7 1791.2,2380.7 1791.4,2382.7 1791.6,2384.7 1791.8,2386.7 1792.1,2388.7 1792.3,2390.7 1792.5,2392.7 1792.8,2394.7 1793.0,2396.7 1793.3,2398.6 1793.6,2400.6 1793.9,2402.6 1794.2,2404.5 1794.5,2406.5 1794.9,2408.4 1795.3,2410.4 1795.7,2412.3 1796.2,2414.3 1796.7,2416.3 1797.2,2418.2 1797.8,2420.2 1798.4,2422.2 1799.0,2424.1 1799.7,2426.0 1800.4,2427.9 1801.2,2429.8 1802.0,2431.6 1802.8,2433.4 1803.6,2435.2 1804.5,2436.8 1805.5,2438.5 1806.6,2440.4 1807.8,2442.3 1809.1,2444.2 1810.5,2446.2 1811.9,2447.7 1813.4,2448.8 1814.9,2449.7 1816.4,2450.5 1818.0,2451.2 1819.6,2452.5 1821.3,2453.8 1823.1,2455.1 1824.9,2456.2 1826.7,2457.2 1828.6,2458.0 1830.5,2458.7 1832.4,2459.3 1834.4,2459.3 1836.4,2459.3 1838.4,2459.2 1840.5,2459.4 1842.5,2459.7 1844.4,2459.9 1846.4,2459.8 1848.5,2459.4 1850.5,2458.9 1852.5,2458.3 1854.5,2457.6 1856.5,2457.0 1858.4,2456.3 1860.2,2455.7 1861.9,2455.1 1863.6,2454.3 1865.3,2453.3 1867.0,2452.1 1868.5,2450.6 1870.0,2449.1 1871.4,2447.5 1872.7,2446.1 1873.8,2444.6 1874.9,2443.1 1875.9,2441.5 1876.8,2439.8 1877.7,2437.9 1878.6,2436.1 1879.5,2434.3 1880.5,2432.6 1881.5,2431.0 1882.5,2429.0 1883.5,2426.8 1884.5,2424.6 1885.6,2422.7 1886.7,2421.0 1888.0,2419.7 1889.5,2420.0 1891.5,2420.6 1893.7,2421.3 1895.7,2421.2 1897.3,2420.4 1898.8,2420.7 1900.2,2422.2 1901.5,2424.4 1902.7,2426.7 1903.9,2428.6 1905.2,2430.1 1906.5,2431.2 1907.8,2432.1 1909.3,2432.2 1910.8,2431.2 1912.4,2429.7 1913.9,2428.0 1915.3,2426.0 1916.5,2424.1 1917.4,2422.3 1918.2,2420.6 1918.9,2418.8 1919.6,2416.9 1920.2,2415.0 1920.8,2413.0 1921.3,2411.0 1921.8,2409.0 1922.3,2407.0 1922.7,2405.0 1923.1,2403.1 1923.4,2401.1 1923.7,2399.2 1924.1,2397.2 1924.4,2395.2 1924.7,2393.2 1924.9,2391.3 1925.2,2389.3 1925.4,2387.3 1925.7,2385.3 1925.9,2383.3 1926.2,2381.3 1926.4,2379.3 1926.6,2377.3 1926.8,2375.3 1927.0,2373.3 1927.3,2371.3 1927.5,2369.3 1927.7,2367.4 1927.9,2365.4 1928.2,2363.4 1928.4,2361.4 1928.6,2359.4 1928.8,2357.4 1929.0,2355.4 1929.2,2353.4 1929.4,2351.4 1929.6,2349.4 1929.7,2347.5 1929.9,2345.5 1930.1,2343.5 1930.3,2341.5 1930.5,2339.5 1930.7,2337.5 1930.9,2335.5 1931.1,2333.5 1931.3,2331.5 1931.5,2329.5 1931.7,2327.5 1931.9,2325.6 1932.1,2323.6 1932.3,2321.6 1932.5,2319.6 1932.7,2317.6 1932.9,2315.6 1933.1,2313.6 1933.4,2311.6 1933.6,2309.6 1933.8,2307.7 1934.0,2305.7 1934.2,2303.7 1934.4,2301.7 1934.7,2299.7 1934.9,2297.7 1935.1,2295.7 1935.4,2293.7 1935.6,2291.8 1935.9,2289.8 1936.2,2287.8 1936.4,2285.8 1936.7,2283.8 1937.0,2281.9 1937.3,2279.9 1937.7,2277.9 1938.0,2275.9 1938.4,2274.0 1938.8,2272.0 1939.1,2270.0 1939.5,2268.1 1940.0,2266.1 1940.4,2264.2 1940.8,2262.2 1941.3,2260.3 1941.8,2258.3 1942.3,2255.9 1942.9,2253.4 1943.4,2251.1 1944.0,2249.4 1944.6,2248.4 1945.1,2249.1 1945.7,2250.4 1946.2,2252.2 1946.8,2254.5 1947.3,2257.0 1947.8,2259.6 1948.2,2262.0 1948.6,2264.1 1949.0,2266.1 1949.3,2268.1 1949.6,2270.0 1949.9,2272.0 1950.2,2274.0 1950.5,2276.0 1950.7,2277.9 1951.0,2279.9 1951.2,2281.9 1951.5,2283.9 1951.7,2285.9 1951.9,2287.9 1952.2,2289.9 1952.4,2291.9 1952.6,2293.9 1952.9,2295.9 1953.1,2297.8 1953.4,2299.8 1953.7,2301.8 1953.9,2303.8 1954.2,2305.8 1954.4,2307.8 1954.7,2309.7 1954.9,2311.7 1955.2,2313.7 1955.4,2315.7 1955.7,2317.7 1955.9,2319.7 1956.2,2321.7 1956.5,2323.6 1956.7,2325.6 1957.0,2327.6 1957.3,2329.6 1957.6,2331.5 1957.9,2333.5 1958.2,2335.5 1958.6,2337.5 1958.9,2339.5 1959.2,2341.4 1959.5,2343.4 1959.9,2345.4 1960.3,2347.4 1960.7,2349.4 1961.1,2351.3 1961.5,2353.3 1962.0,2355.2 1962.5,2357.1 1963.0,2359.1 1963.6,2361.4 1964.3,2363.9 1965.1,2366.3 1965.9,2368.4 1966.7,2370.3 1967.6,2371.6 1968.6,2372.0 1969.6,2371.4 1970.8,2370.0 1972.1,2368.1 1973.5,2365.8 1974.9,2363.5 1976.3,2361.2 1977.6,2359.2 1978.9,2357.7 1980.1,2357.2 1981.3,2357.7 1982.4,2359.1 1983.5,2361.0 1984.6,2363.1 1985.5,2365.4 1986.4,2367.6 1987.1,2369.6 1987.7,2371.4 1988.3,2373.3 1988.8,2375.2 1989.3,2377.1 1989.7,2379.1 1990.1,2381.0 1990.5,2383.0 1990.9,2385.0 1991.3,2387.0 1991.7,2389.0 1992.1,2391.0 1992.5,2393.0 1992.9,2394.9 1993.3,2396.9 1993.8,2398.9 1994.3,2400.8 1994.8,2402.7 1995.2,2404.7 1995.7,2406.6 1996.2,2408.6 1996.7,2410.6 1997.2,2412.5 1997.7,2414.5 1998.3,2416.4 1998.8,2418.3 1999.4,2420.3 1999.9,2422.2 2000.5,2424.1 2001.2,2426.0 2001.8,2427.9 2002.5,2429.7 2003.2,2431.6 2003.9,2433.4 2004.7,2435.2 2005.6,2437.0 2006.5,2439.0 2007.5,2441.0 2008.5,2443.0 2009.5,2444.8 2010.6,2446.6 2011.8,2448.2 2013.0,2449.7 2014.2,2451.2 2015.6,2452.7 2017.0,2454.2 2018.5,2455.6 2020.0,2456.9 2021.6,2458.2 2023.3,2459.5 2024.9,2460.6 2026.6,2461.7 2028.3,2462.8 2030.1,2464.0 2031.9,2465.3 2033.8,2466.4 2035.7,2467.3 2037.6,2467.7 2039.5,2468.0 2041.5,2468.2 2043.4,2469.0 2045.4,2470.0 2047.4,2470.8 2049.3,2471.3 2051.3,2471.0 2053.2,2470.6 2055.2,2470.2 2057.3,2469.8 2059.3,2469.4 2061.4,2469.0 2063.5,2468.7 2065.5,2469.1 2067.6,2469.4 2069.6,2469.8 2071.6,2468.5 2073.6,2466.9 2075.5,2465.3 2077.3,2464.0 2079.1,2464.2 2080.9,2464.1 2082.6,2463.8 2084.2,2463.1 2085.9,2462.0 2087.4,2460.7 2089.0,2459.5 2090.5,2458.3 2092.0,2456.9 2093.4,2455.3 2094.9,2453.7 2096.2,2452.1" fill="none" stroke="#7c7caa" stroke-width="4.8" stroke-dasharray="70 60 40 90 110 50"/>
<polyline points="329.0,2405.9 330.8,2406.8 332.6,2407.7 334.4,2408.5 336.3,2408.9 338.1,2409.2 339.9,2409.4 341.8,2410.1 343.6,2411.4 345.5,2412.6 347.4,2413.8 349.3,2414.5 351.2,2414.9 353.1,2415.3 355.0,2415.5 356.9,2415.8 358.9,2416.0 360.8,2416.3 362.8,2416.4 364.8,2416.3 366.8,2416.2 368.8,2416.1 370.8,2416.3 372.8,2416.6 374.9,2416.9 376.9,2417.0 378.9,2416.9 380.9,2416.8 382.9,2416.8 385.0,2416.6 387.0,2416.4 389.0,2416.3 390.9,2416.6 392.9,2417.6 394.9,2418.5 396.9,2419.6 398.8,2419.9 400.8,2420.3 402.7,2420.7 404.7,2421.2 406.7,2421.9 408.6,2422.6 410.6,2423.4 412.5,2423.4 414.5,2423.4 416.4,2423.3 418.4,2423.3 420.4,2423.6 422.3,2423.8 424.3,2424.1 426.2,2424.4 428.2,2424.8 430.2,2425.2 432.1,2425.5 434.1,2425.7 436.0,2425.8 438.0,2425.9 439.9,2426.6 441.9,2427.9 443.8,2429.2 445.8,2430.5 447.8,2430.4 449.7,2430.1 451.7,2429.7 453.7,2429.6 455.6,2429.9 457.6,2430.1 459.6,2430.3 461.6,2430.7 463.5,2431.2 465.5,2431.7 467.5,2432.2 469.5,2433.0 471.5,2433.7 473.5,2434.4 475.6,2434.3 477.6,2434.0 479.6,2433.7 481.6,2433.4 483.6,2433.0 485.6,2432.7 487.6,2432.3 489.6,2432.4 491.6,2432.5 493.5,2432.7 495.5,2432.9 497.5,2433.3 499.4,2433.5 501.4,2433.7 503.4,2433.2 505.3,2432.4 507.3,2431.6 509.2,2430.7 511.1,2429.8 513.0,2429.0 515.0,2428.1 516.9,2427.5 518.8,2427.0 520.6,2426.3 522.5,2425.5 524.3,2424.9 526.2,2424.4 528.1,2424.0 529.9,2423.9 531.9,2424.4 534.0,2425.4 536.1,2426.5 537.8,2426.7 539.0,2425.3 540.1,2422.9 541.0,2420.6 541.8,2418.0 542.6,2415.4 543.4,2413.1 544.2,2410.9 545.0,2409.3 545.8,2410.3 546.5,2412.4 547.2,2414.2 547.9,2416.4 548.7,2418.9 549.5,2421.3 550.3,2423.6 551.3,2425.3 552.4,2426.4 553.7,2427.5 555.3,2428.6 557.1,2429.6 559.0,2430.3 561.0,2430.6 563.0,2430.7 565.0,2430.6 566.9,2431.2 568.8,2431.8 570.7,2432.4 572.7,2432.9 574.6,2432.9 576.6,2433.0 578.6,2433.0 580.6,2433.7 582.6,2434.5 584.7,2435.3 586.7,2435.6 588.8,2435.2 590.8,2434.8 592.8,2434.4 594.9,2433.9 596.9,2433.4 598.9,2432.9 600.9,2433.0 602.9,2433.8 604.9,2434.5 606.9,2435.3 608.9,2434.9 610.9,2434.5 612.9,2434.1 615.0,2433.6 617.0,2433.0 619.0,2432.4 621.0,2431.8 623.0,2432.0 625.0,2432.2 627.0,2432.5 628.9,2432.5 630.9,2432.3 632.9,2432.1 634.9,2431.9 636.9,2431.7 638.8,2431.3 640.8,2430.9 642.8,2430.7 644.8,2430.6 646.8,2430.5 648.8,2430.3 650.8,2429.1 652.7,2427.8 654.7,2426.5 656.6,2425.6 658.4,2425.6 660.2,2425.5 662.0,2425.4 663.8,2425.1 665.6,2424.6 667.4,2423.9 669.2,2423.1 670.9,2422.0 672.5,2420.6 674.1,2419.2 675.6,2417.8 677.0,2416.3 678.3,2414.9 679.4,2413.4 680.6,2411.8 681.6,2410.1 682.7,2408.3 683.7,2406.4 684.6,2404.5 685.6,2402.6 686.4,2400.7 687.3,2398.8 688.1,2396.9 688.9,2395.0 689.6,2393.1 690.3,2391.2 690.9,2389.3 691.6,2387.5 692.2,2385.6 692.8,2383.7 693.4,2381.8 694.0,2379.9 694.5,2377.9 695.1,2376.0 695.6,2374.0 696.1,2372.1 696.6,2370.1 697.0,2368.2 697.5,2366.2 697.9,2364.2 698.3,2362.3 698.7,2360.3 699.0,2358.3 699.3,2356.3 699.6,2354.4 699.9,2352.4 700.2,2350.5 700.4,2348.5 700.7,2346.5 700.9,2344.5 701.2,2342.5 701.4,2340.6 701.6,2338.6 701.8,2336.6 702.0,2334.6 702.2,2332.6 702.4,2330.6 702.6,2328.6 702.8,2326.6 703.0,2324.6 703.2,2322.6 703.3,2320.6 703.5,2318.6 703.7,2316.6 703.8,2314.6 704.0,2312.6 704.1,2310.6 704.3,2308.6 704.4,2306.6 704.6,2304.6 704.7,2302.6 704.9,2300.6 705.0,2298.6 705.1,2296.6 705.3,2294.6 705.4,2292.7 705.5,2290.7 705.7,2288.7 705.8,2286.7 705.9,2284.7 706.0,2282.7 706.2,2280.7 706.3,2278.7 706.4,2276.7 706.5,2274.7 706.6,2272.7 706.7,2270.7 706.9,2268.7 707.0,2266.7 707.1,2264.7 707.2,2262.7 707.3,2260.7 707.4,2258.7 707.5,2256.7 707.6,2254.7 707.7,2252.7 707.8,2250.7 707.9,2248.7 708.0,2246.7 708.1,2244.7 708.2,2242.7 708.3,2240.7 708.4,2238.7 708.5,2236.7 708.6,2234.7 708.6,2232.7 708.7,2230.7 708.8,2228.7 708.9,2226.7 709.0,2224.7 709.1,2222.8 709.2,2220.8 709.2,2218.8 709.3,2216.8 709.4,2214.8 709.5,2212.8 709.6,2210.8 709.6,2208.8 709.7,2206.8 709.8,2204.8 709.9,2202.8 710.0,2200.8 710.0,2198.8 710.1,2196.8 710.2,2194.8 710.3,2192.8 710.3,2190.8 710.4,2188.8 710.5,2186.8 710.5,2184.8 710.6,2182.8 710.7,2180.8 710.7,2178.8 710.8,2176.8 710.9,2174.8 710.9,2172.8 711.0,2170.8 711.1,2168.8 711.1,2166.8 711.2,2164.8 711.3,2162.8 711.3,2160.8 711.4,2158.8 711.4,2156.8 711.5,2154.8 711.6,2152.8 711.6,2150.8 711.7,2148.8 711.7,2146.8 711.8,2144.8 711.9,2142.8 711.9,2140.8 712.0,2138.8 712.1,2136.8 712.1,2134.8 712.2,2132.8 712.2,2130.8 712.3,2128.8 712.4,2126.8 712.4,2124.8 712.5,2122.8 712.6,2120.8 712.6,2118.8 712.7,2116.8 712.8,2114.8 712.8,2112.8 712.9,2110.8 713.0,2108.8 713.1,2106.8 713.1,2104.8 713.2,2102.8 713.3,2100.8 713.4,2098.8 713.4,2096.8 713.5,2094.8 713.6,2092.8 713.7,2090.8 713.8,2088.8 713.8,2086.8" fill="none" stroke="#7474a4" stroke-width="4.8"/>
<polyline points="329.0,2405.9 330.8,2406.8 332.6,2407.7 334.4,2408.5 336.3,2408.9 338.1,2409.2 339.9,2409.4 341.8,2410.1 343.6,2411.4 345.5,2412.6 347.4,2413.8 349.3,2414.5 351.2,2414.9 353.1,2415.3 355.0,2415.5 356.9,2415.8 358.9,2416.0 360.8,2416.3 362.8,2416.4 364.8,2416.3 366.8,2416.2 368.8,2416.1 370.8,2416.3 372.8,2416.6 374.9,2416.9 376.9,2417.0 378.9,2416.9 380.9,2416.8 382.9,2416.8 385.0,2416.6 387.0,2416.4 389.0,2416.3 390.9,2416.6 392.9,2417.6 394.9,2418.5 396.9,2419.6 398.8,2419.9 400.8,2420.3 402.7,2420.7 404.7,2421.2 406.7,2421.9 408.6,2422.6 410.6,2423.4 412.5,2423.4 414.5,2423.4 416.4,2423.3 418.4,2423.3 420.4,2423.6 422.3,2423.8 424.3,2424.1 426.2,2424.4 428.2,2424.8 430.2,2425.2 432.1,2425.5 434.1,2425.7 436.0,2425.8 438.0,2425.9 439.9,2426.6 441.9,2427.9 443.8,2429.2 445.8,2430.5 447.8,2430.4 449.7,2430.1 451.7,2429.7 453.7,2429.6 455.6,2429.9 457.6,2430.1 459.6,2430.3 461.6,2430.7 463.5,2431.2 465.5,2431.7 467.5,2432.2 469.5,2433.0 471.5,2433.7 473.5,2434.4 475.6,2434.3 477.6,2434.0 479.6,2433.7 481.6,2433.4 483.6,2433.0 485.6,2432.7 487.6,2432.3 489.6,2432.4 491.6,2432.5 493.5,2432.7 495.5,2432.9 497.5,2433.3 499.4,2433.5 501.4,2433.7 503.4,2433.2 505.3,2432.4 507.3,2431.6 509.2,2430.7 511.1,2429.8 513.0,2429.0 515.0,2428.1 516.9,2427.5 518.8,2427.0 520.6,2426.3 522.5,2425.5 524.3,2424.9 526.2,2424.4 528.1,2424.0 529.9,2423.9 531.9,2424.4 534.0,2425.4 536.1,2426.5 537.8,2426.7 539.0,2425.3 540.1,2422.9 541.0,2420.6 541.8,2418.0 542.6,2415.4 543.4,2413.1 544.2,2410.9 545.0,2409.3 545.8,2410.3 546.5,2412.4 547.2,2414.2 547.9,2416.4 548.7,2418.9 549.5,2421.3 550.3,2423.6 551.3,2425.3 552.4,2426.4 553.7,2427.5 555.3,2428.6 557.1,2429.6 559.0,2430.3 561.0,2430.6 563.0,2430.7 565.0,2430.6 566.9,2431.2 568.8,2431.8 570.7,2432.4 572.7,2432.9 574.6,2432.9 576.6,2433.0 578.6,2433.0 580.6,2433.7 582.6,2434.5 584.7,2435.3 586.7,2435.6 588.8,2435.2 590.8,2434.8 592.8,2434.4 594.9,2433.9 596.9,2433.4 598.9,2432.9 600.9,2433.0 602.9,2433.8 604.9,2434.5 606.9,2435.3 608.9,2434.9 610.9,2434.5 612.9,2434.1 615.0,2433.6 617.0,2433.0 619.0,2432.4 621.0,2431.8 623.0,2432.0 625.0,2432.2 627.0,2432.5 628.9,2432.5 630.9,2432.3 632.9,2432.1 634.9,2431.9 636.9,2431.7 638.8,2431.3 640.8,2430.9 642.8,2430.7 644.8,2430.6 646.8,2430.5 648.8,2430.3 650.8,2429.1 652.7,2427.8 654.7,2426.5 656.6,2425.6 658.4,2425.6 660.2,2425.5 662.0,2425.4 663.8,2425.1 665.6,2424.6 667.4,2423.9 669.2,2423.1 670.9,2422.0 672.5,2420.6 674.1,2419.2 675.6,2417.8 677.0,2416.3 678.3,2414.9 679.4,2413.4 680.6,2411.8 681.6,2410.1 682.7,2408.3 683.7,2406.4 684.6,2404.5 685.6,2402.6 686.4,2400.7 687.3,2398.8 688.1,2396.9 688.9,2395.0 689.6,2393.1 690.3,2391.2 690.9,2389.3 691.6,2387.5 692.2,2385.6 692.8,2383.7 693.4,2381.8 694.0,2379.9 694.5,2377.9 695.1,2376.0 695.6,2374.0 696.1,2372.1 696.6,2370.1 697.0,2368.2 697.5,2366.2 697.9,2364.2 698.3,2362.3 698.7,2360.3 699.0,2358.3 699.3,2356.3 699.6,2354.4 699.9,2352.4 700.2,2350.5 700.4,2348.5 700.7,2346.5 700.9,2344.5 701.2,2342.5 701.4,2340.6 701.6,2338.6 701.8,2336.6 702.0,2334.6 702.2,2332.6 702.4,2330.6 702.6,2328.6 702.8,2326.6 703.0,2324.6 703.2,2322.6 703.3,2320.6 703.5,2318.6 703.7,2316.6 703.8,2314.6 704.0,2312.6 704.1,2310.6 704.3,2308.6 704.4,2306.6 704.6,2304.6 704.7,2302.6 704.9,2300.6 705.0,2298.6 705.1,2296.6 705.3,2294.6 705.4,2292.7 705.5,2290.7 705.7,2288.7 705.8,2286.7 705.9,2284.7 706.0,2282.7 706.2,2280.7 706.3,2278.7 706.4,2276.7 706.5,2274.7 706.6,2272.7 706.7,2270.7 706.9,2268.7 707.0,2266.7 707.1,2264.7 707.2,2262.7 707.3,2260.7 707.4,2258.7 707.5,2256.7 707.6,2254.7 707.7,2252.7 707.8,2250.7 707.9,2248.7 708.0,2246.7 708.1,2244.7 708.2,2242.7 708.3,2240.7 708.4,2238.7 708.5,2236.7 708.6,2234.7 708.6,2232.7 708.7,2230.7 708.8,2228.7 708.9,2226.7 709.0,2224.7 709.1,2222.8 709.2,2220.8 709.2,2218.8 709.3,2216.8 709.4,2214.8 709.5,2212.8 709.6,2210.8 709.6,2208.8 709.7,2206.8 709.8,2204.8 709.9,2202.8 710.0,2200.8 710.0,2198.8 710.1,2196.8 710.2,2194.8 710.3,2192.8 710.3,2190.8 710.4,2188.8 710.5,2186.8 710.5,2184.8 710.6,2182.8 710.7,2180.8 710.7,2178.8 710.8,2176.8 710.9,2174.8 710.9,2172.8 711.0,2170.8 711.1,2168.8 711.1,2166.8 711.2,2164.8 711.3,2162.8 711.3,2160.8 711.4,2158.8 711.4,2156.8 711.5,2154.8 711.6,2152.8 711.6,2150.8 711.7,2148.8 711.7,2146.8 711.8,2144.8 711.9,2142.8 711.9,2140.8 712.0,2138.8 712.1,2136.8 712.1,2134.8 712.2,2132.8 712.2,2130.8 712.3,2128.8 712.4,2126.8 712.4,2124.8 712.5,2122.8 712.6,2120.8 712.6,2118.8 712.7,2116.8 712.8,2114.8 712.8,2112.8 712.9,2110.8 713.0,2108.8 713.1,2106.8 713.1,2104.8 713.2,2102.8 713.3,2100.8 713.4,2098.8 713.4,2096.8 713.5,2094.8 713.6,2092.8 713.7,2090.8 713.8,2088.8 713.8,2086.8" fill="none" stroke="#4b4b80" stroke-width="4.8" stroke-dasharray="30 34 22 40"/>
<polyline points="735.0,2085.5 735.0,2087.5 735.1,2089.5 735.1,2091.5 735.2,2093.5 735.3,2095.5 735.3,2097.5 735.4,2099.5 735.4,2101.5 735.5,2103.5 735.6,2105.5 735.7,2107.5 735.7,2109.5 735.8,2111.5 735.9,2113.5 735.9,2115.5 736.0,2117.5 736.1,2119.5 736.2,2121.5 736.3,2123.5 736.3,2125.5 736.4,2127.5 736.5,2129.5 736.6,2131.5 736.7,2133.5 736.8,2135.5 736.9,2137.5 737.0,2139.5 737.1,2141.5 737.2,2143.5 737.3,2145.5 737.4,2147.5 737.5,2149.5 737.6,2151.5 737.7,2153.5 737.8,2155.5 737.9,2157.5 738.0,2159.5 738.1,2161.5 738.2,2163.5 738.4,2165.5 738.5,2167.5 738.6,2169.5 738.7,2171.5 738.8,2173.4 738.9,2175.4 739.0,2177.4 739.1,2179.4 739.2,2181.4 739.3,2183.4 739.5,2185.4 739.6,2187.4 739.7,2189.4 739.8,2191.4 739.9,2193.4 740.0,2195.4 740.1,2197.4 740.2,2199.4 740.3,2201.4 740.4,2203.4 740.5,2205.4 740.6,2207.4 740.7,2209.4 740.8,2211.4 740.9,2213.4 741.0,2215.4 741.1,2217.4 741.2,2219.4 741.3,2221.4 741.4,2223.4 741.5,2225.4 741.6,2227.4 741.7,2229.4 741.8,2231.4 741.9,2233.4 742.0,2235.4 742.1,2237.4 742.2,2239.4 742.3,2241.4 742.4,2243.4 742.5,2245.4 742.6,2247.4 742.7,2249.4 742.8,2251.4 742.9,2253.3 743.0,2255.3 743.1,2257.3 743.2,2259.3 743.3,2261.3 743.4,2263.3 743.5,2265.3 743.6,2267.3 743.7,2269.3 743.8,2271.3 743.9,2273.3 744.0,2275.3 744.1,2277.3 744.2,2279.3 744.3,2281.3 744.4,2283.3 744.6,2285.3 744.7,2287.3 744.8,2289.3 744.9,2291.3 745.0,2293.3 745.2,2295.3 745.3,2297.3 745.4,2299.3 745.5,2301.3 745.6,2303.3 745.7,2305.3 745.9,2307.3 746.0,2309.3 746.1,2311.3 746.2,2313.3 746.3,2315.3 746.4,2317.3 746.6,2319.3 746.7,2321.3 746.8,2323.3 747.0,2325.3 747.1,2327.3 747.2,2329.3 747.4,2331.3 747.6,2333.3 747.7,2335.3 747.9,2337.3 748.1,2339.3 748.3,2341.3 748.4,2343.2 748.7,2345.2 748.9,2347.2 749.1,2349.2 749.3,2351.1 749.6,2353.1 749.8,2355.1 750.1,2357.2 750.5,2359.2 750.8,2361.3 751.2,2363.3 751.6,2365.4 752.0,2367.5 752.5,2369.5 753.0,2371.5 753.5,2373.5 754.0,2375.4 754.6,2377.3 755.2,2379.2 755.9,2381.0 756.6,2382.8 757.3,2384.4 758.0,2386.1 758.9,2388.0 760.1,2390.1 761.4,2392.2 762.9,2393.9 764.5,2395.2 766.2,2396.3 767.9,2397.0 769.6,2398.1 771.2,2399.0 772.7,2399.5 774.3,2399.4 775.9,2398.8 777.7,2397.7 779.4,2396.3 781.1,2394.7 782.7,2392.9 784.2,2390.9 785.4,2389.1 786.4,2387.4 787.1,2385.8 787.6,2384.2 788.1,2382.5 788.6,2380.8 789.0,2379.1 789.4,2377.3 789.8,2375.5 790.2,2373.6 790.6,2371.7 791.0,2369.8 791.3,2367.8 791.6,2365.9 791.9,2363.9 792.2,2361.8 792.5,2359.8 792.8,2357.8 793.0,2355.7 793.3,2353.6 793.5,2351.5 793.7,2349.4 793.9,2347.3 794.1,2345.2 794.3,2343.1 794.5,2340.9 794.7,2338.8 794.8,2336.7 795.0,2334.6 795.2,2332.5 795.3,2330.5 795.5,2328.4 795.7,2326.4 795.8,2324.3 796.0,2322.3 796.1,2320.3 796.3,2318.3 796.4,2316.4 796.6,2314.4 796.7,2312.4 796.9,2310.4 797.0,2308.4 797.1,2306.4 797.3,2304.4 797.4,2302.4 797.5,2300.4 797.7,2298.4 797.8,2296.4 797.9,2294.4 798.0,2292.4 798.1,2290.4 798.3,2288.5 798.4,2286.5 798.5,2284.5 798.6,2282.5 798.7,2280.5 798.8,2278.5 798.9,2276.5 799.0,2274.5 799.1,2272.5 799.2,2270.5 799.3,2268.5 799.4,2266.5 799.5,2264.5 799.6,2262.5 799.7,2260.5 799.8,2258.5 799.9,2256.5 800.0,2254.5 800.1,2252.5 800.1,2250.5 800.2,2248.5 800.3,2246.5 800.4,2244.5 800.5,2242.5 800.6,2240.5 800.7,2238.5 800.7,2236.5 800.8,2234.5 800.9,2232.5 801.0,2230.5 801.1,2228.5 801.1,2226.5 801.2,2224.5 801.3,2222.5 801.4,2220.5 801.5,2218.5 801.5,2216.5 801.6,2214.5 801.7,2212.5 801.8,2210.5 801.9,2208.5 801.9,2206.5 802.0,2204.5 802.1,2202.5 802.2,2200.5 802.3,2198.5 802.3,2196.5 802.4,2194.5 802.5,2192.5 802.6,2190.5 802.6,2188.5 802.7,2186.5 802.8,2184.5 802.8,2182.5 802.9,2180.5 803.0,2178.5 803.0,2176.5 803.1,2174.5 803.2,2172.5 803.2,2170.5 803.3,2168.5 803.4,2166.5 803.4,2164.5 803.5,2162.5 803.6,2160.5 803.6,2158.5 803.7,2156.5 803.8,2154.5 803.8,2152.5 803.9,2150.5 804.0,2148.5 804.0,2146.5 804.1,2144.5 804.1,2142.5 804.2,2140.5 804.3,2138.5 804.3,2136.5 804.4,2134.5 804.5,2132.5 804.5,2130.5 804.6,2128.5 804.7,2126.5 804.7,2124.5 804.8,2122.5 804.9,2120.5 804.9,2118.5 805.0,2116.5 805.1,2114.5 805.2,2112.5 805.2,2110.5 805.3,2108.5 805.4,2106.5 805.4,2104.5 805.5,2102.5 805.6,2100.5 805.6,2098.5 805.7,2096.5 805.8,2094.5 805.9,2092.5 805.9,2090.5 806.0,2088.5 806.1,2086.5" fill="none" stroke="#7474a4" stroke-width="4.8"/>
<polyline points="735.0,2085.5 735.0,2087.5 735.1,2089.5 735.1,2091.5 735.2,2093.5 735.3,2095.5 735.3,2097.5 735.4,2099.5 735.4,2101.5 735.5,2103.5 735.6,2105.5 735.7,2107.5 735.7,2109.5 735.8,2111.5 735.9,2113.5 735.9,2115.5 736.0,2117.5 736.1,2119.5 736.2,2121.5 736.3,2123.5 736.3,2125.5 736.4,2127.5 736.5,2129.5 736.6,2131.5 736.7,2133.5 736.8,2135.5 736.9,2137.5 737.0,2139.5 737.1,2141.5 737.2,2143.5 737.3,2145.5 737.4,2147.5 737.5,2149.5 737.6,2151.5 737.7,2153.5 737.8,2155.5 737.9,2157.5 738.0,2159.5 738.1,2161.5 738.2,2163.5 738.4,2165.5 738.5,2167.5 738.6,2169.5 738.7,2171.5 738.8,2173.4 738.9,2175.4 739.0,2177.4 739.1,2179.4 739.2,2181.4 739.3,2183.4 739.5,2185.4 739.6,2187.4 739.7,2189.4 739.8,2191.4 739.9,2193.4 740.0,2195.4 740.1,2197.4 740.2,2199.4 740.3,2201.4 740.4,2203.4 740.5,2205.4 740.6,2207.4 740.7,2209.4 740.8,2211.4 740.9,2213.4 741.0,2215.4 741.1,2217.4 741.2,2219.4 741.3,2221.4 741.4,2223.4 741.5,2225.4 741.6,2227.4 741.7,2229.4 741.8,2231.4 741.9,2233.4 742.0,2235.4 742.1,2237.4 742.2,2239.4 742.3,2241.4 742.4,2243.4 742.5,2245.4 742.6,2247.4 742.7,2249.4 742.8,2251.4 742.9,2253.3 743.0,2255.3 743.1,2257.3 743.2,2259.3 743.3,2261.3 743.4,2263.3 743.5,2265.3 743.6,2267.3 743.7,2269.3 743.8,2271.3 743.9,2273.3 744.0,2275.3 744.1,2277.3 744.2,2279.3 744.3,2281.3 744.4,2283.3 744.6,2285.3 744.7,2287.3 744.8,2289.3 744.9,2291.3 745.0,2293.3 745.2,2295.3 745.3,2297.3 745.4,2299.3 745.5,2301.3 745.6,2303.3 745.7,2305.3 745.9,2307.3 746.0,2309.3 746.1,2311.3 746.2,2313.3 746.3,2315.3 746.4,2317.3 746.6,2319.3 746.7,2321.3 746.8,2323.3 747.0,2325.3 747.1,2327.3 747.2,2329.3 747.4,2331.3 747.6,2333.3 747.7,2335.3 747.9,2337.3 748.1,2339.3 748.3,2341.3 748.4,2343.2 748.7,2345.2 748.9,2347.2 749.1,2349.2 749.3,2351.1 749.6,2353.1 749.8,2355.1 750.1,2357.2 750.5,2359.2 750.8,2361.3 751.2,2363.3 751.6,2365.4 752.0,2367.5 752.5,2369.5 753.0,2371.5 753.5,2373.5 754.0,2375.4 754.6,2377.3 755.2,2379.2 755.9,2381.0 756.6,2382.8 757.3,2384.4 758.0,2386.1 758.9,2388.0 760.1,2390.1 761.4,2392.2 762.9,2393.9 764.5,2395.2 766.2,2396.3 767.9,2397.0 769.6,2398.1 771.2,2399.0 772.7,2399.5 774.3,2399.4 775.9,2398.8 777.7,2397.7 779.4,2396.3 781.1,2394.7 782.7,2392.9 784.2,2390.9 785.4,2389.1 786.4,2387.4 787.1,2385.8 787.6,2384.2 788.1,2382.5 788.6,2380.8 789.0,2379.1 789.4,2377.3 789.8,2375.5 790.2,2373.6 790.6,2371.7 791.0,2369.8 791.3,2367.8 791.6,2365.9 791.9,2363.9 792.2,2361.8 792.5,2359.8 792.8,2357.8 793.0,2355.7 793.3,2353.6 793.5,2351.5 793.7,2349.4 793.9,2347.3 794.1,2345.2 794.3,2343.1 794.5,2340.9 794.7,2338.8 794.8,2336.7 795.0,2334.6 795.2,2332.5 795.3,2330.5 795.5,2328.4 795.7,2326.4 795.8,2324.3 796.0,2322.3 796.1,2320.3 796.3,2318.3 796.4,2316.4 796.6,2314.4 796.7,2312.4 796.9,2310.4 797.0,2308.4 797.1,2306.4 797.3,2304.4 797.4,2302.4 797.5,2300.4 797.7,2298.4 797.8,2296.4 797.9,2294.4 798.0,2292.4 798.1,2290.4 798.3,2288.5 798.4,2286.5 798.5,2284.5 798.6,2282.5 798.7,2280.5 798.8,2278.5 798.9,2276.5 799.0,2274.5 799.1,2272.5 799.2,2270.5 799.3,2268.5 799.4,2266.5 799.5,2264.5 799.6,2262.5 799.7,2260.5 799.8,2258.5 799.9,2256.5 800.0,2254.5 800.1,2252.5 800.1,2250.5 800.2,2248.5 800.3,2246.5 800.4,2244.5 800.5,2242.5 800.6,2240.5 800.7,2238.5 800.7,2236.5 800.8,2234.5 800.9,2232.5 801.0,2230.5 801.1,2228.5 801.1,2226.5 801.2,2224.5 801.3,2222.5 801.4,2220.5 801.5,2218.5 801.5,2216.5 801.6,2214.5 801.7,2212.5 801.8,2210.5 801.9,2208.5 801.9,2206.5 802.0,2204.5 802.1,2202.5 802.2,2200.5 802.3,2198.5 802.3,2196.5 802.4,2194.5 802.5,2192.5 802.6,2190.5 802.6,2188.5 802.7,2186.5 802.8,2184.5 802.8,2182.5 802.9,2180.5 803.0,2178.5 803.0,2176.5 803.1,2174.5 803.2,2172.5 803.2,2170.5 803.3,2168.5 803.4,2166.5 803.4,2164.5 803.5,2162.5 803.6,2160.5 803.6,2158.5 803.7,2156.5 803.8,2154.5 803.8,2152.5 803.9,2150.5 804.0,2148.5 804.0,2146.5 804.1,2144.5 804.1,2142.5 804.2,2140.5 804.3,2138.5 804.3,2136.5 804.4,2134.5 804.5,2132.5 804.5,2130.5 804.6,2128.5 804.7,2126.5 804.7,2124.5 804.8,2122.5 804.9,2120.5 804.9,2118.5 805.0,2116.5 805.1,2114.5 805.2,2112.5 805.2,2110.5 805.3,2108.5 805.4,2106.5 805.4,2104.5 805.5,2102.5 805.6,2100.5 805.6,2098.5 805.7,2096.5 805.8,2094.5 805.9,2092.5 805.9,2090.5 806.0,2088.5 806.1,2086.5" fill="none" stroke="#4b4b80" stroke-width="4.8" stroke-dasharray="30 34 22 40"/>
<polyline points="820.9,2085.0 820.9,2087.0 820.9,2089.0 821.0,2091.0 821.0,2093.0 821.0,2095.0 821.1,2097.0 821.1,2099.0 821.1,2101.0 821.2,2103.0 821.2,2105.0 821.2,2107.0 821.3,2109.0 821.3,2111.0 821.4,2113.0 821.4,2115.0 821.4,2117.0 821.5,2119.0 821.5,2121.0 821.6,2123.0 821.6,2125.0 821.6,2127.0 821.7,2129.0 821.7,2131.0 821.8,2133.0 821.8,2135.0 821.9,2137.0 821.9,2139.0 822.0,2141.0 822.0,2143.0 822.0,2145.0 822.1,2147.0 822.1,2149.0 822.2,2151.0 822.2,2153.0 822.3,2155.0 822.3,2157.0 822.4,2159.0 822.4,2161.0 822.5,2163.0 822.5,2165.0 822.6,2167.0 822.6,2169.0 822.7,2171.0 822.7,2173.0 822.8,2175.0 822.9,2177.0 822.9,2179.0 823.0,2181.0 823.0,2183.0 823.1,2185.0 823.2,2187.0 823.2,2189.0 823.3,2191.0 823.3,2193.0 823.4,2195.0 823.5,2197.0 823.5,2199.0 823.6,2201.0 823.7,2203.0 823.7,2205.0 823.8,2207.0 823.9,2209.0 824.0,2211.0 824.0,2213.0 824.1,2215.0 824.2,2217.0 824.3,2219.0 824.3,2221.0 824.4,2223.0 824.5,2225.0 824.6,2227.0 824.7,2229.0 824.8,2231.0 824.9,2233.0 825.0,2235.0 825.1,2237.0 825.2,2239.0 825.3,2241.0 825.4,2243.0 825.5,2245.0 825.6,2247.0 825.7,2249.0 825.8,2251.0 825.9,2253.0 826.0,2255.0 826.2,2257.0 826.3,2259.0 826.4,2261.0 826.5,2263.0 826.7,2264.9 826.8,2266.9 826.9,2268.9 827.1,2270.9 827.2,2272.9 827.4,2274.9 827.5,2276.9 827.7,2278.9 827.8,2280.9 828.0,2282.9 828.2,2284.9 828.3,2286.9 828.5,2288.9 828.7,2290.9 828.9,2292.9 829.1,2294.9 829.4,2296.9 829.6,2298.9 829.8,2300.9 830.1,2302.9 830.3,2304.9 830.6,2306.8 830.9,2308.8 831.2,2310.8 831.5,2312.7 831.8,2314.7 832.1,2316.7 832.5,2318.8 833.0,2321.2 833.5,2323.6 834.0,2326.2 834.6,2328.7 835.3,2331.2 835.9,2333.6 836.6,2335.7 837.2,2337.6 837.9,2339.2 838.5,2340.6 839.1,2341.7 839.7,2342.1 840.3,2341.6 840.8,2340.4 841.4,2339.0 842.0,2337.3 842.6,2335.2 843.1,2332.9 843.7,2330.4 844.2,2327.9 844.7,2325.3 845.2,2322.8 845.6,2320.4 845.9,2318.3 846.3,2316.3 846.6,2314.4 846.8,2312.4 847.1,2310.4 847.4,2308.4 847.6,2306.4 847.8,2304.4 848.0,2302.5 848.3,2300.5 848.5,2298.5 848.7,2296.5 848.9,2294.5 849.1,2292.5 849.2,2290.5 849.4,2288.5 849.6,2286.5 849.8,2284.5 850.0,2282.5 850.2,2280.5 850.4,2278.6 850.6,2276.6 850.8,2274.6 851.0,2272.6 851.1,2270.6 851.3,2268.6 851.5,2266.6 851.7,2264.6 851.8,2262.6 852.0,2260.6 852.2,2258.6 852.3,2256.6 852.5,2254.6 852.7,2252.6 852.8,2250.7 853.0,2248.7 853.1,2246.7 853.3,2244.7 853.4,2242.7 853.6,2240.7 853.7,2238.7 853.8,2236.7 854.0,2234.7 854.1,2232.7 854.2,2230.7 854.3,2228.7 854.4,2226.7 854.6,2224.7 854.7,2222.7 854.8,2220.7 854.9,2218.7 855.0,2216.7 855.1,2214.7 855.2,2212.7 855.3,2210.7 855.4,2208.7 855.5,2206.7 855.6,2204.7 855.6,2202.7 855.7,2200.7 855.8,2198.8 855.9,2196.8 856.0,2194.8 856.1,2192.8 856.1,2190.8 856.2,2188.8 856.3,2186.8 856.4,2184.8 856.5,2182.8 856.5,2180.8 856.6,2178.8 856.7,2176.8 856.7,2174.8 856.8,2172.8 856.9,2170.8 857.0,2168.8 857.0,2166.8 857.1,2164.8 857.2,2162.8 857.2,2160.8 857.3,2158.8 857.4,2156.8 857.4,2154.8 857.5,2152.8 857.6,2150.8 857.6,2148.8 857.7,2146.8 857.8,2144.8 857.9,2142.8 857.9,2140.8 858.0,2138.8 858.1,2136.8 858.2,2134.8 858.2,2132.8 858.3,2130.8 858.4,2128.8 858.5,2126.8 858.6,2124.8 858.6,2122.8 858.7,2120.8 858.8,2118.8 858.9,2116.8 859.0,2114.8 859.1,2112.8 859.2,2110.8 859.3,2108.8 859.4,2106.8 859.5,2104.8 859.6,2102.8 859.7,2100.8 859.8,2098.8 859.9,2096.8 860.0,2094.8 860.1,2092.8 860.2,2090.8 860.4,2088.8 860.5,2086.8" fill="none" stroke="#7474a4" stroke-width="4.8"/>
<polyline points="820.9,2085.0 820.9,2087.0 820.9,2089.0 821.0,2091.0 821.0,2093.0 821.0,2095.0 821.1,2097.0 821.1,2099.0 821.1,2101.0 821.2,2103.0 821.2,2105.0 821.2,2107.0 821.3,2109.0 821.3,2111.0 821.4,2113.0 821.4,2115.0 821.4,2117.0 821.5,2119.0 821.5,2121.0 821.6,2123.0 821.6,2125.0 821.6,2127.0 821.7,2129.0 821.7,2131.0 821.8,2133.0 821.8,2135.0 821.9,2137.0 821.9,2139.0 822.0,2141.0 822.0,2143.0 822.0,2145.0 822.1,2147.0 822.1,2149.0 822.2,2151.0 822.2,2153.0 822.3,2155.0 822.3,2157.0 822.4,2159.0 822.4,2161.0 822.5,2163.0 822.5,2165.0 822.6,2167.0 822.6,2169.0 822.7,2171.0 822.7,2173.0 822.8,2175.0 822.9,2177.0 822.9,2179.0 823.0,2181.0 823.0,2183.0 823.1,2185.0 823.2,2187.0 823.2,2189.0 823.3,2191.0 823.3,2193.0 823.4,2195.0 823.5,2197.0 823.5,2199.0 823.6,2201.0 823.7,2203.0 823.7,2205.0 823.8,2207.0 823.9,2209.0 824.0,2211.0 824.0,2213.0 824.1,2215.0 824.2,2217.0 824.3,2219.0 824.3,2221.0 824.4,2223.0 824.5,2225.0 824.6,2227.0 824.7,2229.0 824.8,2231.0 824.9,2233.0 825.0,2235.0 825.1,2237.0 825.2,2239.0 825.3,2241.0 825.4,2243.0 825.5,2245.0 825.6,2247.0 825.7,2249.0 825.8,2251.0 825.9,2253.0 826.0,2255.0 826.2,2257.0 826.3,2259.0 826.4,2261.0 826.5,2263.0 826.7,2264.9 826.8,2266.9 826.9,2268.9 827.1,2270.9 827.2,2272.9 827.4,2274.9 827.5,2276.9 827.7,2278.9 827.8,2280.9 828.0,2282.9 828.2,2284.9 828.3,2286.9 828.5,2288.9 828.7,2290.9 828.9,2292.9 829.1,2294.9 829.4,2296.9 829.6,2298.9 829.8,2300.9 830.1,2302.9 830.3,2304.9 830.6,2306.8 830.9,2308.8 831.2,2310.8 831.5,2312.7 831.8,2314.7 832.1,2316.7 832.5,2318.8 833.0,2321.2 833.5,2323.6 834.0,2326.2 834.6,2328.7 835.3,2331.2 835.9,2333.6 836.6,2335.7 837.2,2337.6 837.9,2339.2 838.5,2340.6 839.1,2341.7 839.7,2342.1 840.3,2341.6 840.8,2340.4 841.4,2339.0 842.0,2337.3 842.6,2335.2 843.1,2332.9 843.7,2330.4 844.2,2327.9 844.7,2325.3 845.2,2322.8 845.6,2320.4 845.9,2318.3 846.3,2316.3 846.6,2314.4 846.8,2312.4 847.1,2310.4 847.4,2308.4 847.6,2306.4 847.8,2304.4 848.0,2302.5 848.3,2300.5 848.5,2298.5 848.7,2296.5 848.9,2294.5 849.1,2292.5 849.2,2290.5 849.4,2288.5 849.6,2286.5 849.8,2284.5 850.0,2282.5 850.2,2280.5 850.4,2278.6 850.6,2276.6 850.8,2274.6 851.0,2272.6 851.1,2270.6 851.3,2268.6 851.5,2266.6 851.7,2264.6 851.8,2262.6 852.0,2260.6 852.2,2258.6 852.3,2256.6 852.5,2254.6 852.7,2252.6 852.8,2250.7 853.0,2248.7 853.1,2246.7 853.3,2244.7 853.4,2242.7 853.6,2240.7 853.7,2238.7 853.8,2236.7 854.0,2234.7 854.1,2232.7 854.2,2230.7 854.3,2228.7 854.4,2226.7 854.6,2224.7 854.7,2222.7 854.8,2220.7 854.9,2218.7 855.0,2216.7 855.1,2214.7 855.2,2212.7 855.3,2210.7 855.4,2208.7 855.5,2206.7 855.6,2204.7 855.6,2202.7 855.7,2200.7 855.8,2198.8 855.9,2196.8 856.0,2194.8 856.1,2192.8 856.1,2190.8 856.2,2188.8 856.3,2186.8 856.4,2184.8 856.5,2182.8 856.5,2180.8 856.6,2178.8 856.7,2176.8 856.7,2174.8 856.8,2172.8 856.9,2170.8 857.0,2168.8 857.0,2166.8 857.1,2164.8 857.2,2162.8 857.2,2160.8 857.3,2158.8 857.4,2156.8 857.4,2154.8 857.5,2152.8 857.6,2150.8 857.6,2148.8 857.7,2146.8 857.8,2144.8 857.9,2142.8 857.9,2140.8 858.0,2138.8 858.1,2136.8 858.2,2134.8 858.2,2132.8 858.3,2130.8 858.4,2128.8 858.5,2126.8 858.6,2124.8 858.6,2122.8 858.7,2120.8 858.8,2118.8 858.9,2116.8 859.0,2114.8 859.1,2112.8 859.2,2110.8 859.3,2108.8 859.4,2106.8 859.5,2104.8 859.6,2102.8 859.7,2100.8 859.8,2098.8 859.9,2096.8 860.0,2094.8 860.1,2092.8 860.2,2090.8 860.4,2088.8 860.5,2086.8" fill="none" stroke="#4b4b80" stroke-width="4.8" stroke-dasharray="30 34 22 40"/>
<polyline points="874.2,1568.9 874.4,1569.5 874.7,1568.9 875.1,1569.9 875.6,1571.8" fill="none" stroke="#7474a4" stroke-width="4.8"/>
<polyline points="874.2,1568.9 874.4,1569.5 874.7,1568.9 875.1,1569.9 875.6,1571.8" fill="none" stroke="#4b4b80" stroke-width="4.8" stroke-dasharray="30 34 22 40"/>
<polyline points="890.6,2085.3 890.7,2087.3 890.8,2089.3 890.9,2091.2 891.0,2093.2 891.1,2095.2 891.2,2097.2 891.3,2099.2 891.4,2101.2 891.5,2103.2 891.6,2105.2 891.6,2107.2 891.7,2109.2 891.8,2111.2 891.9,2113.2 892.0,2115.2 892.0,2117.2 892.1,2119.2 892.2,2121.2 892.2,2123.2 892.3,2125.2 892.4,2127.2 892.4,2129.2 892.5,2131.2 892.5,2133.2 892.6,2135.2 892.6,2137.2 892.7,2139.2 892.7,2141.2 892.7,2143.2 892.8,2145.2 892.8,2147.2 892.9,2149.2 892.9,2151.2 892.9,2153.2 893.0,2155.2 893.0,2157.2 893.0,2159.2 893.1,2161.2 893.1,2163.2 893.1,2165.2 893.1,2167.2 893.2,2169.2 893.2,2171.2 893.2,2173.2 893.3,2175.2 893.3,2177.2 893.3,2179.2 893.4,2181.2 893.4,2183.2 893.4,2185.2 893.5,2187.2 893.5,2189.2 893.6,2191.2 893.6,2193.2 893.7,2195.2 893.7,2197.2 893.8,2199.2 893.8,2201.2 893.9,2203.2 893.9,2205.2 894.0,2207.2 894.0,2209.2 894.1,2211.2 894.2,2213.2 894.2,2215.2 894.3,2217.2 894.4,2219.2 894.5,2221.2 894.5,2223.2 894.6,2225.2 894.7,2227.2 894.8,2229.2 894.9,2231.2 895.0,2233.2 895.1,2235.2 895.1,2237.2 895.2,2239.2 895.3,2241.2 895.4,2243.2 895.5,2245.2 895.6,2247.2 895.8,2249.2 895.9,2251.2 896.0,2253.2 896.1,2255.2 896.2,2257.2 896.3,2259.2 896.4,2261.2 896.6,2263.2 896.7,2265.1 896.8,2267.1 896.9,2269.1 897.1,2271.1 897.2,2273.1 897.4,2275.1 897.5,2277.1 897.7,2279.1 897.9,2281.1 898.1,2283.1 898.3,2285.1 898.5,2287.1 898.7,2289.0 898.9,2291.0 899.1,2293.0 899.4,2295.0 899.6,2297.0 899.8,2299.0 900.1,2301.0 900.3,2303.0 900.5,2305.0 900.7,2306.9 900.9,2308.9 901.2,2310.9 901.4,2312.9 901.6,2314.9 901.8,2316.9 902.0,2318.9 902.2,2320.9 902.4,2322.9 902.5,2324.9 902.7,2326.9 902.9,2328.9 903.0,2330.9 903.2,2332.9 903.4,2334.9 903.5,2336.9 903.7,2338.9 903.9,2340.9 904.1,2342.8 904.3,2344.8 904.5,2346.8 904.7,2348.8 904.9,2350.8 905.1,2352.8 905.3,2354.8 905.6,2356.7 905.8,2358.7 906.1,2360.7 906.4,2362.7 906.7,2364.6 907.1,2366.6 907.5,2368.5 907.9,2370.5 908.3,2372.5 908.8,2374.4 909.3,2376.4 909.8,2378.3 910.3,2380.3 910.9,2382.2 911.5,2384.1 912.1,2386.0 912.7,2387.9 913.3,2389.8 913.9,2391.7 914.5,2393.6 915.2,2395.5 916.0,2397.4 916.7,2399.3 917.5,2401.2 918.3,2403.1 919.1,2404.9 920.0,2406.8 920.9,2408.6 921.8,2410.3 922.8,2412.0 923.8,2413.7 924.8,2415.2 925.9,2416.7 927.0,2418.2 928.2,2419.7 929.6,2421.0 930.9,2422.2 932.3,2423.3 933.8,2424.4 935.3,2425.3 936.9,2426.5 938.5,2428.1 940.1,2429.6 941.7,2431.0 943.3,2432.4 945.0,2433.3 946.7,2434.3 948.5,2435.3 950.4,2436.2 952.2,2437.0 954.1,2437.7 956.1,2438.4 958.0,2439.0 960.0,2439.5 961.9,2439.9 963.9,2440.3 965.8,2441.2 967.7,2442.1 969.7,2443.1 971.6,2443.8 973.5,2444.0 975.5,2444.2 977.4,2444.4 979.4,2444.9 981.4,2445.5 983.4,2446.1 985.3,2446.7 987.3,2447.4 989.3,2448.0 991.3,2448.6 993.3,2448.7 995.2,2448.4 997.2,2448.1 999.2,2447.8 1001.2,2448.1 1003.2,2448.4 1005.1,2448.5 1007.1,2449.0 1009.1,2449.7 1011.2,2450.4 1013.2,2450.8 1015.2,2450.1 1017.2,2449.3 1019.1,2448.5 1021.1,2447.4 1023.0,2446.3 1024.9,2445.1 1026.8,2443.6 1028.7,2442.8 1030.5,2442.0 1032.2,2441.6 1033.8,2442.0 1035.3,2443.0 1036.6,2444.6 1038.0,2446.4 1039.3,2448.4 1040.7,2450.3 1042.3,2451.9 1043.9,2453.2 1045.6,2454.5 1047.4,2455.8 1049.3,2456.5 1051.2,2456.9 1053.0,2457.1 1054.9,2457.1 1056.8,2457.2 1058.7,2457.3 1060.7,2457.4 1062.6,2457.5 1064.6,2457.7 1066.6,2457.8 1068.6,2458.0 1070.6,2458.6 1072.6,2459.2 1074.6,2459.9 1076.6,2460.4 1078.6,2460.4 1080.7,2460.4 1082.7,2460.5 1084.7,2460.3 1086.7,2460.1 1088.8,2460.0 1090.8,2459.9 1092.8,2460.1 1094.8,2460.3 1096.8,2460.5 1098.8,2460.5 1100.8,2460.4 1102.8,2460.4 1104.8,2460.6 1106.8,2461.0 1108.8,2461.5 1110.8,2461.9 1112.8,2461.5 1114.9,2461.1 1116.9,2460.7 1118.9,2460.6 1120.9,2461.0 1122.9,2461.5 1124.9,2461.9 1126.9,2462.1 1128.9,2462.3 1131.0,2462.4 1133.0,2462.5 1135.0,2462.4 1137.0,2462.3 1139.0,2462.2 1141.0,2461.8 1143.0,2461.3 1145.0,2460.9 1147.0,2461.1 1149.0,2461.8 1151.0,2462.6 1153.0,2463.4 1155.0,2462.7 1156.9,2462.0 1158.9,2461.3 1160.9,2461.1 1162.9,2461.5 1164.9,2461.9 1166.8,2462.3 1168.8,2461.9 1170.8,2461.2 1172.8,2460.4 1174.8,2459.5 1176.7,2458.5 1178.6,2457.5 1180.5,2456.5 1182.2,2456.1 1184.0,2455.8 1185.7,2455.3 1187.4,2454.5 1189.0,2453.4 1190.5,2451.9 1191.9,2450.4 1193.1,2448.9 1194.0,2446.9 1194.9,2444.6 1195.7,2442.2 1196.4,2440.0 1197.2,2438.2 1198.2,2437.3 1199.2,2437.2 1200.5,2438.1 1201.9,2439.7 1203.4,2441.7 1204.9,2443.8 1206.5,2445.5 1208.1,2446.7 1209.7,2446.8 1211.4,2446.2 1213.3,2445.4 1215.3,2444.3 1217.2,2443.2 1219.2,2442.1 1221.1,2440.8 1223.0,2439.5 1224.6,2438.3 1226.1,2437.0 1227.3,2435.7 1228.3,2434.5 1229.1,2433.1 1229.8,2431.5 1230.5,2429.7 1231.2,2427.8 1231.8,2425.8 1232.3,2423.8 1232.8,2421.7 1233.3,2419.6 1233.8,2417.5 1234.2,2415.4 1234.6,2413.4 1235.0,2411.4 1235.4,2409.5 1235.8,2407.5 1236.1,2405.6 1236.4,2403.6 1236.7,2401.6 1237.1,2399.6 1237.3,2397.7 1237.6,2395.7 1237.9,2393.7 1238.2,2391.7 1238.4,2389.7 1238.7,2387.7 1238.9,2385.7 1239.2,2383.8 1239.4,2381.8 1239.7,2379.8 1239.9,2377.8 1240.1,2375.8 1240.3,2373.8 1240.6,2371.8 1240.8,2369.8 1241.0,2367.8 1241.3,2365.8 1241.5,2363.9 1241.7,2361.9 1241.9,2359.9 1242.1,2357.9 1242.3,2355.9 1242.5,2353.9 1242.7,2351.9 1242.9,2349.9 1243.1,2347.9 1243.3,2345.9 1243.4,2343.9 1243.6,2342.0 1243.8,2340.0 1244.0,2338.0 1244.2,2336.0 1244.4,2334.0 1244.5,2332.0 1244.7,2330.0 1244.9,2328.0 1245.1,2326.0 1245.3,2324.0 1245.5,2322.0 1245.7,2320.1 1245.9,2318.1 1246.1,2316.1 1246.3,2314.1 1246.6,2312.1 1246.8,2310.1 1247.0,2308.1 1247.2,2306.1 1247.5,2304.1 1247.7,2302.2 1247.9,2300.2 1248.2,2298.2 1248.4,2296.2 1248.7,2294.2 1248.9,2292.2 1249.2,2290.2 1249.5,2288.3 1249.7,2286.3 1250.0,2284.3 1250.3,2282.3 1250.6,2280.3 1250.9,2278.4 1251.3,2276.4 1251.6,2274.4 1252.0,2272.1 1252.4,2269.5 1252.8,2266.9 1253.3,2264.4 1253.8,2262.0 1254.3,2260.0 1254.7,2258.4 1255.2,2257.4 1255.6,2257.2 1256.1,2257.5 1256.5,2258.5 1257.0,2260.2 1257.4,2262.3 1257.9,2264.7 1258.3,2267.3 1258.7,2269.9 1259.1,2272.4 1259.4,2274.7 1259.8,2276.7 1260.1,2278.6 1260.4,2280.6 1260.7,2282.6 1260.9,2284.6 1261.2,2286.6 1261.4,2288.5 1261.7,2290.5 1261.9,2292.5 1262.2,2294.5 1262.4,2296.5 1262.6,2298.5 1262.8,2300.5 1263.1,2302.5 1263.3,2304.4 1263.5,2306.4 1263.7,2308.4 1264.0,2310.4 1264.2,2312.4 1264.4,2314.4 1264.6,2316.4 1264.8,2318.4 1265.0,2320.4 1265.2,2322.3 1265.5,2324.3 1265.7,2326.3 1265.9,2328.3 1266.1,2330.3 1266.2,2332.3 1266.4,2334.3 1266.6,2336.3 1266.8,2338.3 1267.0,2340.3 1267.2,2342.2 1267.4,2344.2 1267.6,2346.2 1267.8,2348.2 1268.0,2350.2 1268.2,2352.2 1268.4,2354.2 1268.6,2356.2 1268.8,2358.2 1269.0,2360.2 1269.2,2362.1 1269.5,2364.1 1269.7,2366.1 1269.9,2368.1 1270.1,2370.1 1270.3,2372.1 1270.6,2374.1 1270.8,2376.1 1271.0,2378.1 1271.2,2380.1 1271.4,2382.1 1271.6,2384.1 1271.8,2386.1 1272.0,2388.1 1272.2,2390.1 1272.4,2392.1 1272.7,2394.1 1272.9,2396.1 1273.1,2398.1 1273.3,2400.1 1273.6,2402.1 1273.8,2404.1 1274.1,2406.1 1274.4,2408.1 1274.7,2410.0 1275.0,2412.0 1275.3,2414.0 1275.6,2415.9 1276.0,2417.9 1276.3,2419.8 1276.7,2421.7 1277.1,2423.6 1277.6,2425.6 1278.1,2427.6 1278.7,2429.6 1279.3,2431.6 1280.0,2433.6 1280.7,2435.5 1281.5,2437.5 1282.3,2439.3 1283.2,2441.1 1284.1,2442.9 1285.1,2444.4 1286.1,2445.8 1287.2,2447.0 1288.4,2448.2 1289.8,2449.3 1291.4,2450.3 1293.0,2451.3 1294.8,2452.6 1296.6,2453.9 1298.4,2455.1 1300.3,2456.2 1302.1,2457.3 1303.9,2458.1 1305.7,2459.0 1307.6,2459.6 1309.6,2460.0 1311.6,2460.4 1313.6,2460.8 1315.6,2461.4 1317.7,2462.1 1319.7,2462.8 1321.7,2463.1 1323.6,2462.7 1325.6,2462.3 1327.6,2461.9 1329.6,2462.4 1331.6,2463.1 1333.6,2463.8 1335.5,2464.4 1337.5,2464.5 1339.5,2464.6 1341.5,2464.7 1343.5,2464.7 1345.5,2464.7 1347.5,2464.7 1349.5,2464.8 1351.5,2465.3 1353.5,2465.8 1355.5,2466.3 1357.5,2466.5 1359.5,2466.5 1361.4,2466.6 1363.4,2466.6 1365.4,2466.3 1367.4,2466.0 1369.4,2465.7 1371.4,2466.3 1373.4,2467.1 1375.4,2467.9 1377.4,2468.4 1379.4,2467.7 1381.4,2467.0 1383.4,2466.3 1385.4,2466.5 1387.4,2467.0 1389.4,2467.4 1391.4,2467.8 1393.4,2467.7 1395.4,2467.7 1397.4,2467.7 1399.4,2467.8 1401.5,2468.0 1403.5,2468.1 1405.5,2468.1 1407.5,2467.7 1409.5,2467.3 1411.5,2466.9 1413.5,2467.0 1415.5,2467.2 1417.4,2467.5 1419.4,2467.6 1421.3,2467.3 1423.2,2466.8 1425.1,2466.0 1427.0,2465.3 1428.9,2464.8 1430.7,2464.2 1432.6,2463.7 1434.5,2462.5 1436.4,2461.3 1438.3,2460.4 1440.2,2459.8 1442.2,2460.2 1444.2,2460.6 1446.3,2461.1 1448.4,2461.5 1450.5,2461.7 1452.5,2461.9 1454.6,2462.1 1456.7,2462.1 1458.7,2462.1 1460.7,2462.0 1462.6,2463.4 1464.5,2464.9 1466.3,2466.2 1468.0,2467.4 1469.7,2466.2 1471.2,2464.1 1472.7,2461.9 1474.1,2459.7 1475.6,2457.7 1477.0,2455.9 1478.5,2454.2 1480.0,2452.4 1481.5,2450.5 1482.9,2448.8 1484.4,2447.6 1485.9,2446.8 1487.4,2446.7 1488.9,2447.0 1490.4,2446.8 1491.9,2447.1 1493.4,2448.1 1494.9,2449.6 1496.4,2451.3 1497.9,2453.3 1499.5,2455.0 1501.1,2456.5 1502.7,2457.4 1504.5,2457.5 1506.3,2457.3 1508.2,2457.0 1510.2,2456.4 1512.2,2455.1 1514.1,2453.6 1516.1,2452.1 1517.9,2450.9 1519.6,2449.9 1521.2,2448.9 1522.7,2447.9 1524.1,2446.6 1525.5,2445.2 1526.9,2443.6 1528.1,2442.0 1529.3,2440.3 1530.2,2438.6 1531.0,2436.9 1531.7,2435.1 1532.4,2433.3 1533.0,2431.5 1533.6,2429.6 1534.1,2427.7 1534.7,2425.7 1535.1,2423.7 1535.6,2421.7 1536.0,2419.7 1536.4,2417.7 1536.8,2415.7 1537.2,2413.7 1537.5,2411.7 1537.9,2409.7 1538.2,2407.8 1538.5,2405.8 1538.8,2403.8 1539.1,2401.9 1539.4,2399.9 1539.7,2397.9 1540.0,2395.9 1540.2,2393.9 1540.5,2391.9 1540.7,2390.0 1541.0,2388.0 1541.2,2386.0 1541.4,2384.0 1541.6,2382.0 1541.8,2380.0 1542.0,2378.0 1542.3,2376.0 1542.4,2374.0 1542.6,2372.0 1542.8,2370.0 1543.0,2368.0 1543.2,2366.1 1543.4,2364.1 1543.5,2362.1 1543.7,2360.1 1543.9,2358.1 1544.0,2356.1 1544.2,2354.1 1544.3,2352.1 1544.5,2350.1 1544.6,2348.1 1544.7,2346.1 1544.9,2344.1 1545.0,2342.1 1545.2,2340.1 1545.3,2338.1 1545.4,2336.1 1545.6,2334.1 1545.7,2332.1 1545.8,2330.2 1546.0,2328.2 1546.1,2326.2 1546.3,2324.2 1546.4,2322.2 1546.6,2320.2 1546.7,2318.2 1546.9,2316.2 1547.0,2314.2 1547.2,2312.2 1547.3,2310.2 1547.5,2308.2 1547.6,2306.2 1547.8,2304.2 1547.9,2302.2 1548.1,2300.2 1548.2,2298.2 1548.4,2296.2 1548.5,2294.2 1548.7,2292.3 1548.8,2290.3 1549.0,2288.3 1549.1,2286.3 1549.3,2284.3 1549.4,2282.3 1549.5,2280.3 1549.7,2278.3 1549.8,2276.3 1550.0,2274.3 1550.1,2272.3 1550.3,2270.3 1550.4,2268.3 1550.6,2266.3 1550.7,2264.3 1550.8,2262.3 1550.9,2260.3 1551.1,2258.3 1551.2,2256.3 1551.3,2254.3 1551.5,2252.3 1551.6,2250.3 1551.8,2248.3 1551.9,2246.3 1552.0,2244.4 1552.2,2242.4 1552.4,2240.4 1552.5,2238.4 1552.7,2236.4 1552.9,2234.4 1553.0,2232.4 1553.2,2230.4 1553.4,2228.4 1553.7,2226.4 1553.9,2224.5 1554.1,2222.5 1554.4,2220.5 1554.6,2218.5 1554.9,2216.5 1555.2,2214.5 1555.5,2212.5 1555.8,2210.6 1556.1,2208.6 1556.5,2206.6 1556.8,2204.6 1557.2,2202.7 1557.5,2200.7 1557.9,2198.8 1558.3,2196.7 1558.8,2194.3 1559.4,2191.8 1560.0,2189.2 1560.6,2186.8 1561.2,2184.6 1561.7,2182.8 1562.2,2181.5 1562.7,2181.4 1563.0,2181.3 1563.4,2181.5 1563.7,2182.6 1564.0,2184.0 1564.3,2185.8 1564.6,2187.8 1564.8,2190.1 1565.1,2192.6 1565.3,2195.1 1565.6,2197.8 1565.8,2200.4 1566.0,2203.0 1566.3,2205.5 1566.5,2207.8 1566.7,2209.9 1566.9,2211.9 1567.1,2213.9 1567.3,2215.9 1567.5,2217.9 1567.7,2219.9 1567.9,2221.9 1568.1,2223.8 1568.2,2225.8 1568.4,2227.8 1568.6,2229.8 1568.7,2231.8 1568.9,2233.8 1569.1,2235.8 1569.2,2237.8 1569.4,2239.8 1569.6,2241.8 1569.7,2243.8 1569.9,2245.8 1570.1,2247.8 1570.2,2249.8 1570.4,2251.8 1570.5,2253.8 1570.7,2255.7 1570.9,2257.7 1571.1,2259.7 1571.2,2261.7 1571.4,2263.7 1571.6,2265.7 1571.8,2267.7 1572.0,2269.7 1572.1,2271.7 1572.3,2273.7 1572.5,2275.7 1572.7,2277.7 1572.9,2279.6 1573.1,2281.6 1573.2,2283.6 1573.4,2285.6 1573.6,2287.6 1573.8,2289.6 1574.0,2291.6 1574.1,2293.6 1574.3,2295.6 1574.5,2297.6 1574.7,2299.6 1574.8,2301.6 1575.0,2303.6 1575.2,2305.5 1575.3,2307.5 1575.5,2309.5 1575.7,2311.5 1575.8,2313.5 1576.0,2315.5 1576.1,2317.5 1576.2,2319.5 1576.4,2321.5 1576.5,2323.5 1576.7,2325.5 1576.8,2327.5 1576.9,2329.5 1577.0,2331.5 1577.2,2333.5 1577.3,2335.5 1577.4,2337.5 1577.6,2339.5 1577.7,2341.5 1577.9,2343.5 1578.0,2345.5 1578.1,2347.4 1578.3,2349.4 1578.5,2351.4 1578.6,2353.4 1578.8,2355.4 1579.0,2357.4 1579.2,2359.4 1579.4,2361.4 1579.6,2363.4 1579.8,2365.4 1580.0,2367.4 1580.2,2369.3 1580.4,2371.3 1580.6,2373.3 1580.9,2375.3 1581.1,2377.3 1581.3,2379.3 1581.6,2381.3 1581.9,2383.3 1582.1,2385.3 1582.4,2387.2 1582.7,2389.2 1582.9,2391.2 1583.2,2393.2 1583.5,2395.2 1583.8,2397.1 1584.1,2399.1 1584.5,2401.1 1584.8,2403.0 1585.1,2405.0 1585.4,2407.0 1585.8,2409.0 1586.1,2411.0 1586.5,2413.0 1586.8,2415.0 1587.2,2417.0 1587.6,2419.0 1588.0,2421.0 1588.5,2423.0 1588.9,2424.9 1589.4,2426.9 1590.0,2428.8 1590.5,2430.6 1591.1,2432.5 1591.7,2434.3 1592.4,2436.1 1593.3,2437.9 1594.2,2439.6 1595.3,2441.4 1596.4,2443.1 1597.7,2444.7 1599.0,2446.3 1600.3,2447.8 1601.7,2449.0 1603.1,2449.8 1604.7,2450.5 1606.3,2451.1 1608.1,2451.6 1609.9,2452.8 1611.7,2454.0 1613.6,2455.3 1615.5,2456.3 1617.4,2457.0 1619.2,2457.6 1621.1,2458.2 1623.0,2459.0 1624.9,2460.1 1626.8,2461.1 1628.8,2462.1 1630.8,2462.8 1632.7,2463.4 1634.7,2464.0 1636.7,2464.2 1638.7,2464.1 1640.7,2463.9 1642.7,2463.6 1644.6,2463.5 1646.6,2463.4 1648.6,2463.3 1650.6,2463.0 1652.6,2462.5 1654.6,2461.9 1656.6,2461.3 1658.6,2461.3 1660.6,2461.5 1662.6,2461.6 1664.5,2461.7 1666.4,2461.4 1668.3,2461.0 1670.2,2460.5 1672.1,2459.8 1674.0,2459.1 1675.8,2458.3 1677.7,2457.5 1679.5,2456.4 1681.4,2455.1 1683.3,2454.0 1685.1,2453.0 1687.0,2453.3 1688.9,2453.7 1690.9,2454.3 1692.8,2454.4 1694.8,2453.9 1696.8,2453.5 1698.8,2453.0 1700.8,2452.5 1702.8,2451.9 1704.9,2451.3 1706.9,2450.8 1708.9,2450.5 1710.9,2450.2 1712.9,2449.8 1714.8,2449.6 1716.7,2449.4 1718.7,2449.1 1720.8,2448.7 1722.8,2448.3 1724.9,2447.9 1726.9,2447.4 1728.9,2446.6 1730.8,2445.7 1732.6,2444.8 1734.3,2443.8 1735.8,2443.0 1737.2,2442.0 1738.5,2440.8 1739.7,2439.4 1740.8,2437.6 1741.9,2435.8 1742.9,2433.8 1743.8,2431.8 1744.6,2429.9 1745.4,2428.0 1746.0,2426.2 1746.6,2424.3 1747.2,2422.4 1747.8,2420.5 1748.3,2418.6 1748.8,2416.6 1749.3,2414.6 1749.7,2412.6 1750.1,2410.7 1750.5,2408.7 1750.9,2406.7 1751.2,2404.7 1751.6,2402.8 1751.9,2400.8 1752.2,2398.8 1752.6,2396.9 1752.9,2394.9 1753.1,2392.9 1753.4,2390.9 1753.7,2389.0 1754.0,2387.0 1754.2,2385.0 1754.5,2383.0 1754.7,2381.0 1754.9,2379.0 1755.2,2377.0 1755.4,2375.0 1755.6,2373.0 1755.8,2371.0 1756.0,2369.1 1756.2,2367.1 1756.4,2365.1 1756.6,2363.1 1756.8,2361.1 1757.0,2359.1 1757.2,2357.1 1757.3,2355.1 1757.5,2353.1 1757.7,2351.1 1757.8,2349.2 1758.0,2347.2 1758.1,2345.2 1758.3,2343.2 1758.4,2341.2 1758.6,2339.2 1758.7,2337.2 1758.9,2335.2 1759.0,2333.2 1759.2,2331.2 1759.3,2329.2 1759.5,2327.2 1759.6,2325.2 1759.8,2323.2 1759.9,2321.2 1760.1,2319.2 1760.2,2317.2 1760.4,2315.2 1760.5,2313.2 1760.7,2311.2 1760.8,2309.3 1761.0,2307.3 1761.1,2305.3 1761.3,2303.3 1761.4,2301.3 1761.6,2299.3 1761.7,2297.3 1761.9,2295.3 1762.0,2293.3 1762.2,2291.3 1762.3,2289.3 1762.5,2287.3 1762.6,2285.3 1762.8,2283.3 1762.9,2281.3 1763.1,2279.3 1763.2,2277.3 1763.4,2275.3 1763.5,2273.4 1763.7,2271.4 1763.8,2269.4 1764.0,2267.4 1764.2,2265.4 1764.3,2263.4 1764.5,2261.4 1764.7,2259.4 1764.8,2257.4 1765.0,2255.4 1765.2,2253.4 1765.4,2251.4 1765.5,2249.4 1765.7,2247.4 1765.9,2245.5 1766.1,2243.5 1766.3,2241.5 1766.4,2239.5 1766.6,2237.5 1766.8,2235.5 1767.0,2233.5 1767.2,2231.5 1767.4,2229.5 1767.6,2227.5 1767.9,2225.5 1768.1,2223.6 1768.3,2221.6 1768.6,2219.6 1768.8,2217.6 1769.1,2215.5 1769.4,2213.2 1769.7,2210.7 1770.1,2208.1 1770.4,2205.5 1770.8,2203.0 1771.2,2200.6 1771.5,2198.6 1771.9,2196.9 1772.3,2195.6 1772.6,2195.0 1772.9,2195.0 1773.3,2195.4 1773.6,2196.3 1773.9,2197.8 1774.3,2199.5 1774.6,2201.6 1774.9,2203.9 1775.2,2206.4 1775.5,2209.0 1775.8,2211.6 1776.1,2214.2 1776.4,2216.8 1776.7,2219.1 1776.9,2221.3 1777.2,2223.3 1777.4,2225.3 1777.7,2227.3 1777.9,2229.3 1778.1,2231.2 1778.4,2233.2 1778.6,2235.2 1778.8,2237.2 1779.0,2239.2 1779.2,2241.2 1779.5,2243.2 1779.7,2245.2 1779.9,2247.2 1780.0,2249.2 1780.2,2251.1 1780.4,2253.1 1780.6,2255.1 1780.8,2257.1 1781.0,2259.1 1781.2,2261.1 1781.3,2263.1 1781.5,2265.1 1781.7,2267.1 1781.8,2269.1 1782.0,2271.1 1782.1,2273.1 1782.3,2275.1 1782.4,2277.1 1782.5,2279.0 1782.7,2281.0 1782.8,2283.0 1782.9,2285.0 1783.1,2287.0 1783.2,2289.0 1783.3,2291.0 1783.5,2293.0 1783.6,2295.0 1783.7,2297.0 1783.8,2299.0 1784.0,2301.0 1784.1,2303.0 1784.2,2305.0 1784.4,2307.0 1784.5,2309.0 1784.6,2311.0 1784.8,2313.0 1784.9,2315.0 1785.1,2317.0 1785.2,2319.0 1785.4,2321.0 1785.5,2322.9 1785.7,2324.9 1785.9,2326.9 1786.0,2328.9 1786.2,2330.9 1786.4,2332.9 1786.6,2334.9 1786.7,2336.9 1786.9,2338.9 1787.1,2340.9 1787.3,2342.9 1787.5,2344.9 1787.7,2346.9 1787.9,2348.8 1788.1,2350.8 1788.3,2352.8 1788.5,2354.8 1788.7,2356.8 1788.9,2358.8 1789.1,2360.8 1789.3,2362.8 1789.5,2364.8 1789.7,2366.7 1789.9,2368.7 1790.2,2370.7 1790.4,2372.7 1790.6,2374.7 1790.8,2376.7 1791.0,2378.7 1791.2,2380.7 1791.4,2382.7 1791.6,2384.7 1791.8,2386.7 1792.1,2388.7 1792.3,2390.7 1792.5,2392.7 1792.8,2394.7 1793.0,2396.7 1793.3,2398.6 1793.6,2400.6 1793.9,2402.6 1794.2,2404.5 1794.5,2406.5 1794.9,2408.4 1795.3,2410.4 1795.7,2412.3 1796.2,2414.3 1796.7,2416.3 1797.2,2418.2 1797.8,2420.2 1798.4,2422.2 1799.0,2424.1 1799.7,2426.0 1800.4,2427.9 1801.2,2429.8 1802.0,2431.6 1802.8,2433.4 1803.6,2435.2 1804.5,2436.8 1805.5,2438.5 1806.6,2440.4 1807.8,2442.3 1809.1,2444.2 1810.5,2446.2 1811.9,2447.7 1813.4,2448.8 1814.9,2449.7 1816.4,2450.5 1818.0,2451.2 1819.6,2452.5 1821.3,2453.8 1823.1,2455.1 1824.9,2456.2 1826.7,2457.2 1828.6,2458.0 1830.5,2458.7 1832.4,2459.3 1834.4,2459.3 1836.4,2459.3 1838.4,2459.2 1840.5,2459.4 1842.5,2459.7 1844.4,2459.9 1846.4,2459.8 1848.5,2459.4 1850.5,2458.9 1852.5,2458.3 1854.5,2457.6 1856.5,2457.0 1858.4,2456.3 1860.2,2455.7 1861.9,2455.1 1863.6,2454.3 1865.3,2453.3 1867.0,2452.1 1868.5,2450.6 1870.0,2449.1 1871.4,2447.5 1872.7,2446.1 1873.8,2444.6 1874.9,2443.1 1875.9,2441.5 1876.8,2439.8 1877.7,2437.9 1878.6,2436.1 1879.5,2434.3 1880.5,2432.6 1881.5,2431.0 1882.5,2429.0 1883.5,2426.8 1884.5,2424.6 1885.6,2422.7 1886.7,2421.0 1888.0,2419.7 1889.5,2420.0 1891.5,2420.6 1893.7,2421.3 1895.7,2421.2 1897.3,2420.4 1898.8,2420.7 1900.2,2422.2 1901.5,2424.4 1902.7,2426.7 1903.9,2428.6 1905.2,2430.1 1906.5,2431.2 1907.8,2432.1 1909.3,2432.2 1910.8,2431.2 1912.4,2429.7 1913.9,2428.0 1915.3,2426.0 1916.5,2424.1 1917.4,2422.3 1918.2,2420.6 1918.9,2418.8 1919.6,2416.9 1920.2,2415.0 1920.8,2413.0 1921.3,2411.0 1921.8,2409.0 1922.3,2407.0 1922.7,2405.0 1923.1,2403.1 1923.4,2401.1 1923.7,2399.2 1924.1,2397.2 1924.4,2395.2 1924.7,2393.2 1924.9,2391.3 1925.2,2389.3 1925.4,2387.3 1925.7,2385.3 1925.9,2383.3 1926.2,2381.3 1926.4,2379.3 1926.6,2377.3 1926.8,2375.3 1927.0,2373.3 1927.3,2371.3 1927.5,2369.3 1927.7,2367.4 1927.9,2365.4 1928.2,2363.4 1928.4,2361.4 1928.6,2359.4 1928.8,2357.4 1929.0,2355.4 1929.2,2353.4 1929.4,2351.4 1929.6,2349.4 1929.7,2347.5 1929.9,2345.5 1930.1,2343.5 1930.3,2341.5 1930.5,2339.5 1930.7,2337.5 1930.9,2335.5 1931.1,2333.5 1931.3,2331.5 1931.5,2329.5 1931.7,2327.5 1931.9,2325.6 1932.1,2323.6 1932.3,2321.6 1932.5,2319.6 1932.7,2317.6 1932.9,2315.6 1933.1,2313.6 1933.4,2311.6 1933.6,2309.6 1933.8,2307.7 1934.0,2305.7 1934.2,2303.7 1934.4,2301.7 1934.7,2299.7 1934.9,2297.7 1935.1,2295.7 1935.4,2293.7 1935.6,2291.8 1935.9,2289.8 1936.2,2287.8 1936.4,2285.8 1936.7,2283.8 1937.0,2281.9 1937.3,2279.9 1937.7,2277.9 1938.0,2275.9 1938.4,2274.0 1938.8,2272.0 1939.1,2270.0 1939.5,2268.1 1940.0,2266.1 1940.4,2264.2 1940.8,2262.2 1941.3,2260.3 1941.8,2258.3 1942.3,2255.9 1942.9,2253.4 1943.4,2251.1 1944.0,2249.4 1944.6,2248.4 1945.1,2249.1 1945.7,2250.4 1946.2,2252.2 1946.8,2254.5 1947.3,2257.0 1947.8,2259.6 1948.2,2262.0 1948.6,2264.1 1949.0,2266.1 1949.3,2268.1 1949.6,2270.0 1949.9,2272.0 1950.2,2274.0 1950.5,2276.0 1950.7,2277.9 1951.0,2279.9 1951.2,2281.9 1951.5,2283.9 1951.7,2285.9 1951.9,2287.9 1952.2,2289.9 1952.4,2291.9 1952.6,2293.9 1952.9,2295.9 1953.1,2297.8 1953.4,2299.8 1953.7,2301.8 1953.9,2303.8 1954.2,2305.8 1954.4,2307.8 1954.7,2309.7 1954.9,2311.7 1955.2,2313.7 1955.4,2315.7 1955.7,2317.7 1955.9,2319.7 1956.2,2321.7 1956.5,2323.6 1956.7,2325.6 1957.0,2327.6 1957.3,2329.6 1957.6,2331.5 1957.9,2333.5 1958.2,2335.5 1958.6,2337.5 1958.9,2339.5 1959.2,2341.4 1959.5,2343.4 1959.9,2345.4 1960.3,2347.4 1960.7,2349.4 1961.1,2351.3 1961.5,2353.3 1962.0,2355.2 1962.5,2357.1 1963.0,2359.1 1963.6,2361.4 1964.3,2363.9 1965.1,2366.3 1965.9,2368.4 1966.7,2370.3 1967.6,2371.6 1968.6,2372.0 1969.6,2371.4 1970.8,2370.0 1972.1,2368.1 1973.5,2365.8 1974.9,2363.5 1976.3,2361.2 1977.6,2359.2 1978.9,2357.7 1980.1,2357.2 1981.3,2357.7 1982.4,2359.1 1983.5,2361.0 1984.6,2363.1 1985.5,2365.4 1986.4,2367.6 1987.1,2369.6 1987.7,2371.4 1988.3,2373.3 1988.8,2375.2 1989.3,2377.1 1989.7,2379.1 1990.1,2381.0 1990.5,2383.0 1990.9,2385.0 1991.3,2387.0 1991.7,2389.0 1992.1,2391.0 1992.5,2393.0 1992.9,2394.9 1993.3,2396.9 1993.8,2398.9 1994.3,2400.8 1994.8,2402.7 1995.2,2404.7 1995.7,2406.6 1996.2,2408.6 1996.7,2410.6 1997.2,2412.5 1997.7,2414.5 1998.3,2416.4 1998.8,2418.3 1999.4,2420.3 1999.9,2422.2 2000.5,2424.1 2001.2,2426.0 2001.8,2427.9 2002.5,2429.7 2003.2,2431.6 2003.9,2433.4 2004.7,2435.2 2005.6,2437.0 2006.5,2439.0 2007.5,2441.0 2008.5,2443.0 2009.5,2444.8 2010.6,2446.6 2011.8,2448.2 2013.0,2449.7 2014.2,2451.2 2015.6,2452.7 2017.0,2454.2 2018.5,2455.6 2020.0,2456.9 2021.6,2458.2 2023.3,2459.5 2024.9,2460.6 2026.6,2461.7 2028.3,2462.8 2030.1,2464.0 2031.9,2465.3 2033.8,2466.4 2035.7,2467.3 2037.6,2467.7 2039.5,2468.0 2041.5,2468.2 2043.4,2469.0 2045.4,2470.0 2047.4,2470.8 2049.3,2471.3 2051.3,2471.0 2053.2,2470.6 2055.2,2470.2 2057.3,2469.8 2059.3,2469.4 2061.4,2469.0 2063.5,2468.7 2065.5,2469.1 2067.6,2469.4 2069.6,2469.8 2071.6,2468.5 2073.6,2466.9 2075.5,2465.3 2077.3,2464.0 2079.1,2464.2 2080.9,2464.1 2082.6,2463.8 2084.2,2463.1 2085.9,2462.0 2087.4,2460.7 2089.0,2459.5 2090.5,2458.3 2092.0,2456.9 2093.4,2455.3 2094.9,2453.7 2096.2,2452.1" fill="none" stroke="#7474a4" stroke-width="4.8"/>
<polyline points="890.6,2085.3 890.7,2087.3 890.8,2089.3 890.9,2091.2 891.0,2093.2 891.1,2095.2 891.2,2097.2 891.3,2099.2 891.4,2101.2 891.5,2103.2 891.6,2105.2 891.6,2107.2 891.7,2109.2 891.8,2111.2 891.9,2113.2 892.0,2115.2 892.0,2117.2 892.1,2119.2 892.2,2121.2 892.2,2123.2 892.3,2125.2 892.4,2127.2 892.4,2129.2 892.5,2131.2 892.5,2133.2 892.6,2135.2 892.6,2137.2 892.7,2139.2 892.7,2141.2 892.7,2143.2 892.8,2145.2 892.8,2147.2 892.9,2149.2 892.9,2151.2 892.9,2153.2 893.0,2155.2 893.0,2157.2 893.0,2159.2 893.1,2161.2 893.1,2163.2 893.1,2165.2 893.1,2167.2 893.2,2169.2 893.2,2171.2 893.2,2173.2 893.3,2175.2 893.3,2177.2 893.3,2179.2 893.4,2181.2 893.4,2183.2 893.4,2185.2 893.5,2187.2 893.5,2189.2 893.6,2191.2 893.6,2193.2 893.7,2195.2 893.7,2197.2 893.8,2199.2 893.8,2201.2 893.9,2203.2 893.9,2205.2 894.0,2207.2 894.0,2209.2 894.1,2211.2 894.2,2213.2 894.2,2215.2 894.3,2217.2 894.4,2219.2 894.5,2221.2 894.5,2223.2 894.6,2225.2 894.7,2227.2 894.8,2229.2 894.9,2231.2 895.0,2233.2 895.1,2235.2 895.1,2237.2 895.2,2239.2 895.3,2241.2 895.4,2243.2 895.5,2245.2 895.6,2247.2 895.8,2249.2 895.9,2251.2 896.0,2253.2 896.1,2255.2 896.2,2257.2 896.3,2259.2 896.4,2261.2 896.6,2263.2 896.7,2265.1 896.8,2267.1 896.9,2269.1 897.1,2271.1 897.2,2273.1 897.4,2275.1 897.5,2277.1 897.7,2279.1 897.9,2281.1 898.1,2283.1 898.3,2285.1 898.5,2287.1 898.7,2289.0 898.9,2291.0 899.1,2293.0 899.4,2295.0 899.6,2297.0 899.8,2299.0 900.1,2301.0 900.3,2303.0 900.5,2305.0 900.7,2306.9 900.9,2308.9 901.2,2310.9 901.4,2312.9 901.6,2314.9 901.8,2316.9 902.0,2318.9 902.2,2320.9 902.4,2322.9 902.5,2324.9 902.7,2326.9 902.9,2328.9 903.0,2330.9 903.2,2332.9 903.4,2334.9 903.5,2336.9 903.7,2338.9 903.9,2340.9 904.1,2342.8 904.3,2344.8 904.5,2346.8 904.7,2348.8 904.9,2350.8 905.1,2352.8 905.3,2354.8 905.6,2356.7 905.8,2358.7 906.1,2360.7 906.4,2362.7 906.7,2364.6 907.1,2366.6 907.5,2368.5 907.9,2370.5 908.3,2372.5 908.8,2374.4 909.3,2376.4 909.8,2378.3 910.3,2380.3 910.9,2382.2 911.5,2384.1 912.1,2386.0 912.7,2387.9 913.3,2389.8 913.9,2391.7 914.5,2393.6 915.2,2395.5 916.0,2397.4 916.7,2399.3 917.5,2401.2 918.3,2403.1 919.1,2404.9 920.0,2406.8 920.9,2408.6 921.8,2410.3 922.8,2412.0 923.8,2413.7 924.8,2415.2 925.9,2416.7 927.0,2418.2 928.2,2419.7 929.6,2421.0 930.9,2422.2 932.3,2423.3 933.8,2424.4 935.3,2425.3 936.9,2426.5 938.5,2428.1 940.1,2429.6 941.7,2431.0 943.3,2432.4 945.0,2433.3 946.7,2434.3 948.5,2435.3 950.4,2436.2 952.2,2437.0 954.1,2437.7 956.1,2438.4 958.0,2439.0 960.0,2439.5 961.9,2439.9 963.9,2440.3 965.8,2441.2 967.7,2442.1 969.7,2443.1 971.6,2443.8 973.5,2444.0 975.5,2444.2 977.4,2444.4 979.4,2444.9 981.4,2445.5 983.4,2446.1 985.3,2446.7 987.3,2447.4 989.3,2448.0 991.3,2448.6 993.3,2448.7 995.2,2448.4 997.2,2448.1 999.2,2447.8 1001.2,2448.1 1003.2,2448.4 1005.1,2448.5 1007.1,2449.0 1009.1,2449.7 1011.2,2450.4 1013.2,2450.8 1015.2,2450.1 1017.2,2449.3 1019.1,2448.5 1021.1,2447.4 1023.0,2446.3 1024.9,2445.1 1026.8,2443.6 1028.7,2442.8 1030.5,2442.0 1032.2,2441.6 1033.8,2442.0 1035.3,2443.0 1036.6,2444.6 1038.0,2446.4 1039.3,2448.4 1040.7,2450.3 1042.3,2451.9 1043.9,2453.2 1045.6,2454.5 1047.4,2455.8 1049.3,2456.5 1051.2,2456.9 1053.0,2457.1 1054.9,2457.1 1056.8,2457.2 1058.7,2457.3 1060.7,2457.4 1062.6,2457.5 1064.6,2457.7 1066.6,2457.8 1068.6,2458.0 1070.6,2458.6 1072.6,2459.2 1074.6,2459.9 1076.6,2460.4 1078.6,2460.4 1080.7,2460.4 1082.7,2460.5 1084.7,2460.3 1086.7,2460.1 1088.8,2460.0 1090.8,2459.9 1092.8,2460.1 1094.8,2460.3 1096.8,2460.5 1098.8,2460.5 1100.8,2460.4 1102.8,2460.4 1104.8,2460.6 1106.8,2461.0 1108.8,2461.5 1110.8,2461.9 1112.8,2461.5 1114.9,2461.1 1116.9,2460.7 1118.9,2460.6 1120.9,2461.0 1122.9,2461.5 1124.9,2461.9 1126.9,2462.1 1128.9,2462.3 1131.0,2462.4 1133.0,2462.5 1135.0,2462.4 1137.0,2462.3 1139.0,2462.2 1141.0,2461.8 1143.0,2461.3 1145.0,2460.9 1147.0,2461.1 1149.0,2461.8 1151.0,2462.6 1153.0,2463.4 1155.0,2462.7 1156.9,2462.0 1158.9,2461.3 1160.9,2461.1 1162.9,2461.5 1164.9,2461.9 1166.8,2462.3 1168.8,2461.9 1170.8,2461.2 1172.8,2460.4 1174.8,2459.5 1176.7,2458.5 1178.6,2457.5 1180.5,2456.5 1182.2,2456.1 1184.0,2455.8 1185.7,2455.3 1187.4,2454.5 1189.0,2453.4 1190.5,2451.9 1191.9,2450.4 1193.1,2448.9 1194.0,2446.9 1194.9,2444.6 1195.7,2442.2 1196.4,2440.0 1197.2,2438.2 1198.2,2437.3 1199.2,2437.2 1200.5,2438.1 1201.9,2439.7 1203.4,2441.7 1204.9,2443.8 1206.5,2445.5 1208.1,2446.7 1209.7,2446.8 1211.4,2446.2 1213.3,2445.4 1215.3,2444.3 1217.2,2443.2 1219.2,2442.1 1221.1,2440.8 1223.0,2439.5 1224.6,2438.3 1226.1,2437.0 1227.3,2435.7 1228.3,2434.5 1229.1,2433.1 1229.8,2431.5 1230.5,2429.7 1231.2,2427.8 1231.8,2425.8 1232.3,2423.8 1232.8,2421.7 1233.3,2419.6 1233.8,2417.5 1234.2,2415.4 1234.6,2413.4 1235.0,2411.4 1235.4,2409.5 1235.8,2407.5 1236.1,2405.6 1236.4,2403.6 1236.7,2401.6 1237.1,2399.6 1237.3,2397.7 1237.6,2395.7 1237.9,2393.7 1238.2,2391.7 1238.4,2389.7 1238.7,2387.7 1238.9,2385.7 1239.2,2383.8 1239.4,2381.8 1239.7,2379.8 1239.9,2377.8 1240.1,2375.8 1240.3,2373.8 1240.6,2371.8 1240.8,2369.8 1241.0,2367.8 1241.3,2365.8 1241.5,2363.9 1241.7,2361.9 1241.9,2359.9 1242.1,2357.9 1242.3,2355.9 1242.5,2353.9 1242.7,2351.9 1242.9,2349.9 1243.1,2347.9 1243.3,2345.9 1243.4,2343.9 1243.6,2342.0 1243.8,2340.0 1244.0,2338.0 1244.2,2336.0 1244.4,2334.0 1244.5,2332.0 1244.7,2330.0 1244.9,2328.0 1245.1,2326.0 1245.3,2324.0 1245.5,2322.0 1245.7,2320.1 1245.9,2318.1 1246.1,2316.1 1246.3,2314.1 1246.6,2312.1 1246.8,2310.1 1247.0,2308.1 1247.2,2306.1 1247.5,2304.1 1247.7,2302.2 1247.9,2300.2 1248.2,2298.2 1248.4,2296.2 1248.7,2294.2 1248.9,2292.2 1249.2,2290.2 1249.5,2288.3 1249.7,2286.3 1250.0,2284.3 1250.3,2282.3 1250.6,2280.3 1250.9,2278.4 1251.3,2276.4 1251.6,2274.4 1252.0,2272.1 1252.4,2269.5 1252.8,2266.9 1253.3,2264.4 1253.8,2262.0 1254.3,2260.0 1254.7,2258.4 1255.2,2257.4 1255.6,2257.2 1256.1,2257.5 1256.5,2258.5 1257.0,2260.2 1257.4,2262.3 1257.9,2264.7 1258.3,2267.3 1258.7,2269.9 1259.1,2272.4 1259.4,2274.7 1259.8,2276.7 1260.1,2278.6 1260.4,2280.6 1260.7,2282.6 1260.9,2284.6 1261.2,2286.6 1261.4,2288.5 1261.7,2290.5 1261.9,2292.5 1262.2,2294.5 1262.4,2296.5 1262.6,2298.5 1262.8,2300.5 1263.1,2302.5 1263.3,2304.4 1263.5,2306.4 1263.7,2308.4 1264.0,2310.4 1264.2,2312.4 1264.4,2314.4 1264.6,2316.4 1264.8,2318.4 1265.0,2320.4 1265.2,2322.3 1265.5,2324.3 1265.7,2326.3 1265.9,2328.3 1266.1,2330.3 1266.2,2332.3 1266.4,2334.3 1266.6,2336.3 1266.8,2338.3 1267.0,2340.3 1267.2,2342.2 1267.4,2344.2 1267.6,2346.2 1267.8,2348.2 1268.0,2350.2 1268.2,2352.2 1268.4,2354.2 1268.6,2356.2 1268.8,2358.2 1269.0,2360.2 1269.2,2362.1 1269.5,2364.1 1269.7,2366.1 1269.9,2368.1 1270.1,2370.1 1270.3,2372.1 1270.6,2374.1 1270.8,2376.1 1271.0,2378.1 1271.2,2380.1 1271.4,2382.1 1271.6,2384.1 1271.8,2386.1 1272.0,2388.1 1272.2,2390.1 1272.4,2392.1 1272.7,2394.1 1272.9,2396.1 1273.1,2398.1 1273.3,2400.1 1273.6,2402.1 1273.8,2404.1 1274.1,2406.1 1274.4,2408.1 1274.7,2410.0 1275.0,2412.0 1275.3,2414.0 1275.6,2415.9 1276.0,2417.9 1276.3,2419.8 1276.7,2421.7 1277.1,2423.6 1277.6,2425.6 1278.1,2427.6 1278.7,2429.6 1279.3,2431.6 1280.0,2433.6 1280.7,2435.5 1281.5,2437.5 1282.3,2439.3 1283.2,2441.1 1284.1,2442.9 1285.1,2444.4 1286.1,2445.8 1287.2,2447.0 1288.4,2448.2 1289.8,2449.3 1291.4,2450.3 1293.0,2451.3 1294.8,2452.6 1296.6,2453.9 1298.4,2455.1 1300.3,2456.2 1302.1,2457.3 1303.9,2458.1 1305.7,2459.0 1307.6,2459.6 1309.6,2460.0 1311.6,2460.4 1313.6,2460.8 1315.6,2461.4 1317.7,2462.1 1319.7,2462.8 1321.7,2463.1 1323.6,2462.7 1325.6,2462.3 1327.6,2461.9 1329.6,2462.4 1331.6,2463.1 1333.6,2463.8 1335.5,2464.4 1337.5,2464.5 1339.5,2464.6 1341.5,2464.7 1343.5,2464.7 1345.5,2464.7 1347.5,2464.7 1349.5,2464.8 1351.5,2465.3 1353.5,2465.8 1355.5,2466.3 1357.5,2466.5 1359.5,2466.5 1361.4,2466.6 1363.4,2466.6 1365.4,2466.3 1367.4,2466.0 1369.4,2465.7 1371.4,2466.3 1373.4,2467.1 1375.4,2467.9 1377.4,2468.4 1379.4,2467.7 1381.4,2467.0 1383.4,2466.3 1385.4,2466.5 1387.4,2467.0 1389.4,2467.4 1391.4,2467.8 1393.4,2467.7 1395.4,2467.7 1397.4,2467.7 1399.4,2467.8 1401.5,2468.0 1403.5,2468.1 1405.5,2468.1 1407.5,2467.7 1409.5,2467.3 1411.5,2466.9 1413.5,2467.0 1415.5,2467.2 1417.4,2467.5 1419.4,2467.6 1421.3,2467.3 1423.2,2466.8 1425.1,2466.0 1427.0,2465.3 1428.9,2464.8 1430.7,2464.2 1432.6,2463.7 1434.5,2462.5 1436.4,2461.3 1438.3,2460.4 1440.2,2459.8 1442.2,2460.2 1444.2,2460.6 1446.3,2461.1 1448.4,2461.5 1450.5,2461.7 1452.5,2461.9 1454.6,2462.1 1456.7,2462.1 1458.7,2462.1 1460.7,2462.0 1462.6,2463.4 1464.5,2464.9 1466.3,2466.2 1468.0,2467.4 1469.7,2466.2 1471.2,2464.1 1472.7,2461.9 1474.1,2459.7 1475.6,2457.7 1477.0,2455.9 1478.5,2454.2 1480.0,2452.4 1481.5,2450.5 1482.9,2448.8 1484.4,2447.6 1485.9,2446.8 1487.4,2446.7 1488.9,2447.0 1490.4,2446.8 1491.9,2447.1 1493.4,2448.1 1494.9,2449.6 1496.4,2451.3 1497.9,2453.3 1499.5,2455.0 1501.1,2456.5 1502.7,2457.4 1504.5,2457.5 1506.3,2457.3 1508.2,2457.0 1510.2,2456.4 1512.2,2455.1 1514.1,2453.6 1516.1,2452.1 1517.9,2450.9 1519.6,2449.9 1521.2,2448.9 1522.7,2447.9 1524.1,2446.6 1525.5,2445.2 1526.9,2443.6 1528.1,2442.0 1529.3,2440.3 1530.2,2438.6 1531.0,2436.9 1531.7,2435.1 1532.4,2433.3 1533.0,2431.5 1533.6,2429.6 1534.1,2427.7 1534.7,2425.7 1535.1,2423.7 1535.6,2421.7 1536.0,2419.7 1536.4,2417.7 1536.8,2415.7 1537.2,2413.7 1537.5,2411.7 1537.9,2409.7 1538.2,2407.8 1538.5,2405.8 1538.8,2403.8 1539.1,2401.9 1539.4,2399.9 1539.7,2397.9 1540.0,2395.9 1540.2,2393.9 1540.5,2391.9 1540.7,2390.0 1541.0,2388.0 1541.2,2386.0 1541.4,2384.0 1541.6,2382.0 1541.8,2380.0 1542.0,2378.0 1542.3,2376.0 1542.4,2374.0 1542.6,2372.0 1542.8,2370.0 1543.0,2368.0 1543.2,2366.1 1543.4,2364.1 1543.5,2362.1 1543.7,2360.1 1543.9,2358.1 1544.0,2356.1 1544.2,2354.1 1544.3,2352.1 1544.5,2350.1 1544.6,2348.1 1544.7,2346.1 1544.9,2344.1 1545.0,2342.1 1545.2,2340.1 1545.3,2338.1 1545.4,2336.1 1545.6,2334.1 1545.7,2332.1 1545.8,2330.2 1546.0,2328.2 1546.1,2326.2 1546.3,2324.2 1546.4,2322.2 1546.6,2320.2 1546.7,2318.2 1546.9,2316.2 1547.0,2314.2 1547.2,2312.2 1547.3,2310.2 1547.5,2308.2 1547.6,2306.2 1547.8,2304.2 1547.9,2302.2 1548.1,2300.2 1548.2,2298.2 1548.4,2296.2 1548.5,2294.2 1548.7,2292.3 1548.8,2290.3 1549.0,2288.3 1549.1,2286.3 1549.3,2284.3 1549.4,2282.3 1549.5,2280.3 1549.7,2278.3 1549.8,2276.3 1550.0,2274.3 1550.1,2272.3 1550.3,2270.3 1550.4,2268.3 1550.6,2266.3 1550.7,2264.3 1550.8,2262.3 1550.9,2260.3 1551.1,2258.3 1551.2,2256.3 1551.3,2254.3 1551.5,2252.3 1551.6,2250.3 1551.8,2248.3 1551.9,2246.3 1552.0,2244.4 1552.2,2242.4 1552.4,2240.4 1552.5,2238.4 1552.7,2236.4 1552.9,2234.4 1553.0,2232.4 1553.2,2230.4 1553.4,2228.4 1553.7,2226.4 1553.9,2224.5 1554.1,2222.5 1554.4,2220.5 1554.6,2218.5 1554.9,2216.5 1555.2,2214.5 1555.5,2212.5 1555.8,2210.6 1556.1,2208.6 1556.5,2206.6 1556.8,2204.6 1557.2,2202.7 1557.5,2200.7 1557.9,2198.8 1558.3,2196.7 1558.8,2194.3 1559.4,2191.8 1560.0,2189.2 1560.6,2186.8 1561.2,2184.6 1561.7,2182.8 1562.2,2181.5 1562.7,2181.4 1563.0,2181.3 1563.4,2181.5 1563.7,2182.6 1564.0,2184.0 1564.3,2185.8 1564.6,2187.8 1564.8,2190.1 1565.1,2192.6 1565.3,2195.1 1565.6,2197.8 1565.8,2200.4 1566.0,2203.0 1566.3,2205.5 1566.5,2207.8 1566.7,2209.9 1566.9,2211.9 1567.1,2213.9 1567.3,2215.9 1567.5,2217.9 1567.7,2219.9 1567.9,2221.9 1568.1,2223.8 1568.2,2225.8 1568.4,2227.8 1568.6,2229.8 1568.7,2231.8 1568.9,2233.8 1569.1,2235.8 1569.2,2237.8 1569.4,2239.8 1569.6,2241.8 1569.7,2243.8 1569.9,2245.8 1570.1,2247.8 1570.2,2249.8 1570.4,2251.8 1570.5,2253.8 1570.7,2255.7 1570.9,2257.7 1571.1,2259.7 1571.2,2261.7 1571.4,2263.7 1571.6,2265.7 1571.8,2267.7 1572.0,2269.7 1572.1,2271.7 1572.3,2273.7 1572.5,2275.7 1572.7,2277.7 1572.9,2279.6 1573.1,2281.6 1573.2,2283.6 1573.4,2285.6 1573.6,2287.6 1573.8,2289.6 1574.0,2291.6 1574.1,2293.6 1574.3,2295.6 1574.5,2297.6 1574.7,2299.6 1574.8,2301.6 1575.0,2303.6 1575.2,2305.5 1575.3,2307.5 1575.5,2309.5 1575.7,2311.5 1575.8,2313.5 1576.0,2315.5 1576.1,2317.5 1576.2,2319.5 1576.4,2321.5 1576.5,2323.5 1576.7,2325.5 1576.8,2327.5 1576.9,2329.5 1577.0,2331.5 1577.2,2333.5 1577.3,2335.5 1577.4,2337.5 1577.6,2339.5 1577.7,2341.5 1577.9,2343.5 1578.0,2345.5 1578.1,2347.4 1578.3,2349.4 1578.5,2351.4 1578.6,2353.4 1578.8,2355.4 1579.0,2357.4 1579.2,2359.4 1579.4,2361.4 1579.6,2363.4 1579.8,2365.4 1580.0,2367.4 1580.2,2369.3 1580.4,2371.3 1580.6,2373.3 1580.9,2375.3 1581.1,2377.3 1581.3,2379.3 1581.6,2381.3 1581.9,2383.3 1582.1,2385.3 1582.4,2387.2 1582.7,2389.2 1582.9,2391.2 1583.2,2393.2 1583.5,2395.2 1583.8,2397.1 1584.1,2399.1 1584.5,2401.1 1584.8,2403.0 1585.1,2405.0 1585.4,2407.0 1585.8,2409.0 1586.1,2411.0 1586.5,2413.0 1586.8,2415.0 1587.2,2417.0 1587.6,2419.0 1588.0,2421.0 1588.5,2423.0 1588.9,2424.9 1589.4,2426.9 1590.0,2428.8 1590.5,2430.6 1591.1,2432.5 1591.7,2434.3 1592.4,2436.1 1593.3,2437.9 1594.2,2439.6 1595.3,2441.4 1596.4,2443.1 1597.7,2444.7 1599.0,2446.3 1600.3,2447.8 1601.7,2449.0 1603.1,2449.8 1604.7,2450.5 1606.3,2451.1 1608.1,2451.6 1609.9,2452.8 1611.7,2454.0 1613.6,2455.3 1615.5,2456.3 1617.4,2457.0 1619.2,2457.6 1621.1,2458.2 1623.0,2459.0 1624.9,2460.1 1626.8,2461.1 1628.8,2462.1 1630.8,2462.8 1632.7,2463.4 1634.7,2464.0 1636.7,2464.2 1638.7,2464.1 1640.7,2463.9 1642.7,2463.6 1644.6,2463.5 1646.6,2463.4 1648.6,2463.3 1650.6,2463.0 1652.6,2462.5 1654.6,2461.9 1656.6,2461.3 1658.6,2461.3 1660.6,2461.5 1662.6,2461.6 1664.5,2461.7 1666.4,2461.4 1668.3,2461.0 1670.2,2460.5 1672.1,2459.8 1674.0,2459.1 1675.8,2458.3 1677.7,2457.5 1679.5,2456.4 1681.4,2455.1 1683.3,2454.0 1685.1,2453.0 1687.0,2453.3 1688.9,2453.7 1690.9,2454.3 1692.8,2454.4 1694.8,2453.9 1696.8,2453.5 1698.8,2453.0 1700.8,2452.5 1702.8,2451.9 1704.9,2451.3 1706.9,2450.8 1708.9,2450.5 1710.9,2450.2 1712.9,2449.8 1714.8,2449.6 1716.7,2449.4 1718.7,2449.1 1720.8,2448.7 1722.8,2448.3 1724.9,2447.9 1726.9,2447.4 1728.9,2446.6 1730.8,2445.7 1732.6,2444.8 1734.3,2443.8 1735.8,2443.0 1737.2,2442.0 1738.5,2440.8 1739.7,2439.4 1740.8,2437.6 1741.9,2435.8 1742.9,2433.8 1743.8,2431.8 1744.6,2429.9 1745.4,2428.0 1746.0,2426.2 1746.6,2424.3 1747.2,2422.4 1747.8,2420.5 1748.3,2418.6 1748.8,2416.6 1749.3,2414.6 1749.7,2412.6 1750.1,2410.7 1750.5,2408.7 1750.9,2406.7 1751.2,2404.7 1751.6,2402.8 1751.9,2400.8 1752.2,2398.8 1752.6,2396.9 1752.9,2394.9 1753.1,2392.9 1753.4,2390.9 1753.7,2389.0 1754.0,2387.0 1754.2,2385.0 1754.5,2383.0 1754.7,2381.0 1754.9,2379.0 1755.2,2377.0 1755.4,2375.0 1755.6,2373.0 1755.8,2371.0 1756.0,2369.1 1756.2,2367.1 1756.4,2365.1 1756.6,2363.1 1756.8,2361.1 1757.0,2359.1 1757.2,2357.1 1757.3,2355.1 1757.5,2353.1 1757.7,2351.1 1757.8,2349.2 1758.0,2347.2 1758.1,2345.2 1758.3,2343.2 1758.4,2341.2 1758.6,2339.2 1758.7,2337.2 1758.9,2335.2 1759.0,2333.2 1759.2,2331.2 1759.3,2329.2 1759.5,2327.2 1759.6,2325.2 1759.8,2323.2 1759.9,2321.2 1760.1,2319.2 1760.2,2317.2 1760.4,2315.2 1760.5,2313.2 1760.7,2311.2 1760.8,2309.3 1761.0,2307.3 1761.1,2305.3 1761.3,2303.3 1761.4,2301.3 1761.6,2299.3 1761.7,2297.3 1761.9,2295.3 1762.0,2293.3 1762.2,2291.3 1762.3,2289.3 1762.5,2287.3 1762.6,2285.3 1762.8,2283.3 1762.9,2281.3 1763.1,2279.3 1763.2,2277.3 1763.4,2275.3 1763.5,2273.4 1763.7,2271.4 1763.8,2269.4 1764.0,2267.4 1764.2,2265.4 1764.3,2263.4 1764.5,2261.4 1764.7,2259.4 1764.8,2257.4 1765.0,2255.4 1765.2,2253.4 1765.4,2251.4 1765.5,2249.4 1765.7,2247.4 1765.9,2245.5 1766.1,2243.5 1766.3,2241.5 1766.4,2239.5 1766.6,2237.5 1766.8,2235.5 1767.0,2233.5 1767.2,2231.5 1767.4,2229.5 1767.6,2227.5 1767.9,2225.5 1768.1,2223.6 1768.3,2221.6 1768.6,2219.6 1768.8,2217.6 1769.1,2215.5 1769.4,2213.2 1769.7,2210.7 1770.1,2208.1 1770.4,2205.5 1770.8,2203.0 1771.2,2200.6 1771.5,2198.6 1771.9,2196.9 1772.3,2195.6 1772.6,2195.0 1772.9,2195.0 1773.3,2195.4 1773.6,2196.3 1773.9,2197.8 1774.3,2199.5 1774.6,2201.6 1774.9,2203.9 1775.2,2206.4 1775.5,2209.0 1775.8,2211.6 1776.1,2214.2 1776.4,2216.8 1776.7,2219.1 1776.9,2221.3 1777.2,2223.3 1777.4,2225.3 1777.7,2227.3 1777.9,2229.3 1778.1,2231.2 1778.4,2233.2 1778.6,2235.2 1778.8,2237.2 1779.0,2239.2 1779.2,2241.2 1779.5,2243.2 1779.7,2245.2 1779.9,2247.2 1780.0,2249.2 1780.2,2251.1 1780.4,2253.1 1780.6,2255.1 1780.8,2257.1 1781.0,2259.1 1781.2,2261.1 1781.3,2263.1 1781.5,2265.1 1781.7,2267.1 1781.8,2269.1 1782.0,2271.1 1782.1,2273.1 1782.3,2275.1 1782.4,2277.1 1782.5,2279.0 1782.7,2281.0 1782.8,2283.0 1782.9,2285.0 1783.1,2287.0 1783.2,2289.0 1783.3,2291.0 1783.5,2293.0 1783.6,2295.0 1783.7,2297.0 1783.8,2299.0 1784.0,2301.0 1784.1,2303.0 1784.2,2305.0 1784.4,2307.0 1784.5,2309.0 1784.6,2311.0 1784.8,2313.0 1784.9,2315.0 1785.1,2317.0 1785.2,2319.0 1785.4,2321.0 1785.5,2322.9 1785.7,2324.9 1785.9,2326.9 1786.0,2328.9 1786.2,2330.9 1786.4,2332.9 1786.6,2334.9 1786.7,2336.9 1786.9,2338.9 1787.1,2340.9 1787.3,2342.9 1787.5,2344.9 1787.7,2346.9 1787.9,2348.8 1788.1,2350.8 1788.3,2352.8 1788.5,2354.8 1788.7,2356.8 1788.9,2358.8 1789.1,2360.8 1789.3,2362.8 1789.5,2364.8 1789.7,2366.7 1789.9,2368.7 1790.2,2370.7 1790.4,2372.7 1790.6,2374.7 1790.8,2376.7 1791.0,2378.7 1791.2,2380.7 1791.4,2382.7 1791.6,2384.7 1791.8,2386.7 1792.1,2388.7 1792.3,2390.7 1792.5,2392.7 1792.8,2394.7 1793.0,2396.7 1793.3,2398.6 1793.6,2400.6 1793.9,2402.6 1794.2,2404.5 1794.5,2406.5 1794.9,2408.4 1795.3,2410.4 1795.7,2412.3 1796.2,2414.3 1796.7,2416.3 1797.2,2418.2 1797.8,2420.2 1798.4,2422.2 1799.0,2424.1 1799.7,2426.0 1800.4,2427.9 1801.2,2429.8 1802.0,2431.6 1802.8,2433.4 1803.6,2435.2 1804.5,2436.8 1805.5,2438.5 1806.6,2440.4 1807.8,2442.3 1809.1,2444.2 1810.5,2446.2 1811.9,2447.7 1813.4,2448.8 1814.9,2449.7 1816.4,2450.5 1818.0,2451.2 1819.6,2452.5 1821.3,2453.8 1823.1,2455.1 1824.9,2456.2 1826.7,2457.2 1828.6,2458.0 1830.5,2458.7 1832.4,2459.3 1834.4,2459.3 1836.4,2459.3 1838.4,2459.2 1840.5,2459.4 1842.5,2459.7 1844.4,2459.9 1846.4,2459.8 1848.5,2459.4 1850.5,2458.9 1852.5,2458.3 1854.5,2457.6 1856.5,2457.0 1858.4,2456.3 1860.2,2455.7 1861.9,2455.1 1863.6,2454.3 1865.3,2453.3 1867.0,2452.1 1868.5,2450.6 1870.0,2449.1 1871.4,2447.5 1872.7,2446.1 1873.8,2444.6 1874.9,2443.1 1875.9,2441.5 1876.8,2439.8 1877.7,2437.9 1878.6,2436.1 1879.5,2434.3 1880.5,2432.6 1881.5,2431.0 1882.5,2429.0 1883.5,2426.8 1884.5,2424.6 1885.6,2422.7 1886.7,2421.0 1888.0,2419.7 1889.5,2420.0 1891.5,2420.6 1893.7,2421.3 1895.7,2421.2 1897.3,2420.4 1898.8,2420.7 1900.2,2422.2 1901.5,2424.4 1902.7,2426.7 1903.9,2428.6 1905.2,2430.1 1906.5,2431.2 1907.8,2432.1 1909.3,2432.2 1910.8,2431.2 1912.4,2429.7 1913.9,2428.0 1915.3,2426.0 1916.5,2424.1 1917.4,2422.3 1918.2,2420.6 1918.9,2418.8 1919.6,2416.9 1920.2,2415.0 1920.8,2413.0 1921.3,2411.0 1921.8,2409.0 1922.3,2407.0 1922.7,2405.0 1923.1,2403.1 1923.4,2401.1 1923.7,2399.2 1924.1,2397.2 1924.4,2395.2 1924.7,2393.2 1924.9,2391.3 1925.2,2389.3 1925.4,2387.3 1925.7,2385.3 1925.9,2383.3 1926.2,2381.3 1926.4,2379.3 1926.6,2377.3 1926.8,2375.3 1927.0,2373.3 1927.3,2371.3 1927.5,2369.3 1927.7,2367.4 1927.9,2365.4 1928.2,2363.4 1928.4,2361.4 1928.6,2359.4 1928.8,2357.4 1929.0,2355.4 1929.2,2353.4 1929.4,2351.4 1929.6,2349.4 1929.7,2347.5 1929.9,2345.5 1930.1,2343.5 1930.3,2341.5 1930.5,2339.5 1930.7,2337.5 1930.9,2335.5 1931.1,2333.5 1931.3,2331.5 1931.5,2329.5 1931.7,2327.5 1931.9,2325.6 1932.1,2323.6 1932.3,2321.6 1932.5,2319.6 1932.7,2317.6 1932.9,2315.6 1933.1,2313.6 1933.4,2311.6 1933.6,2309.6 1933.8,2307.7 1934.0,2305.7 1934.2,2303.7 1934.4,2301.7 1934.7,2299.7 1934.9,2297.7 1935.1,2295.7 1935.4,2293.7 1935.6,2291.8 1935.9,2289.8 1936.2,2287.8 1936.4,2285.8 1936.7,2283.8 1937.0,2281.9 1937.3,2279.9 1937.7,2277.9 1938.0,2275.9 1938.4,2274.0 1938.8,2272.0 1939.1,2270.0 1939.5,2268.1 1940.0,2266.1 1940.4,2264.2 1940.8,2262.2 1941.3,2260.3 1941.8,2258.3 1942.3,2255.9 1942.9,2253.4 1943.4,2251.1 1944.0,2249.4 1944.6,2248.4 1945.1,2249.1 1945.7,2250.4 1946.2,2252.2 1946.8,2254.5 1947.3,2257.0 1947.8,2259.6 1948.2,2262.0 1948.6,2264.1 1949.0,2266.1 1949.3,2268.1 1949.6,2270.0 1949.9,2272.0 1950.2,2274.0 1950.5,2276.0 1950.7,2277.9 1951.0,2279.9 1951.2,2281.9 1951.5,2283.9 1951.7,2285.9 1951.9,2287.9 1952.2,2289.9 1952.4,2291.9 1952.6,2293.9 1952.9,2295.9 1953.1,2297.8 1953.4,2299.8 1953.7,2301.8 1953.9,2303.8 1954.2,2305.8 1954.4,2307.8 1954.7,2309.7 1954.9,2311.7 1955.2,2313.7 1955.4,2315.7 1955.7,2317.7 1955.9,2319.7 1956.2,2321.7 1956.5,2323.6 1956.7,2325.6 1957.0,2327.6 1957.3,2329.6 1957.6,2331.5 1957.9,2333.5 1958.2,2335.5 1958.6,2337.5 1958.9,2339.5 1959.2,2341.4 1959.5,2343.4 1959.9,2345.4 1960.3,2347.4 1960.7,2349.4 1961.1,2351.3 1961.5,2353.3 1962.0,2355.2 1962.5,2357.1 1963.0,2359.1 1963.6,2361.4 1964.3,2363.9 1965.1,2366.3 1965.9,2368.4 1966.7,2370.3 1967.6,2371.6 1968.6,2372.0 1969.6,2371.4 1970.8,2370.0 1972.1,2368.1 1973.5,2365.8 1974.9,2363.5 1976.3,2361.2 1977.6,2359.2 1978.9,2357.7 1980.1,2357.2 1981.3,2357.7 1982.4,2359.1 1983.5,2361.0 1984.6,2363.1 1985.5,2365.4 1986.4,2367.6 1987.1,2369.6 1987.7,2371.4 1988.3,2373.3 1988.8,2375.2 1989.3,2377.1 1989.7,2379.1 1990.1,2381.0 1990.5,2383.0 1990.9,2385.0 1991.3,2387.0 1991.7,2389.0 1992.1,2391.0 1992.5,2393.0 1992.9,2394.9 1993.3,2396.9 1993.8,2398.9 1994.3,2400.8 1994.8,2402.7 1995.2,2404.7 1995.7,2406.6 1996.2,2408.6 1996.7,2410.6 1997.2,2412.5 1997.7,2414.5 1998.3,2416.4 1998.8,2418.3 1999.4,2420.3 1999.9,2422.2 2000.5,2424.1 2001.2,2426.0 2001.8,2427.9 2002.5,2429.7 2003.2,2431.6 2003.9,2433.4 2004.7,2435.2 2005.6,2437.0 2006.5,2439.0 2007.5,2441.0 2008.5,2443.0 2009.5,2444.8 2010.6,2446.6 2011.8,2448.2 2013.0,2449.7 2014.2,2451.2 2015.6,2452.7 2017.0,2454.2 2018.5,2455.6 2020.0,2456.9 2021.6,2458.2 2023.3,2459.5 2024.9,2460.6 2026.6,2461.7 2028.3,2462.8 2030.1,2464.0 2031.9,2465.3 2033.8,2466.4 2035.7,2467.3 2037.6,2467.7 2039.5,2468.0 2041.5,2468.2 2043.4,2469.0 2045.4,2470.0 2047.4,2470.8 2049.3,2471.3 2051.3,2471.0 2053.2,2470.6 2055.2,2470.2 2057.3,2469.8 2059.3,2469.4 2061.4,2469.0 2063.5,2468.7 2065.5,2469.1 2067.6,2469.4 2069.6,2469.8 2071.6,2468.5 2073.6,2466.9 2075.5,2465.3 2077.3,2464.0 2079.1,2464.2 2080.9,2464.1 2082.6,2463.8 2084.2,2463.1 2085.9,2462.0 2087.4,2460.7 2089.0,2459.5 2090.5,2458.3 2092.0,2456.9 2093.4,2455.3 2094.9,2453.7 2096.2,2452.1" fill="none" stroke="#4b4b80" stroke-width="4.8" stroke-dasharray="30 34 22 40"/>
<polyline points="329.0,2405.9 330.8,2406.8 332.6,2407.7 334.4,2408.5 336.3,2408.9 338.1,2409.2 339.9,2409.4 341.8,2410.1 343.6,2411.4 345.5,2412.6 347.4,2413.8 349.3,2414.5 351.2,2414.9 353.1,2415.3 355.0,2415.5 356.9,2415.8 358.9,2416.0 360.8,2416.3 362.8,2416.4 364.8,2416.3 366.8,2416.2 368.8,2416.1 370.8,2416.3 372.8,2416.6 374.9,2416.9 376.9,2417.0 378.9,2416.9 380.9,2416.8 382.9,2416.8 385.0,2416.6 387.0,2416.4 389.0,2416.3 390.9,2416.6 392.9,2417.6 394.9,2418.5 396.9,2419.6 398.8,2419.9 400.8,2420.3 402.7,2420.7 404.7,2421.2 406.7,2421.9 408.6,2422.6 410.6,2423.4 412.5,2423.4 414.5,2423.4 416.4,2423.3 418.4,2423.3 420.4,2423.6 422.3,2423.8 424.3,2424.1 426.2,2424.4 428.2,2424.8 430.2,2425.2 432.1,2425.5 434.1,2425.7 436.0,2425.8 438.0,2425.9 439.9,2426.6 441.9,2427.9 443.8,2429.2 445.8,2430.5 447.8,2430.4 449.7,2430.1 451.7,2429.7 453.7,2429.6 455.6,2429.9 457.6,2430.1 459.6,2430.3 461.6,2430.7 463.5,2431.2 465.5,2431.7 467.5,2432.2 469.5,2433.0 471.5,2433.7 473.5,2434.4 475.6,2434.3 477.6,2434.0 479.6,2433.7 481.6,2433.4 483.6,2433.0 485.6,2432.7 487.6,2432.3 489.6,2432.4 491.6,2432.5 493.5,2432.7 495.5,2432.9 497.5,2433.3 499.4,2433.5 501.4,2433.7 503.4,2433.2 505.3,2432.4 507.3,2431.6 509.2,2430.7 511.1,2429.8 513.0,2429.0 515.0,2428.1 516.9,2427.5 518.8,2427.0 520.6,2426.3 522.5,2425.5 524.3,2424.9 526.2,2424.4 528.1,2424.0 529.9,2423.9 531.9,2424.4 534.0,2425.4 536.1,2426.5 537.8,2426.7 539.0,2425.3 540.1,2422.9 541.0,2420.6" fill="none" stroke="#26266f" stroke-width="4.3" stroke-linecap="round"/>
<polyline points="542.6,2415.4 543.4,2413.1 544.2,2410.9 545.0,2409.3 545.8,2410.3 546.5,2412.4 547.2,2414.2" fill="none" stroke="#26266f" stroke-width="4.3" stroke-linecap="round"/>
<polyline points="552.4,2426.4 553.7,2427.5 555.3,2428.6 557.1,2429.6 559.0,2430.3 561.0,2430.6 563.0,2430.7 565.0,2430.6 566.9,2431.2 568.8,2431.8 570.7,2432.4 572.7,2432.9 574.6,2432.9 576.6,2433.0 578.6,2433.0 580.6,2433.7 582.6,2434.5 584.7,2435.3 586.7,2435.6 588.8,2435.2 590.8,2434.8 592.8,2434.4 594.9,2433.9 596.9,2433.4 598.9,2432.9 600.9,2433.0 602.9,2433.8 604.9,2434.5 606.9,2435.3 608.9,2434.9 610.9,2434.5 612.9,2434.1 615.0,2433.6 617.0,2433.0 619.0,2432.4 621.0,2431.8 623.0,2432.0 625.0,2432.2 627.0,2432.5 628.9,2432.5 630.9,2432.3 632.9,2432.1 634.9,2431.9 636.9,2431.7 638.8,2431.3 640.8,2430.9 642.8,2430.7 644.8,2430.6 646.8,2430.5 648.8,2430.3 650.8,2429.1 652.7,2427.8 654.7,2426.5 656.6,2425.6 658.4,2425.6 660.2,2425.5 662.0,2425.4 663.8,2425.1 665.6,2424.6 667.4,2423.9 669.2,2423.1 670.9,2422.0 672.5,2420.6 674.1,2419.2 675.6,2417.8 677.0,2416.3 678.3,2414.9" fill="none" stroke="#26266f" stroke-width="4.3" stroke-linecap="round"/>
<polyline points="724.0,1806.2 724.1,1805.3 724.2,1804.7 724.4,1803.6 724.5,1804.4 724.6,1804.9 724.7,1805.6" fill="none" stroke="#26266f" stroke-width="4.3" stroke-linecap="round"/>
<polyline points="762.9,2393.9 764.5,2395.2 766.2,2396.3 767.9,2397.0 769.6,2398.1 771.2,2399.0 772.7,2399.5 774.3,2399.4 775.9,2398.8 777.7,2397.7 779.4,2396.3 781.1,2394.7 782.7,2392.9" fill="none" stroke="#26266f" stroke-width="4.3" stroke-linecap="round"/>
<polyline points="813.9,1920.7 814.1,1919.1 814.3,1918.0 814.5,1917.2 814.6,1917.3 814.8,1917.2 814.9,1917.7 815.0,1918.4 815.2,1919.4" fill="none" stroke="#26266f" stroke-width="4.3" stroke-linecap="round"/>
<polyline points="837.9,2339.2 838.5,2340.6 839.1,2341.7 839.7,2342.1 840.3,2341.6 840.8,2340.4 841.4,2339.0" fill="none" stroke="#26266f" stroke-width="4.3" stroke-linecap="round"/>
<polyline points="873.5,1572.1 873.7,1570.7 873.9,1569.6 874.2,1568.9 874.4,1569.5 874.7,1568.9 875.1,1569.9 875.6,1571.8 876.1,1574.1" fill="none" stroke="#26266f" stroke-width="4.3" stroke-linecap="round"/>
<polyline points="929.6,2421.0 930.9,2422.2 932.3,2423.3 933.8,2424.4 935.3,2425.3 936.9,2426.5 938.5,2428.1 940.1,2429.6 941.7,2431.0 943.3,2432.4 945.0,2433.3 946.7,2434.3 948.5,2435.3 950.4,2436.2 952.2,2437.0 954.1,2437.7 956.1,2438.4 958.0,2439.0 960.0,2439.5 961.9,2439.9 963.9,2440.3 965.8,2441.2 967.7,2442.1 969.7,2443.1 971.6,2443.8 973.5,2444.0 975.5,2444.2 977.4,2444.4 979.4,2444.9 981.4,2445.5 983.4,2446.1 985.3,2446.7 987.3,2447.4 989.3,2448.0 991.3,2448.6 993.3,2448.7 995.2,2448.4 997.2,2448.1 999.2,2447.8 1001.2,2448.1 1003.2,2448.4 1005.1,2448.5 1007.1,2449.0 1009.1,2449.7 1011.2,2450.4 1013.2,2450.8 1015.2,2450.1 1017.2,2449.3 1019.1,2448.5 1021.1,2447.4 1023.0,2446.3 1024.9,2445.1 1026.8,2443.6 1028.7,2442.8 1030.5,2442.0 1032.2,2441.6 1033.8,2442.0 1035.3,2443.0 1036.6,2444.6" fill="none" stroke="#26266f" stroke-width="4.3" stroke-linecap="round"/>
<polyline points="1040.7,2450.3 1042.3,2451.9 1043.9,2453.2 1045.6,2454.5 1047.4,2455.8 1049.3,2456.5 1051.2,2456.9 1053.0,2457.1 1054.9,2457.1 1056.8,2457.2 1058.7,2457.3 1060.7,2457.4 1062.6,2457.5 1064.6,2457.7 1066.6,2457.8 1068.6,2458.0 1070.6,2458.6 1072.6,2459.2 1074.6,2459.9 1076.6,2460.4 1078.6,2460.4 1080.7,2460.4 1082.7,2460.5 1084.7,2460.3 1086.7,2460.1 1088.8,2460.0 1090.8,2459.9 1092.8,2460.1 1094.8,2460.3 1096.8,2460.5 1098.8,2460.5 1100.8,2460.4 1102.8,2460.4 1104.8,2460.6 1106.8,2461.0 1108.8,2461.5 1110.8,2461.9 1112.8,2461.5 1114.9,2461.1 1116.9,2460.7 1118.9,2460.6 1120.9,2461.0 1122.9,2461.5 1124.9,2461.9 1126.9,2462.1 1128.9,2462.3 1131.0,2462.4 1133.0,2462.5 1135.0,2462.4 1137.0,2462.3 1139.0,2462.2 1141.0,2461.8 1143.0,2461.3 1145.0,2460.9 1147.0,2461.1 1149.0,2461.8 1151.0,2462.6 1153.0,2463.4 1155.0,2462.7 1156.9,2462.0 1158.9,2461.3 1160.9,2461.1 1162.9,2461.5 1164.9,2461.9 1166.8,2462.3 1168.8,2461.9 1170.8,2461.2 1172.8,2460.4 1174.8,2459.5 1176.7,2458.5 1178.6,2457.5 1180.5,2456.5 1182.2,2456.1 1184.0,2455.8 1185.7,2455.3 1187.4,2454.5 1189.0,2453.4 1190.5,2451.9 1191.9,2450.4" fill="none" stroke="#26266f" stroke-width="4.3" stroke-linecap="round"/>
<polyline points="1196.4,2440.0 1197.2,2438.2 1198.2,2437.3 1199.2,2437.2 1200.5,2438.1 1201.9,2439.7 1203.4,2441.7 1204.9,2443.8 1206.5,2445.5 1208.1,2446.7 1209.7,2446.8 1211.4,2446.2 1213.3,2445.4 1215.3,2444.3 1217.2,2443.2 1219.2,2442.1 1221.1,2440.8 1223.0,2439.5 1224.6,2438.3 1226.1,2437.0" fill="none" stroke="#26266f" stroke-width="4.3" stroke-linecap="round"/>
<polyline points="1254.3,2260.0 1254.7,2258.4 1255.2,2257.4 1255.6,2257.2 1256.1,2257.5 1256.5,2258.5 1257.0,2260.2" fill="none" stroke="#26266f" stroke-width="4.3" stroke-linecap="round"/>
<polyline points="1288.4,2448.2 1289.8,2449.3 1291.4,2450.3 1293.0,2451.3 1294.8,2452.6 1296.6,2453.9 1298.4,2455.1 1300.3,2456.2 1302.1,2457.3 1303.9,2458.1 1305.7,2459.0 1307.6,2459.6 1309.6,2460.0 1311.6,2460.4 1313.6,2460.8 1315.6,2461.4 1317.7,2462.1 1319.7,2462.8 1321.7,2463.1 1323.6,2462.7 1325.6,2462.3 1327.6,2461.9 1329.6,2462.4 1331.6,2463.1 1333.6,2463.8 1335.5,2464.4 1337.5,2464.5 1339.5,2464.6 1341.5,2464.7 1343.5,2464.7 1345.5,2464.7 1347.5,2464.7 1349.5,2464.8 1351.5,2465.3 1353.5,2465.8 1355.5,2466.3 1357.5,2466.5 1359.5,2466.5 1361.4,2466.6 1363.4,2466.6 1365.4,2466.3 1367.4,2466.0 1369.4,2465.7 1371.4,2466.3 1373.4,2467.1 1375.4,2467.9 1377.4,2468.4 1379.4,2467.7 1381.4,2467.0 1383.4,2466.3 1385.4,2466.5 1387.4,2467.0 1389.4,2467.4 1391.4,2467.8 1393.4,2467.7 1395.4,2467.7 1397.4,2467.7 1399.4,2467.8 1401.5,2468.0 1403.5,2468.1 1405.5,2468.1 1407.5,2467.7 1409.5,2467.3 1411.5,2466.9 1413.5,2467.0 1415.5,2467.2 1417.4,2467.5 1419.4,2467.6 1421.3,2467.3 1423.2,2466.8 1425.1,2466.0 1427.0,2465.3 1428.9,2464.8 1430.7,2464.2 1432.6,2463.7 1434.5,2462.5 1436.4,2461.3 1438.3,2460.4 1440.2,2459.8 1442.2,2460.2 1444.2,2460.6 1446.3,2461.1 1448.4,2461.5 1450.5,2461.7 1452.5,2461.9 1454.6,2462.1 1456.7,2462.1 1458.7,2462.1 1460.7,2462.0 1462.6,2463.4 1464.5,2464.9 1466.3,2466.2 1468.0,2467.4 1469.7,2466.2 1471.2,2464.1 1472.7,2461.9 1474.1,2459.7 1475.6,2457.7 1477.0,2455.9 1478.5,2454.2 1480.0,2452.4 1481.5,2450.5 1482.9,2448.8 1484.4,2447.6 1485.9,2446.8 1487.4,2446.7 1488.9,2447.0 1490.4,2446.8 1491.9,2447.1 1493.4,2448.1 1494.9,2449.6" fill="none" stroke="#26266f" stroke-width="4.3" stroke-linecap="round"/>
<polyline points="1497.9,2453.3 1499.5,2455.0 1501.1,2456.5 1502.7,2457.4 1504.5,2457.5 1506.3,2457.3 1508.2,2457.0 1510.2,2456.4 1512.2,2455.1 1514.1,2453.6 1516.1,2452.1 1517.9,2450.9 1519.6,2449.9 1521.2,2448.9 1522.7,2447.9 1524.1,2446.6 1525.5,2445.2" fill="none" stroke="#26266f" stroke-width="4.3" stroke-linecap="round"/>
<polyline points="1561.7,2182.8 1562.2,2181.5 1562.7,2181.4 1563.0,2181.3 1563.4,2181.5 1563.7,2182.6 1564.0,2184.0" fill="none" stroke="#26266f" stroke-width="4.3" stroke-linecap="round"/>
<polyline points="1599.0,2446.3 1600.3,2447.8 1601.7,2449.0 1603.1,2449.8 1604.7,2450.5 1606.3,2451.1 1608.1,2451.6 1609.9,2452.8 1611.7,2454.0 1613.6,2455.3 1615.5,2456.3 1617.4,2457.0 1619.2,2457.6 1621.1,2458.2 1623.0,2459.0 1624.9,2460.1 1626.8,2461.1 1628.8,2462.1 1630.8,2462.8 1632.7,2463.4 1634.7,2464.0 1636.7,2464.2 1638.7,2464.1 1640.7,2463.9 1642.7,2463.6 1644.6,2463.5 1646.6,2463.4 1648.6,2463.3 1650.6,2463.0 1652.6,2462.5 1654.6,2461.9 1656.6,2461.3 1658.6,2461.3 1660.6,2461.5 1662.6,2461.6 1664.5,2461.7 1666.4,2461.4 1668.3,2461.0 1670.2,2460.5 1672.1,2459.8 1674.0,2459.1 1675.8,2458.3 1677.7,2457.5 1679.5,2456.4 1681.4,2455.1 1683.3,2454.0 1685.1,2453.0 1687.0,2453.3 1688.9,2453.7 1690.9,2454.3 1692.8,2454.4 1694.8,2453.9 1696.8,2453.5 1698.8,2453.0 1700.8,2452.5 1702.8,2451.9 1704.9,2451.3 1706.9,2450.8 1708.9,2450.5 1710.9,2450.2 1712.9,2449.8 1714.8,2449.6 1716.7,2449.4 1718.7,2449.1 1720.8,2448.7 1722.8,2448.3 1724.9,2447.9 1726.9,2447.4 1728.9,2446.6 1730.8,2445.7 1732.6,2444.8 1734.3,2443.8 1735.8,2443.0 1737.2,2442.0 1738.5,2440.8" fill="none" stroke="#26266f" stroke-width="4.3" stroke-linecap="round"/>
<polyline points="1771.5,2198.6 1771.9,2196.9 1772.3,2195.6 1772.6,2195.0 1772.9,2195.0 1773.3,2195.4 1773.6,2196.3" fill="none" stroke="#26266f" stroke-width="4.3" stroke-linecap="round"/>
<polyline points="1809.1,2444.2 1810.5,2446.2 1811.9,2447.7 1813.4,2448.8 1814.9,2449.7 1816.4,2450.5 1818.0,2451.2 1819.6,2452.5 1821.3,2453.8 1823.1,2455.1 1824.9,2456.2 1826.7,2457.2 1828.6,2458.0 1830.5,2458.7 1832.4,2459.3 1834.4,2459.3 1836.4,2459.3 1838.4,2459.2 1840.5,2459.4 1842.5,2459.7 1844.4,2459.9 1846.4,2459.8 1848.5,2459.4 1850.5,2458.9 1852.5,2458.3 1854.5,2457.6 1856.5,2457.0 1858.4,2456.3 1860.2,2455.7 1861.9,2455.1 1863.6,2454.3 1865.3,2453.3 1867.0,2452.1 1868.5,2450.6 1870.0,2449.1 1871.4,2447.5" fill="none" stroke="#26266f" stroke-width="4.3" stroke-linecap="round"/>
<polyline points="1884.5,2424.6 1885.6,2422.7 1886.7,2421.0 1888.0,2419.7 1889.5,2420.0 1891.5,2420.6 1893.7,2421.3 1895.7,2421.2 1897.3,2420.4 1898.8,2420.7 1900.2,2422.2 1901.5,2424.4" fill="none" stroke="#26266f" stroke-width="4.3" stroke-linecap="round"/>
<polyline points="1905.2,2430.1 1906.5,2431.2 1907.8,2432.1 1909.3,2432.2 1910.8,2431.2 1912.4,2429.7 1913.9,2428.0" fill="none" stroke="#26266f" stroke-width="4.3" stroke-linecap="round"/>
<polyline points="1942.9,2253.4 1943.4,2251.1 1944.0,2249.4 1944.6,2248.4 1945.1,2249.1 1945.7,2250.4 1946.2,2252.2" fill="none" stroke="#26266f" stroke-width="4.3" stroke-linecap="round"/>
<polyline points="1965.9,2368.4 1966.7,2370.3 1967.6,2371.6 1968.6,2372.0 1969.6,2371.4 1970.8,2370.0 1972.1,2368.1" fill="none" stroke="#26266f" stroke-width="4.3" stroke-linecap="round"/>
<polyline points="1976.3,2361.2 1977.6,2359.2 1978.9,2357.7 1980.1,2357.2 1981.3,2357.7 1982.4,2359.1 1983.5,2361.0" fill="none" stroke="#26266f" stroke-width="4.3" stroke-linecap="round"/>
<polyline points="2014.2,2451.2 2015.6,2452.7 2017.0,2454.2 2018.5,2455.6 2020.0,2456.9 2021.6,2458.2 2023.3,2459.5 2024.9,2460.6 2026.6,2461.7 2028.3,2462.8 2030.1,2464.0 2031.9,2465.3 2033.8,2466.4 2035.7,2467.3 2037.6,2467.7 2039.5,2468.0 2041.5,2468.2 2043.4,2469.0 2045.4,2470.0 2047.4,2470.8 2049.3,2471.3 2051.3,2471.0 2053.2,2470.6 2055.2,2470.2 2057.3,2469.8 2059.3,2469.4 2061.4,2469.0 2063.5,2468.7 2065.5,2469.1 2067.6,2469.4 2069.6,2469.8 2071.6,2468.5 2073.6,2466.9 2075.5,2465.3 2077.3,2464.0 2079.1,2464.2 2080.9,2464.1 2082.6,2463.8 2084.2,2463.1 2085.9,2462.0 2087.4,2460.7 2089.0,2459.5 2090.5,2458.3 2092.0,2456.9 2093.4,2455.3 2094.9,2453.7 2096.2,2452.1" fill="none" stroke="#26266f" stroke-width="4.3" stroke-linecap="round"/>
</g>
<line x1="329.5" y1="1508" x2="329.5" y2="1569" stroke="#3a3a3a" stroke-width="6.2" filter="url(#bl3)"/>
<line x1="329.7" y1="1567" x2="329.7" y2="2493" stroke="#161616" stroke-width="7" filter="url(#bl3)"/>
<line x1="325.5" y1="2489.8" x2="2098.5" y2="2489.8" stroke="#474747" stroke-width="6.6" filter="url(#bl3)"/>
<line x1="669.4" y1="2480.5" x2="669.4" y2="2488" stroke="#2a2a2a" stroke-width="4.5" filter="url(#bl3)"/>
<line x1="1005.4" y1="2480.5" x2="1005.4" y2="2488" stroke="#2a2a2a" stroke-width="4.5" filter="url(#bl3)"/>
<line x1="1341.6" y1="2480.5" x2="1341.6" y2="2488" stroke="#2a2a2a" stroke-width="4.5" filter="url(#bl3)"/>
<line x1="1678" y1="2480.5" x2="1678" y2="2488" stroke="#2a2a2a" stroke-width="4.5" filter="url(#bl3)"/>
<line x1="2015.3" y1="2480.5" x2="2015.3" y2="2488" stroke="#2a2a2a" stroke-width="4.5" filter="url(#bl3)"/>
<g class="tx">
<text class="se" x="333" y="2601.3" font-size="81.5" text-anchor="middle" textLength="83" lengthAdjust="spacingAndGlyphs">20</text>
<text class="se" x="664.4" y="2601.8" font-size="81.5" text-anchor="middle" textLength="83" lengthAdjust="spacingAndGlyphs">30</text>
<text class="se" x="995.5" y="2601.3" font-size="81.5" text-anchor="middle" textLength="83" lengthAdjust="spacingAndGlyphs">40</text>
<text class="se" x="1335.7" y="2601.3" font-size="81.5" text-anchor="middle" textLength="83" lengthAdjust="spacingAndGlyphs">50</text>
<text class="se" x="1680.8" y="2601.3" font-size="81.5" text-anchor="middle" textLength="83" lengthAdjust="spacingAndGlyphs">60</text>
<text class="se" x="2024.6" y="2596.3" font-size="81.5" text-anchor="middle" textLength="83" lengthAdjust="spacingAndGlyphs">70</text>
<text class="se" transform="translate(743,1758) rotate(-90)" font-size="56" textLength="80" lengthAdjust="spacingAndGlyphs">100</text>
<text class="se" transform="translate(829.5,1876.5) rotate(-90)" font-size="56" textLength="80" lengthAdjust="spacingAndGlyphs">002</text>
<text class="se" transform="translate(895.5,1531.5) rotate(-90)" font-size="56" textLength="75" lengthAdjust="spacingAndGlyphs">101</text>
<text class="se" transform="translate(1272.5,2219.5) rotate(-90)" font-size="56" textLength="79.5" lengthAdjust="spacingAndGlyphs">102</text>
<text class="se" transform="translate(1584,2143.5) rotate(-90)" font-size="56" textLength="78.5" lengthAdjust="spacingAndGlyphs">110</text>
<text class="se" transform="translate(1790,2155.5) rotate(-90)" font-size="56" textLength="77.5" lengthAdjust="spacingAndGlyphs">103</text>
<text class="se" transform="translate(1886.5,2366.5) rotate(-90)" font-size="56" textLength="84" lengthAdjust="spacingAndGlyphs">200</text>
<text class="se" transform="translate(1973,2206.5) rotate(-90)" font-size="56" textLength="74.5" lengthAdjust="spacingAndGlyphs">112</text>
<text class="se" transform="translate(2074.5,2317.5) rotate(-90)" font-size="56" textLength="76" lengthAdjust="spacingAndGlyphs">201</text>
<text class="se" transform="translate(277,2137.5) rotate(-90)" font-size="71.5" textLength="275" lengthAdjust="spacingAndGlyphs">Intensity</text>
<text class="se" x="1109" y="2688" font-size="76" textLength="159" lengthAdjust="spacingAndGlyphs">2<tspan font-style="italic">θ</tspan> (°)</text>
<text class="sa" x="1562.5" y="1591" font-size="75" textLength="93" lengthAdjust="spacingAndGlyphs">(b)</text>
</g>
</g>
</svg></body></html>
